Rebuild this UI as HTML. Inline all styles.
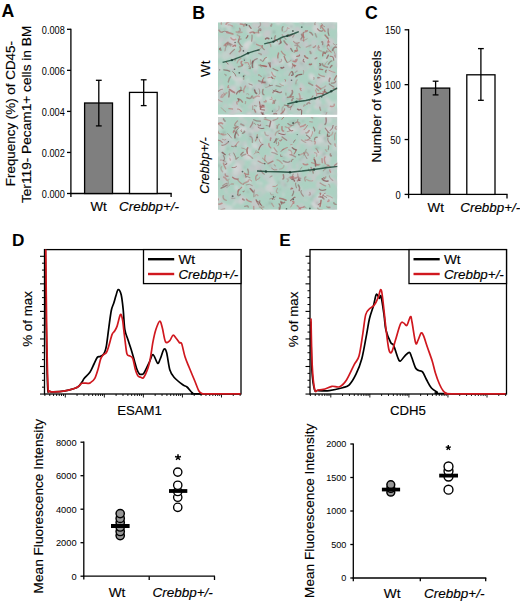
<!DOCTYPE html>
<html><head><meta charset="utf-8"><style>
html,body{margin:0;padding:0;background:#fff;}
body{width:520px;height:606px;overflow:hidden;}
svg{display:block;font-family:"Liberation Sans", sans-serif;}
text{stroke:#000;stroke-width:0.15px;paint-order:stroke;}
text[font-weight=bold]{stroke:none;}
</style></head><body>
<svg width="520" height="606" viewBox="0 0 520 606">
<rect width="520" height="606" fill="#fff"/>
<text x="1.5" y="17.3" font-size="17.7" text-anchor="start" font-weight="bold" font-style="normal" fill="#000" >A</text>
<line x1="70.9" y1="28.7" x2="70.9" y2="197.0" stroke="#000" stroke-width="1.3"/>
<line x1="67.0" y1="193.5" x2="70.9" y2="193.5" stroke="#000" stroke-width="1.3"/>
<text transform="translate(64.8,197.8) scale(0.92,1)" x="0" y="0" font-size="10.0" text-anchor="end" font-weight="normal" font-style="normal" fill="#000"  stroke="none" style="stroke:none">0.000</text>
<line x1="67.0" y1="152.45" x2="70.9" y2="152.45" stroke="#000" stroke-width="1.3"/>
<text transform="translate(64.8,156.75) scale(0.92,1)" x="0" y="0" font-size="10.0" text-anchor="end" font-weight="normal" font-style="normal" fill="#000"  stroke="none" style="stroke:none">0.002</text>
<line x1="67.0" y1="111.4" x2="70.9" y2="111.4" stroke="#000" stroke-width="1.3"/>
<text transform="translate(64.8,115.7) scale(0.92,1)" x="0" y="0" font-size="10.0" text-anchor="end" font-weight="normal" font-style="normal" fill="#000"  stroke="none" style="stroke:none">0.004</text>
<line x1="67.0" y1="70.35000000000001" x2="70.9" y2="70.35000000000001" stroke="#000" stroke-width="1.3"/>
<text transform="translate(64.8,74.65) scale(0.92,1)" x="0" y="0" font-size="10.0" text-anchor="end" font-weight="normal" font-style="normal" fill="#000"  stroke="none" style="stroke:none">0.006</text>
<line x1="67.0" y1="29.30000000000001" x2="70.9" y2="29.30000000000001" stroke="#000" stroke-width="1.3"/>
<text transform="translate(64.8,33.60000000000001) scale(0.92,1)" x="0" y="0" font-size="10.0" text-anchor="end" font-weight="normal" font-style="normal" fill="#000"  stroke="none" style="stroke:none">0.008</text>
<line x1="70.25" y1="193.5" x2="171.75" y2="193.5" stroke="#000" stroke-width="1.3"/>
<line x1="171.1" y1="193.5" x2="171.1" y2="197.0" stroke="#000" stroke-width="1.3"/>
<rect x="84.6" y="103.0" width="27.9" height="90.5" fill="#7f7f7f" stroke="#000" stroke-width="1.3"/>
<rect x="129.5" y="92.4" width="27.7" height="101.1" fill="#fff" stroke="#000" stroke-width="1.3"/>
<line x1="98.8" y1="80.3" x2="98.8" y2="125.9" stroke="#000" stroke-width="1.3"/>
<line x1="95.89999999999999" y1="80.3" x2="101.7" y2="80.3" stroke="#000" stroke-width="1.3"/>
<line x1="95.89999999999999" y1="125.9" x2="101.7" y2="125.9" stroke="#000" stroke-width="1.3"/>
<line x1="143.7" y1="79.8" x2="143.7" y2="105.6" stroke="#000" stroke-width="1.3"/>
<line x1="140.79999999999998" y1="79.8" x2="146.6" y2="79.8" stroke="#000" stroke-width="1.3"/>
<line x1="140.79999999999998" y1="105.6" x2="146.6" y2="105.6" stroke="#000" stroke-width="1.3"/>
<text x="90.4" y="210.5" font-size="13.4" text-anchor="start" font-weight="normal" font-style="normal" fill="#000" >Wt</text>
<text x="119.1" y="210.5" font-size="13.4" text-anchor="start" font-weight="normal" font-style="italic" fill="#000" >Crebbp+/-</text>
<text transform="translate(14.6,113.6) rotate(-90)" x="0" y="0" font-size="13.4" text-anchor="middle" font-style="normal">Frequency (%) of CD45-</text>
<text transform="translate(30.6,114.4) rotate(-90)" x="0" y="0" font-size="13.7" text-anchor="middle" font-style="normal">Ter119- Pecam1+ cells in BM</text>
<text x="192.3" y="18.5" font-size="17.7" text-anchor="start" font-weight="bold" font-style="normal" fill="#000" >B</text>
<text transform="translate(210.3,68.8) rotate(-90)" x="0" y="0" font-size="13.4" text-anchor="middle" font-style="normal">Wt</text>
<text transform="translate(209.2,165.5) rotate(-90)" x="0" y="0" font-size="12.6" text-anchor="middle" font-style="italic">Crebbp+/-</text>
<svg x="218" y="22.3" width="119.3" height="92.4" viewBox="0 0 119.3 92.4" overflow="hidden">
<defs><filter id="bl11" x="-5%" y="-5%" width="110%" height="110%"><feGaussianBlur stdDeviation="0.9"/></filter><filter id="bs11" x="-5%" y="-5%" width="110%" height="110%"><feGaussianBlur stdDeviation="0.45"/></filter></defs>
<rect width="119.3" height="92.4" fill="#acd1c2"/>
<g filter="url(#bl11)">
<ellipse cx="53.7" cy="52.1" rx="4.3" ry="2.9" transform="rotate(154 53.7 52.1)" fill="#d7d8d9" opacity="0.53"/>
<ellipse cx="97.7" cy="43.8" rx="3.3" ry="1.5" transform="rotate(55 97.7 43.8)" fill="#d0d1d2" opacity="0.49"/>
<ellipse cx="98.4" cy="65.2" rx="1.6" ry="1.6" transform="rotate(118 98.4 65.2)" fill="#d7d8d9" opacity="0.70"/>
<ellipse cx="16.7" cy="-1.5" rx="3.1" ry="1.3" transform="rotate(158 16.7 -1.5)" fill="#c8cbcb" opacity="0.69"/>
<ellipse cx="94.5" cy="29.1" rx="3.3" ry="2.3" transform="rotate(115 94.5 29.1)" fill="#d0d1d2" opacity="0.65"/>
<ellipse cx="80.0" cy="42.0" rx="2.3" ry="2.3" transform="rotate(151 80.0 42.0)" fill="#c5c9cb" opacity="0.73"/>
<ellipse cx="36.5" cy="19.6" rx="2.4" ry="1.7" transform="rotate(19 36.5 19.6)" fill="#c8cbcb" opacity="0.49"/>
<ellipse cx="33.5" cy="3.6" rx="1.6" ry="0.6" transform="rotate(38 33.5 3.6)" fill="#bacac6" opacity="0.81"/>
<ellipse cx="55.9" cy="93.5" rx="2.7" ry="2.0" transform="rotate(36 55.9 93.5)" fill="#c8cbcb" opacity="0.72"/>
<ellipse cx="39.2" cy="27.6" rx="1.5" ry="1.3" transform="rotate(21 39.2 27.6)" fill="#d7d8d9" opacity="0.55"/>
<ellipse cx="9.7" cy="2.9" rx="3.9" ry="3.1" transform="rotate(34 9.7 2.9)" fill="#d0d1d2" opacity="0.65"/>
<ellipse cx="120.5" cy="72.7" rx="2.8" ry="1.3" transform="rotate(76 120.5 72.7)" fill="#d7d8d9" opacity="0.54"/>
<ellipse cx="30.8" cy="92.5" rx="3.9" ry="3.9" transform="rotate(4 30.8 92.5)" fill="#bec4c5" opacity="0.52"/>
<ellipse cx="121.8" cy="56.2" rx="3.2" ry="3.2" transform="rotate(38 121.8 56.2)" fill="#c8cbcb" opacity="0.55"/>
<ellipse cx="93.8" cy="29.4" rx="2.4" ry="1.1" transform="rotate(38 93.8 29.4)" fill="#c8cbcb" opacity="0.70"/>
<ellipse cx="-1.1" cy="33.3" rx="3.4" ry="3.3" transform="rotate(87 -1.1 33.3)" fill="#d0d1d2" opacity="0.68"/>
<ellipse cx="105.6" cy="15.0" rx="2.0" ry="1.7" transform="rotate(45 105.6 15.0)" fill="#d0d1d2" opacity="0.53"/>
<ellipse cx="89.6" cy="89.5" rx="2.1" ry="1.9" transform="rotate(109 89.6 89.5)" fill="#d7d8d9" opacity="0.62"/>
<ellipse cx="10.0" cy="0.8" rx="4.4" ry="3.7" transform="rotate(70 10.0 0.8)" fill="#d0d1d2" opacity="0.62"/>
<ellipse cx="110.4" cy="45.3" rx="3.1" ry="3.0" transform="rotate(23 110.4 45.3)" fill="#bacac6" opacity="0.64"/>
<ellipse cx="78.9" cy="57.6" rx="1.7" ry="1.6" transform="rotate(37 78.9 57.6)" fill="#d0d1d2" opacity="0.46"/>
<ellipse cx="30.7" cy="40.9" rx="1.7" ry="1.0" transform="rotate(96 30.7 40.9)" fill="#d0d1d2" opacity="0.84"/>
<ellipse cx="8.6" cy="10.6" rx="2.9" ry="2.3" transform="rotate(124 8.6 10.6)" fill="#bec4c5" opacity="0.68"/>
<ellipse cx="14.6" cy="0.5" rx="1.6" ry="1.3" transform="rotate(173 14.6 0.5)" fill="#bec4c5" opacity="0.46"/>
<ellipse cx="76.7" cy="44.5" rx="3.7" ry="1.8" transform="rotate(13 76.7 44.5)" fill="#bec4c5" opacity="0.63"/>
<ellipse cx="43.1" cy="1.4" rx="4.3" ry="3.5" transform="rotate(143 43.1 1.4)" fill="#bacac6" opacity="0.82"/>
<ellipse cx="41.1" cy="64.4" rx="4.2" ry="3.8" transform="rotate(170 41.1 64.4)" fill="#cdc7cb" opacity="0.46"/>
<ellipse cx="59.6" cy="-1.6" rx="3.5" ry="2.6" transform="rotate(110 59.6 -1.6)" fill="#d7d8d9" opacity="0.48"/>
<ellipse cx="77.1" cy="94.7" rx="4.1" ry="2.5" transform="rotate(168 77.1 94.7)" fill="#bacac6" opacity="0.73"/>
<ellipse cx="54.4" cy="42.5" rx="3.1" ry="2.7" transform="rotate(5 54.4 42.5)" fill="#c5c9cb" opacity="0.69"/>
<ellipse cx="57.3" cy="19.7" rx="3.6" ry="3.1" transform="rotate(119 57.3 19.7)" fill="#d7d8d9" opacity="0.64"/>
<ellipse cx="109.3" cy="33.2" rx="1.9" ry="1.0" transform="rotate(31 109.3 33.2)" fill="#c5c9cb" opacity="0.81"/>
<ellipse cx="79.7" cy="40.5" rx="4.2" ry="2.7" transform="rotate(45 79.7 40.5)" fill="#bec4c5" opacity="0.70"/>
<ellipse cx="97.7" cy="71.3" rx="2.1" ry="1.3" transform="rotate(105 97.7 71.3)" fill="#d0d1d2" opacity="0.58"/>
<ellipse cx="14.1" cy="45.9" rx="4.0" ry="1.7" transform="rotate(12 14.1 45.9)" fill="#cdc7cb" opacity="0.84"/>
<ellipse cx="100.0" cy="8.1" rx="2.9" ry="2.6" transform="rotate(69 100.0 8.1)" fill="#d0d1d2" opacity="0.66"/>
<ellipse cx="81.2" cy="67.5" rx="4.0" ry="2.7" transform="rotate(13 81.2 67.5)" fill="#c5c9cb" opacity="0.46"/>
<ellipse cx="106.4" cy="1.1" rx="3.6" ry="2.2" transform="rotate(117 106.4 1.1)" fill="#c5c9cb" opacity="0.68"/>
<ellipse cx="77.3" cy="36.9" rx="2.1" ry="1.9" transform="rotate(43 77.3 36.9)" fill="#cdc7cb" opacity="0.51"/>
<ellipse cx="2.9" cy="58.9" rx="2.8" ry="2.0" transform="rotate(115 2.9 58.9)" fill="#bacac6" opacity="0.60"/>
<ellipse cx="6.8" cy="16.5" rx="4.0" ry="2.0" transform="rotate(2 6.8 16.5)" fill="#bec4c5" opacity="0.64"/>
<ellipse cx="86.5" cy="14.6" rx="2.3" ry="1.7" transform="rotate(170 86.5 14.6)" fill="#bec4c5" opacity="0.65"/>
<ellipse cx="121.9" cy="12.7" rx="4.0" ry="3.8" transform="rotate(16 121.9 12.7)" fill="#bacac6" opacity="0.82"/>
<ellipse cx="87.5" cy="9.8" rx="2.9" ry="2.7" transform="rotate(1 87.5 9.8)" fill="#bacac6" opacity="0.67"/>
<ellipse cx="78.8" cy="46.5" rx="4.0" ry="2.7" transform="rotate(117 78.8 46.5)" fill="#bec4c5" opacity="0.53"/>
<ellipse cx="87.5" cy="77.5" rx="3.4" ry="1.6" transform="rotate(44 87.5 77.5)" fill="#bacac6" opacity="0.61"/>
<ellipse cx="8.0" cy="27.5" rx="4.4" ry="2.5" transform="rotate(129 8.0 27.5)" fill="#bec4c5" opacity="0.46"/>
<ellipse cx="60.2" cy="0.7" rx="2.5" ry="2.2" transform="rotate(88 60.2 0.7)" fill="#d7d8d9" opacity="0.46"/>
<ellipse cx="98.4" cy="3.3" rx="3.9" ry="2.8" transform="rotate(124 98.4 3.3)" fill="#d0d1d2" opacity="0.82"/>
<ellipse cx="56.0" cy="95.4" rx="4.2" ry="3.8" transform="rotate(124 56.0 95.4)" fill="#c5c9cb" opacity="0.83"/>
<ellipse cx="58.7" cy="90.4" rx="1.8" ry="1.2" transform="rotate(101 58.7 90.4)" fill="#d0d1d2" opacity="0.78"/>
<ellipse cx="67.4" cy="13.2" rx="3.0" ry="1.7" transform="rotate(121 67.4 13.2)" fill="#c5c9cb" opacity="0.83"/>
<ellipse cx="106.0" cy="57.0" rx="2.4" ry="2.4" transform="rotate(94 106.0 57.0)" fill="#d0d1d2" opacity="0.68"/>
<ellipse cx="22.2" cy="49.7" rx="3.0" ry="1.9" transform="rotate(97 22.2 49.7)" fill="#c5c9cb" opacity="0.47"/>
<ellipse cx="111.9" cy="50.5" rx="4.5" ry="3.1" transform="rotate(124 111.9 50.5)" fill="#c8cbcb" opacity="0.48"/>
<ellipse cx="64.5" cy="37.7" rx="4.4" ry="2.5" transform="rotate(85 64.5 37.7)" fill="#d7d8d9" opacity="0.50"/>
<ellipse cx="51.3" cy="77.3" rx="4.2" ry="3.0" transform="rotate(20 51.3 77.3)" fill="#d7d8d9" opacity="0.62"/>
<ellipse cx="0.7" cy="22.6" rx="3.6" ry="1.5" transform="rotate(28 0.7 22.6)" fill="#c8cbcb" opacity="0.45"/>
<ellipse cx="32.6" cy="68.2" rx="2.2" ry="1.0" transform="rotate(132 32.6 68.2)" fill="#d7d8d9" opacity="0.50"/>
<ellipse cx="61.0" cy="21.7" rx="2.1" ry="1.9" transform="rotate(4 61.0 21.7)" fill="#c5c9cb" opacity="0.70"/>
<ellipse cx="100.4" cy="57.6" rx="3.1" ry="2.4" transform="rotate(115 100.4 57.6)" fill="#cdc7cb" opacity="0.66"/>
<ellipse cx="103.7" cy="57.2" rx="4.1" ry="3.9" transform="rotate(113 103.7 57.2)" fill="#d0d1d2" opacity="0.59"/>
<ellipse cx="19.7" cy="56.3" rx="4.2" ry="2.2" transform="rotate(180 19.7 56.3)" fill="#d0d1d2" opacity="0.81"/>
<ellipse cx="13.8" cy="20.6" rx="3.7" ry="2.3" transform="rotate(78 13.8 20.6)" fill="#bec4c5" opacity="0.83"/>
<ellipse cx="65.1" cy="66.4" rx="2.1" ry="1.7" transform="rotate(3 65.1 66.4)" fill="#bacac6" opacity="0.53"/>
<ellipse cx="82.5" cy="86.7" rx="4.4" ry="3.6" transform="rotate(114 82.5 86.7)" fill="#c8cbcb" opacity="0.59"/>
<ellipse cx="122.1" cy="79.0" rx="3.9" ry="1.8" transform="rotate(7 122.1 79.0)" fill="#d7d8d9" opacity="0.67"/>
<ellipse cx="61.5" cy="53.0" rx="1.9" ry="0.9" transform="rotate(31 61.5 53.0)" fill="#d0d1d2" opacity="0.51"/>
<ellipse cx="32.5" cy="63.2" rx="3.2" ry="3.1" transform="rotate(83 32.5 63.2)" fill="#d0d1d2" opacity="0.76"/>
<ellipse cx="38.0" cy="42.9" rx="3.0" ry="1.6" transform="rotate(67 38.0 42.9)" fill="#d7d8d9" opacity="0.70"/>
<ellipse cx="2.1" cy="16.7" rx="2.7" ry="2.3" transform="rotate(73 2.1 16.7)" fill="#bec4c5" opacity="0.53"/>
<ellipse cx="17.7" cy="47.4" rx="1.5" ry="1.4" transform="rotate(127 17.7 47.4)" fill="#c8cbcb" opacity="0.79"/>
<ellipse cx="75.9" cy="36.8" rx="3.3" ry="2.5" transform="rotate(61 75.9 36.8)" fill="#c5c9cb" opacity="0.75"/>
<ellipse cx="32.0" cy="8.4" rx="3.7" ry="3.3" transform="rotate(73 32.0 8.4)" fill="#d0d1d2" opacity="0.81"/>
<ellipse cx="107.2" cy="65.4" rx="3.8" ry="1.9" transform="rotate(37 107.2 65.4)" fill="#cdc7cb" opacity="0.52"/>
<ellipse cx="96.9" cy="26.7" rx="1.8" ry="1.8" transform="rotate(162 96.9 26.7)" fill="#bec4c5" opacity="0.47"/>
<ellipse cx="31.2" cy="91.6" rx="2.4" ry="1.9" transform="rotate(103 31.2 91.6)" fill="#d0d1d2" opacity="0.66"/>
<ellipse cx="45.8" cy="95.4" rx="3.4" ry="1.6" transform="rotate(71 45.8 95.4)" fill="#bacac6" opacity="0.68"/>
<ellipse cx="11.4" cy="7.6" rx="2.2" ry="1.4" transform="rotate(9 11.4 7.6)" fill="#d7d8d9" opacity="0.53"/>
<ellipse cx="44.1" cy="6.7" rx="2.3" ry="1.6" transform="rotate(91 44.1 6.7)" fill="#bec4c5" opacity="0.84"/>
<ellipse cx="68.2" cy="94.9" rx="3.4" ry="2.7" transform="rotate(99 68.2 94.9)" fill="#cdc7cb" opacity="0.72"/>
<ellipse cx="116.7" cy="35.0" rx="4.3" ry="2.9" transform="rotate(30 116.7 35.0)" fill="#d7d8d9" opacity="0.65"/>
<ellipse cx="73.6" cy="2.8" rx="4.3" ry="2.5" transform="rotate(72 73.6 2.8)" fill="#d7d8d9" opacity="0.57"/>
<ellipse cx="63.5" cy="44.6" rx="2.3" ry="1.8" transform="rotate(135 63.5 44.6)" fill="#bec4c5" opacity="0.46"/>
<ellipse cx="93.8" cy="54.6" rx="3.4" ry="2.9" transform="rotate(70 93.8 54.6)" fill="#d7d8d9" opacity="0.81"/>
<ellipse cx="90.8" cy="1.9" rx="4.5" ry="2.0" transform="rotate(163 90.8 1.9)" fill="#bec4c5" opacity="0.62"/>
<ellipse cx="56.8" cy="92.8" rx="2.2" ry="1.0" transform="rotate(146 56.8 92.8)" fill="#c5c9cb" opacity="0.81"/>
<ellipse cx="15.1" cy="91.5" rx="2.2" ry="1.0" transform="rotate(112 15.1 91.5)" fill="#bacac6" opacity="0.63"/>
<ellipse cx="22.5" cy="2.1" rx="3.1" ry="1.9" transform="rotate(25 22.5 2.1)" fill="#c8cbcb" opacity="0.62"/>
<ellipse cx="72.3" cy="59.9" rx="3.5" ry="3.1" transform="rotate(96 72.3 59.9)" fill="#bec4c5" opacity="0.85"/>
<ellipse cx="116.4" cy="69.3" rx="2.2" ry="1.6" transform="rotate(56 116.4 69.3)" fill="#c8cbcb" opacity="0.65"/>
<ellipse cx="103.1" cy="24.0" rx="3.3" ry="2.5" transform="rotate(107 103.1 24.0)" fill="#bacac6" opacity="0.70"/>
<ellipse cx="91.4" cy="15.7" rx="2.2" ry="2.1" transform="rotate(158 91.4 15.7)" fill="#bacac6" opacity="0.47"/>
<ellipse cx="4.6" cy="23.7" rx="2.8" ry="1.2" transform="rotate(40 4.6 23.7)" fill="#c5c9cb" opacity="0.56"/>
<ellipse cx="91.7" cy="86.8" rx="2.0" ry="1.5" transform="rotate(67 91.7 86.8)" fill="#d0d1d2" opacity="0.64"/>
<ellipse cx="23.4" cy="30.8" rx="3.7" ry="3.4" transform="rotate(144 23.4 30.8)" fill="#cdc7cb" opacity="0.63"/>
<ellipse cx="100.0" cy="79.5" rx="3.8" ry="2.5" transform="rotate(46 100.0 79.5)" fill="#d7d8d9" opacity="0.77"/>
<ellipse cx="43.2" cy="61.3" rx="4.5" ry="2.6" transform="rotate(137 43.2 61.3)" fill="#bec4c5" opacity="0.78"/>
<ellipse cx="20.0" cy="61.3" rx="3.2" ry="3.0" transform="rotate(14 20.0 61.3)" fill="#d7d8d9" opacity="0.48"/>
<ellipse cx="67.7" cy="44.7" rx="3.6" ry="3.2" transform="rotate(2 67.7 44.7)" fill="#bec4c5" opacity="0.57"/>
<ellipse cx="111.1" cy="56.4" rx="3.6" ry="3.0" transform="rotate(125 111.1 56.4)" fill="#d7d8d9" opacity="0.56"/>
<ellipse cx="14.9" cy="32.2" rx="3.7" ry="3.5" transform="rotate(58 14.9 32.2)" fill="#bec4c5" opacity="0.63"/>
<ellipse cx="71.5" cy="85.8" rx="3.6" ry="2.4" transform="rotate(145 71.5 85.8)" fill="#bec4c5" opacity="0.57"/>
<ellipse cx="36.8" cy="36.3" rx="4.3" ry="2.4" transform="rotate(65 36.8 36.3)" fill="#c5c9cb" opacity="0.60"/>
<ellipse cx="42.5" cy="35.9" rx="2.7" ry="2.2" transform="rotate(66 42.5 35.9)" fill="#d0d1d2" opacity="0.61"/>
<ellipse cx="16.4" cy="55.2" rx="2.0" ry="1.7" transform="rotate(159 16.4 55.2)" fill="#c8cbcb" opacity="0.56"/>
<ellipse cx="-0.2" cy="47.7" rx="3.1" ry="1.8" transform="rotate(4 -0.2 47.7)" fill="#c5c9cb" opacity="0.79"/>
<ellipse cx="50.0" cy="54.3" rx="2.4" ry="1.1" transform="rotate(15 50.0 54.3)" fill="#c5c9cb" opacity="0.74"/>
<ellipse cx="109.7" cy="5.3" rx="3.4" ry="1.6" transform="rotate(147 109.7 5.3)" fill="#d0d1d2" opacity="0.62"/>
<ellipse cx="86.2" cy="45.1" rx="4.2" ry="3.6" transform="rotate(71 86.2 45.1)" fill="#bec4c5" opacity="0.59"/>
<ellipse cx="118.3" cy="63.2" rx="3.0" ry="2.6" transform="rotate(13 118.3 63.2)" fill="#c5c9cb" opacity="0.70"/>
<ellipse cx="2.8" cy="71.5" rx="4.5" ry="4.1" transform="rotate(145 2.8 71.5)" fill="#bec4c5" opacity="0.78"/>
<ellipse cx="108.3" cy="91.2" rx="3.4" ry="2.1" transform="rotate(2 108.3 91.2)" fill="#c5c9cb" opacity="0.49"/>
<ellipse cx="112.7" cy="87.1" rx="2.2" ry="2.2" transform="rotate(68 112.7 87.1)" fill="#d0d1d2" opacity="0.52"/>
<ellipse cx="22.6" cy="38.8" rx="2.4" ry="1.6" transform="rotate(132 22.6 38.8)" fill="#c8cbcb" opacity="0.57"/>
<ellipse cx="16.5" cy="87.5" rx="4.2" ry="2.9" transform="rotate(105 16.5 87.5)" fill="#cdc7cb" opacity="0.81"/>
<ellipse cx="1.6" cy="7.7" rx="2.1" ry="1.5" transform="rotate(108 1.6 7.7)" fill="#d0d1d2" opacity="0.64"/>
<ellipse cx="60.7" cy="40.5" rx="4.2" ry="2.1" transform="rotate(136 60.7 40.5)" fill="#d7d8d9" opacity="0.57"/>
<ellipse cx="65.7" cy="77.4" rx="2.9" ry="2.0" transform="rotate(72 65.7 77.4)" fill="#bec4c5" opacity="0.83"/>
<ellipse cx="79.7" cy="72.9" rx="1.8" ry="0.9" transform="rotate(9 79.7 72.9)" fill="#cdc7cb" opacity="0.83"/>
<ellipse cx="97.4" cy="34.9" rx="3.1" ry="2.7" transform="rotate(142 97.4 34.9)" fill="#c5c9cb" opacity="0.47"/>
<ellipse cx="112.8" cy="84.8" rx="4.1" ry="2.8" transform="rotate(44 112.8 84.8)" fill="#bec4c5" opacity="0.62"/>
<ellipse cx="106.6" cy="37.9" rx="3.8" ry="2.1" transform="rotate(156 106.6 37.9)" fill="#d0d1d2" opacity="0.66"/>
<ellipse cx="76.8" cy="94.7" rx="2.3" ry="1.0" transform="rotate(103 76.8 94.7)" fill="#c5c9cb" opacity="0.52"/>
<ellipse cx="22.6" cy="87.2" rx="1.9" ry="0.9" transform="rotate(49 22.6 87.2)" fill="#d0d1d2" opacity="0.74"/>
<ellipse cx="9.2" cy="44.2" rx="2.9" ry="2.2" transform="rotate(154 9.2 44.2)" fill="#bacac6" opacity="0.57"/>
<ellipse cx="95.9" cy="38.0" rx="4.3" ry="3.7" transform="rotate(79 95.9 38.0)" fill="#c8cbcb" opacity="0.46"/>
<ellipse cx="48.8" cy="45.6" rx="4.3" ry="2.6" transform="rotate(73 48.8 45.6)" fill="#bec4c5" opacity="0.67"/>
<ellipse cx="122.0" cy="62.6" rx="1.7" ry="1.4" transform="rotate(19 122.0 62.6)" fill="#c8cbcb" opacity="0.61"/>
<ellipse cx="54.9" cy="92.1" rx="4.0" ry="2.7" transform="rotate(155 54.9 92.1)" fill="#bacac6" opacity="0.73"/>
<ellipse cx="56.5" cy="25.9" rx="1.8" ry="0.7" transform="rotate(178 56.5 25.9)" fill="#cdc7cb" opacity="0.77"/>
<ellipse cx="22.9" cy="57.6" rx="2.4" ry="2.3" transform="rotate(135 22.9 57.6)" fill="#d7d8d9" opacity="0.83"/>
<ellipse cx="91.6" cy="51.7" rx="1.8" ry="0.9" transform="rotate(132 91.6 51.7)" fill="#d0d1d2" opacity="0.58"/>
<ellipse cx="115.4" cy="52.4" rx="3.7" ry="2.5" transform="rotate(69 115.4 52.4)" fill="#bec4c5" opacity="0.49"/>
<ellipse cx="74.9" cy="9.9" rx="3.4" ry="1.7" transform="rotate(72 74.9 9.9)" fill="#d0d1d2" opacity="0.78"/>
<ellipse cx="71.3" cy="5.9" rx="2.2" ry="2.2" transform="rotate(78 71.3 5.9)" fill="#d0d1d2" opacity="0.76"/>
<ellipse cx="39.8" cy="78.0" rx="4.3" ry="3.4" transform="rotate(138 39.8 78.0)" fill="#d0d1d2" opacity="0.78"/>
<ellipse cx="45.4" cy="29.6" rx="2.7" ry="2.3" transform="rotate(110 45.4 29.6)" fill="#c8cbcb" opacity="0.58"/>
<ellipse cx="95.8" cy="21.1" rx="4.5" ry="1.8" transform="rotate(60 95.8 21.1)" fill="#c5c9cb" opacity="0.59"/>
<ellipse cx="78.5" cy="7.5" rx="2.6" ry="1.6" transform="rotate(53 78.5 7.5)" fill="#c5c9cb" opacity="0.49"/>
<ellipse cx="86.4" cy="22.0" rx="3.1" ry="2.3" transform="rotate(63 86.4 22.0)" fill="#bec4c5" opacity="0.65"/>
<ellipse cx="14.8" cy="67.2" rx="4.5" ry="4.5" transform="rotate(127 14.8 67.2)" fill="#c5c9cb" opacity="0.82"/>
<ellipse cx="68.1" cy="-0.4" rx="3.5" ry="1.6" transform="rotate(44 68.1 -0.4)" fill="#cdc7cb" opacity="0.68"/>
<ellipse cx="84.3" cy="29.4" rx="4.3" ry="2.4" transform="rotate(159 84.3 29.4)" fill="#bec4c5" opacity="0.63"/>
<ellipse cx="88.4" cy="20.5" rx="3.2" ry="2.4" transform="rotate(101 88.4 20.5)" fill="#c5c9cb" opacity="0.56"/>
<ellipse cx="110.9" cy="94.6" rx="4.0" ry="1.9" transform="rotate(168 110.9 94.6)" fill="#c5c9cb" opacity="0.45"/>
<ellipse cx="82.8" cy="32.8" rx="3.8" ry="3.4" transform="rotate(33 82.8 32.8)" fill="#bec4c5" opacity="0.67"/>
<ellipse cx="6.6" cy="0.2" rx="2.0" ry="1.0" transform="rotate(136 6.6 0.2)" fill="#bacac6" opacity="0.79"/>
<ellipse cx="110.6" cy="57.5" rx="3.4" ry="1.4" transform="rotate(36 110.6 57.5)" fill="#cdc7cb" opacity="0.64"/>
<ellipse cx="14.9" cy="35.0" rx="3.2" ry="1.9" transform="rotate(24 14.9 35.0)" fill="#d0d1d2" opacity="0.55"/>
<ellipse cx="113.7" cy="2.3" rx="3.9" ry="3.1" transform="rotate(26 113.7 2.3)" fill="#bacac6" opacity="0.83"/>
<ellipse cx="72.2" cy="43.2" rx="2.7" ry="2.6" transform="rotate(102 72.2 43.2)" fill="#c5c9cb" opacity="0.61"/>
<ellipse cx="32.3" cy="84.5" rx="2.9" ry="2.4" transform="rotate(149 32.3 84.5)" fill="#cdc7cb" opacity="0.50"/>
<ellipse cx="11.4" cy="89.4" rx="2.5" ry="1.6" transform="rotate(163 11.4 89.4)" fill="#c5c9cb" opacity="0.58"/>
<ellipse cx="3.9" cy="68.4" rx="4.2" ry="2.6" transform="rotate(58 3.9 68.4)" fill="#bacac6" opacity="0.77"/>
<ellipse cx="107.6" cy="83.3" rx="2.2" ry="1.5" transform="rotate(90 107.6 83.3)" fill="#cdc7cb" opacity="0.61"/>
<ellipse cx="3.5" cy="65.4" rx="3.1" ry="2.2" transform="rotate(118 3.5 65.4)" fill="#d0d1d2" opacity="0.83"/>
<ellipse cx="107.2" cy="95.3" rx="3.7" ry="3.0" transform="rotate(156 107.2 95.3)" fill="#cdc7cb" opacity="0.62"/>
<ellipse cx="97.9" cy="18.8" rx="3.7" ry="1.8" transform="rotate(13 97.9 18.8)" fill="#c5c9cb" opacity="0.66"/>
<ellipse cx="13.3" cy="83.8" rx="3.2" ry="1.3" transform="rotate(44 13.3 83.8)" fill="#d7d8d9" opacity="0.57"/>
<ellipse cx="37.7" cy="3.2" rx="4.2" ry="3.0" transform="rotate(25 37.7 3.2)" fill="#cdc7cb" opacity="0.73"/>
<ellipse cx="25.9" cy="27.1" rx="2.9" ry="1.7" transform="rotate(90 25.9 27.1)" fill="#bec4c5" opacity="0.82"/>
<ellipse cx="119.5" cy="43.5" rx="2.1" ry="1.9" transform="rotate(125 119.5 43.5)" fill="#bec4c5" opacity="0.47"/>
<ellipse cx="36.6" cy="81.5" rx="4.2" ry="2.1" transform="rotate(158 36.6 81.5)" fill="#c8cbcb" opacity="0.85"/>
<ellipse cx="22.3" cy="59.2" rx="2.1" ry="1.6" transform="rotate(55 22.3 59.2)" fill="#c8cbcb" opacity="0.78"/>
<ellipse cx="117.5" cy="24.0" rx="2.8" ry="1.7" transform="rotate(172 117.5 24.0)" fill="#d0d1d2" opacity="0.76"/>
<ellipse cx="49.0" cy="13.7" rx="4.1" ry="3.4" transform="rotate(35 49.0 13.7)" fill="#c8cbcb" opacity="0.52"/>
<ellipse cx="26.5" cy="62.4" rx="3.9" ry="3.4" transform="rotate(94 26.5 62.4)" fill="#bec4c5" opacity="0.50"/>
<ellipse cx="61.6" cy="93.2" rx="4.2" ry="3.4" transform="rotate(50 61.6 93.2)" fill="#d0d1d2" opacity="0.71"/>
<ellipse cx="8.3" cy="93.7" rx="2.8" ry="1.3" transform="rotate(163 8.3 93.7)" fill="#c5c9cb" opacity="0.45"/>
<ellipse cx="70.5" cy="49.9" rx="2.8" ry="1.3" transform="rotate(51 70.5 49.9)" fill="#c5c9cb" opacity="0.75"/>
<ellipse cx="27.8" cy="24.5" rx="3.1" ry="2.7" transform="rotate(27 27.8 24.5)" fill="#d0d1d2" opacity="0.81"/>
<ellipse cx="74.9" cy="87.2" rx="3.3" ry="3.1" transform="rotate(90 74.9 87.2)" fill="#c8cbcb" opacity="0.52"/>
<ellipse cx="66.7" cy="60.5" rx="2.6" ry="1.8" transform="rotate(6 66.7 60.5)" fill="#bacac6" opacity="0.57"/>
<ellipse cx="100.6" cy="59.5" rx="4.5" ry="4.3" transform="rotate(31 100.6 59.5)" fill="#bacac6" opacity="0.76"/>
<ellipse cx="17.7" cy="56.8" rx="2.2" ry="1.6" transform="rotate(46 17.7 56.8)" fill="#d7d8d9" opacity="0.74"/>
<ellipse cx="87.4" cy="22.6" rx="3.1" ry="2.3" transform="rotate(90 87.4 22.6)" fill="#cdc7cb" opacity="0.46"/>
<ellipse cx="71.8" cy="67.3" rx="3.2" ry="3.0" transform="rotate(59 71.8 67.3)" fill="#cdc7cb" opacity="0.69"/>
<ellipse cx="73.3" cy="76.3" rx="3.0" ry="1.7" transform="rotate(144 73.3 76.3)" fill="#bacac6" opacity="0.48"/>
<ellipse cx="110.7" cy="53.0" rx="3.1" ry="2.6" transform="rotate(112 110.7 53.0)" fill="#cdc7cb" opacity="0.47"/>
<ellipse cx="50.3" cy="65.5" rx="4.0" ry="2.8" transform="rotate(48 50.3 65.5)" fill="#bacac6" opacity="0.69"/>
<ellipse cx="8.1" cy="77.7" rx="2.0" ry="1.1" transform="rotate(89 8.1 77.7)" fill="#bec4c5" opacity="0.71"/>
<ellipse cx="71.7" cy="41.7" rx="2.4" ry="1.5" transform="rotate(39 71.7 41.7)" fill="#d7d8d9" opacity="0.84"/>
<ellipse cx="2.3" cy="45.2" rx="3.8" ry="1.8" transform="rotate(82 2.3 45.2)" fill="#d0d1d2" opacity="0.75"/>
<ellipse cx="1.9" cy="20.7" rx="4.2" ry="1.9" transform="rotate(100 1.9 20.7)" fill="#d0d1d2" opacity="0.64"/>
<ellipse cx="114.2" cy="92.6" rx="3.5" ry="3.0" transform="rotate(132 114.2 92.6)" fill="#bacac6" opacity="0.54"/>
<ellipse cx="28.7" cy="51.3" rx="2.2" ry="1.0" transform="rotate(41 28.7 51.3)" fill="#d7d8d9" opacity="0.57"/>
<ellipse cx="115.6" cy="87.8" rx="2.2" ry="1.4" transform="rotate(117 115.6 87.8)" fill="#d0d1d2" opacity="0.47"/>
<ellipse cx="40.0" cy="65.4" rx="4.1" ry="3.9" transform="rotate(32 40.0 65.4)" fill="#c5c9cb" opacity="0.79"/>
<ellipse cx="114.2" cy="18.0" rx="2.6" ry="1.4" transform="rotate(63 114.2 18.0)" fill="#c8cbcb" opacity="0.52"/>
<ellipse cx="65.9" cy="13.1" rx="2.1" ry="1.6" transform="rotate(137 65.9 13.1)" fill="#d0d1d2" opacity="0.64"/>
<ellipse cx="58.4" cy="58.7" rx="2.0" ry="1.1" transform="rotate(69 58.4 58.7)" fill="#d7d8d9" opacity="0.48"/>
<ellipse cx="83.6" cy="32.7" rx="2.3" ry="1.7" transform="rotate(133 83.6 32.7)" fill="#c8cbcb" opacity="0.65"/>
<ellipse cx="68.1" cy="60.9" rx="2.2" ry="1.3" transform="rotate(28 68.1 60.9)" fill="#c8cbcb" opacity="0.82"/>
<ellipse cx="42.1" cy="72.3" rx="3.7" ry="1.5" transform="rotate(58 42.1 72.3)" fill="#c8cbcb" opacity="0.60"/>
<ellipse cx="7.4" cy="83.8" rx="2.5" ry="2.3" transform="rotate(120 7.4 83.8)" fill="#cdc7cb" opacity="0.57"/>
<ellipse cx="73.2" cy="45.1" rx="2.1" ry="1.6" transform="rotate(6 73.2 45.1)" fill="#c5c9cb" opacity="0.57"/>
<ellipse cx="50.1" cy="50.5" rx="1.9" ry="1.4" transform="rotate(56 50.1 50.5)" fill="#bacac6" opacity="0.63"/>
<ellipse cx="44.2" cy="83.6" rx="4.0" ry="3.3" transform="rotate(73 44.2 83.6)" fill="#c5c9cb" opacity="0.60"/>
<ellipse cx="105.5" cy="19.2" rx="2.4" ry="1.8" transform="rotate(25 105.5 19.2)" fill="#bec4c5" opacity="0.79"/>
<ellipse cx="90.6" cy="44.5" rx="1.5" ry="1.5" transform="rotate(54 90.6 44.5)" fill="#cdc7cb" opacity="0.72"/>
<ellipse cx="112.2" cy="18.3" rx="3.6" ry="1.7" transform="rotate(139 112.2 18.3)" fill="#bacac6" opacity="0.60"/>
<ellipse cx="95.1" cy="22.5" rx="3.9" ry="2.5" transform="rotate(11 95.1 22.5)" fill="#c8cbcb" opacity="0.60"/>
<ellipse cx="38.1" cy="45.9" rx="2.3" ry="2.2" transform="rotate(36 38.1 45.9)" fill="#d0d1d2" opacity="0.76"/>
<ellipse cx="40.9" cy="67.1" rx="3.1" ry="1.9" transform="rotate(76 40.9 67.1)" fill="#bacac6" opacity="0.51"/>
<ellipse cx="70.0" cy="66.0" rx="3.2" ry="3.0" transform="rotate(162 70.0 66.0)" fill="#bacac6" opacity="0.50"/>
<ellipse cx="111.0" cy="86.8" rx="2.3" ry="1.6" transform="rotate(105 111.0 86.8)" fill="#d7d8d9" opacity="0.64"/>
<ellipse cx="37.8" cy="21.9" rx="1.6" ry="0.9" transform="rotate(67 37.8 21.9)" fill="#bec4c5" opacity="0.57"/>
<ellipse cx="99.1" cy="84.3" rx="3.4" ry="2.6" transform="rotate(172 99.1 84.3)" fill="#d7d8d9" opacity="0.60"/>
<ellipse cx="69.2" cy="89.7" rx="3.8" ry="1.6" transform="rotate(98 69.2 89.7)" fill="#bacac6" opacity="0.70"/>
<ellipse cx="5.0" cy="3.7" rx="2.9" ry="1.8" transform="rotate(164 5.0 3.7)" fill="#d7d8d9" opacity="0.47"/>
<ellipse cx="14.0" cy="46.9" rx="2.4" ry="1.7" transform="rotate(4 14.0 46.9)" fill="#bec4c5" opacity="0.69"/>
<ellipse cx="30.8" cy="22.4" rx="2.2" ry="0.9" transform="rotate(98 30.8 22.4)" fill="#c5c9cb" opacity="0.61"/>
<ellipse cx="27.0" cy="45.6" rx="3.5" ry="1.5" transform="rotate(148 27.0 45.6)" fill="#c5c9cb" opacity="0.80"/>
<ellipse cx="83.6" cy="75.4" rx="2.3" ry="2.1" transform="rotate(56 83.6 75.4)" fill="#c8cbcb" opacity="0.74"/>
<ellipse cx="84.1" cy="64.6" rx="4.4" ry="2.2" transform="rotate(60 84.1 64.6)" fill="#cdc7cb" opacity="0.73"/>
<ellipse cx="97.9" cy="25.9" rx="2.7" ry="2.3" transform="rotate(96 97.9 25.9)" fill="#bec4c5" opacity="0.54"/>
<ellipse cx="28.2" cy="29.0" rx="2.0" ry="1.7" transform="rotate(158 28.2 29.0)" fill="#c5c9cb" opacity="0.85"/>
<ellipse cx="99.5" cy="84.1" rx="2.4" ry="1.6" transform="rotate(139 99.5 84.1)" fill="#cdc7cb" opacity="0.64"/>
<ellipse cx="17.4" cy="82.2" rx="4.1" ry="2.5" transform="rotate(72 17.4 82.2)" fill="#c8cbcb" opacity="0.75"/>
<ellipse cx="83.9" cy="21.9" rx="3.4" ry="2.8" transform="rotate(59 83.9 21.9)" fill="#bec4c5" opacity="0.58"/>
<ellipse cx="92.1" cy="79.9" rx="4.0" ry="3.9" transform="rotate(115 92.1 79.9)" fill="#c5c9cb" opacity="0.50"/>
<ellipse cx="89.8" cy="23.5" rx="2.0" ry="1.2" transform="rotate(120 89.8 23.5)" fill="#d0d1d2" opacity="0.54"/>
<ellipse cx="20.1" cy="-1.7" rx="3.3" ry="3.2" transform="rotate(24 20.1 -1.7)" fill="#cdc7cb" opacity="0.73"/>
<ellipse cx="49.5" cy="59.1" rx="2.7" ry="2.7" transform="rotate(9 49.5 59.1)" fill="#bacac6" opacity="0.74"/>
<ellipse cx="11.8" cy="1.2" rx="2.4" ry="1.7" transform="rotate(144 11.8 1.2)" fill="#bacac6" opacity="0.61"/>
<ellipse cx="110.4" cy="78.9" rx="4.1" ry="2.5" transform="rotate(56 110.4 78.9)" fill="#d0d1d2" opacity="0.77"/>
<ellipse cx="102.1" cy="24.9" rx="2.7" ry="1.7" transform="rotate(26 102.1 24.9)" fill="#c5c9cb" opacity="0.68"/>
<ellipse cx="81.6" cy="18.3" rx="2.3" ry="1.1" transform="rotate(32 81.6 18.3)" fill="#cdc7cb" opacity="0.49"/>
<ellipse cx="114.0" cy="21.7" rx="3.0" ry="1.5" transform="rotate(159 114.0 21.7)" fill="#c8cbcb" opacity="0.56"/>
<ellipse cx="68.3" cy="23.9" rx="2.7" ry="1.4" transform="rotate(87 68.3 23.9)" fill="#bec4c5" opacity="0.60"/>
<ellipse cx="29.5" cy="2.0" rx="1.7" ry="1.0" transform="rotate(14 29.5 2.0)" fill="#cdc7cb" opacity="0.52"/>
<ellipse cx="57.6" cy="95.1" rx="2.1" ry="1.4" transform="rotate(6 57.6 95.1)" fill="#cdc7cb" opacity="0.59"/>
<ellipse cx="67.1" cy="51.8" rx="2.1" ry="1.7" transform="rotate(112 67.1 51.8)" fill="#c5c9cb" opacity="0.56"/>
<ellipse cx="114.6" cy="82.1" rx="4.5" ry="3.3" transform="rotate(169 114.6 82.1)" fill="#d7d8d9" opacity="0.47"/>
<ellipse cx="104.4" cy="90.0" rx="3.1" ry="1.4" transform="rotate(65 104.4 90.0)" fill="#bacac6" opacity="0.75"/>
<ellipse cx="35.8" cy="47.6" rx="1.5" ry="0.7" transform="rotate(66 35.8 47.6)" fill="#d0d1d2" opacity="0.76"/>
<ellipse cx="30.2" cy="21.1" rx="4.3" ry="2.7" transform="rotate(145 30.2 21.1)" fill="#d7d8d9" opacity="0.78"/>
<ellipse cx="93.2" cy="94.0" rx="1.8" ry="1.2" transform="rotate(127 93.2 94.0)" fill="#d7d8d9" opacity="0.55"/>
<ellipse cx="111.0" cy="-0.7" rx="3.2" ry="1.9" transform="rotate(130 111.0 -0.7)" fill="#d0d1d2" opacity="0.65"/>
<ellipse cx="31.7" cy="94.6" rx="3.4" ry="2.1" transform="rotate(50 31.7 94.6)" fill="#d7d8d9" opacity="0.81"/>
<ellipse cx="37.3" cy="6.3" rx="2.5" ry="1.3" transform="rotate(8 37.3 6.3)" fill="#bacac6" opacity="0.50"/>
<ellipse cx="35.2" cy="17.3" rx="2.5" ry="1.2" transform="rotate(63 35.2 17.3)" fill="#d0d1d2" opacity="0.62"/>
<ellipse cx="-1.8" cy="46.5" rx="2.7" ry="2.6" transform="rotate(151 -1.8 46.5)" fill="#bec4c5" opacity="0.75"/>
<ellipse cx="-0.4" cy="14.2" rx="1.7" ry="0.8" transform="rotate(178 -0.4 14.2)" fill="#c5c9cb" opacity="0.62"/>
<ellipse cx="117.6" cy="18.6" rx="2.7" ry="2.5" transform="rotate(146 117.6 18.6)" fill="#bacac6" opacity="0.48"/>
<ellipse cx="45.9" cy="87.6" rx="4.1" ry="2.5" transform="rotate(178 45.9 87.6)" fill="#cdc7cb" opacity="0.51"/>
<ellipse cx="76.5" cy="34.2" rx="3.4" ry="2.6" transform="rotate(62 76.5 34.2)" fill="#d0d1d2" opacity="0.63"/>
<ellipse cx="86.5" cy="38.7" rx="4.4" ry="2.1" transform="rotate(133 86.5 38.7)" fill="#c8cbcb" opacity="0.75"/>
<ellipse cx="51.7" cy="43.0" rx="4.0" ry="2.2" transform="rotate(108 51.7 43.0)" fill="#c5c9cb" opacity="0.68"/>
<ellipse cx="61.6" cy="0.2" rx="3.4" ry="1.9" transform="rotate(8 61.6 0.2)" fill="#d7d8d9" opacity="0.47"/>
<ellipse cx="37.7" cy="49.8" rx="2.5" ry="2.1" transform="rotate(56 37.7 49.8)" fill="#bec4c5" opacity="0.74"/>
<ellipse cx="121.0" cy="36.6" rx="4.1" ry="3.5" transform="rotate(162 121.0 36.6)" fill="#d0d1d2" opacity="0.49"/>
<ellipse cx="20.4" cy="87.9" rx="3.9" ry="3.5" transform="rotate(144 20.4 87.9)" fill="#d0d1d2" opacity="0.65"/>
<ellipse cx="121.5" cy="3.4" rx="4.1" ry="2.5" transform="rotate(93 121.5 3.4)" fill="#bacac6" opacity="0.59"/>
<ellipse cx="23.0" cy="-1.6" rx="2.8" ry="1.6" transform="rotate(116 23.0 -1.6)" fill="#d7d8d9" opacity="0.48"/>
<ellipse cx="66.5" cy="74.5" rx="3.0" ry="1.3" transform="rotate(89 66.5 74.5)" fill="#d0d1d2" opacity="0.47"/>
<ellipse cx="106.0" cy="92.7" rx="1.7" ry="1.5" transform="rotate(32 106.0 92.7)" fill="#d0d1d2" opacity="0.58"/>
<ellipse cx="113.4" cy="91.0" rx="2.2" ry="1.0" transform="rotate(33 113.4 91.0)" fill="#bec4c5" opacity="0.61"/>
<ellipse cx="103.4" cy="57.7" rx="4.2" ry="1.9" transform="rotate(117 103.4 57.7)" fill="#c8cbcb" opacity="0.66"/>
<ellipse cx="36.6" cy="91.2" rx="4.4" ry="3.5" transform="rotate(78 36.6 91.2)" fill="#c5c9cb" opacity="0.46"/>
<ellipse cx="39.5" cy="28.0" rx="3.4" ry="2.7" transform="rotate(38 39.5 28.0)" fill="#bec4c5" opacity="0.53"/>
<ellipse cx="93.0" cy="13.9" rx="3.2" ry="1.5" transform="rotate(21 93.0 13.9)" fill="#c8cbcb" opacity="0.83"/>
<ellipse cx="73.4" cy="32.2" rx="2.1" ry="1.7" transform="rotate(133 73.4 32.2)" fill="#c8cbcb" opacity="0.59"/>
<ellipse cx="35.9" cy="37.2" rx="1.9" ry="1.1" transform="rotate(67 35.9 37.2)" fill="#bacac6" opacity="0.70"/>
<ellipse cx="32.0" cy="10.2" rx="1.9" ry="1.1" transform="rotate(127 32.0 10.2)" fill="#c8cbcb" opacity="0.54"/>
<ellipse cx="69.6" cy="25.0" rx="4.1" ry="4.0" transform="rotate(14 69.6 25.0)" fill="#bec4c5" opacity="0.71"/>
<ellipse cx="25.3" cy="44.0" rx="2.1" ry="1.6" transform="rotate(81 25.3 44.0)" fill="#d7d8d9" opacity="0.48"/>
<ellipse cx="49.5" cy="24.7" rx="2.8" ry="1.6" transform="rotate(125 49.5 24.7)" fill="#bec4c5" opacity="0.72"/>
<ellipse cx="27.7" cy="37.5" rx="1.9" ry="1.0" transform="rotate(76 27.7 37.5)" fill="#cdc7cb" opacity="0.59"/>
<ellipse cx="99.8" cy="80.7" rx="3.3" ry="2.6" transform="rotate(82 99.8 80.7)" fill="#c5c9cb" opacity="0.53"/>
<ellipse cx="96.0" cy="-1.4" rx="1.6" ry="1.3" transform="rotate(62 96.0 -1.4)" fill="#c5c9cb" opacity="0.81"/>
<ellipse cx="116.0" cy="-0.7" rx="3.4" ry="1.5" transform="rotate(31 116.0 -0.7)" fill="#d7d8d9" opacity="0.65"/>
<ellipse cx="57.1" cy="61.1" rx="1.7" ry="1.7" transform="rotate(179 57.1 61.1)" fill="#d0d1d2" opacity="0.61"/>
<ellipse cx="100.8" cy="61.0" rx="3.6" ry="1.6" transform="rotate(83 100.8 61.0)" fill="#c8cbcb" opacity="0.61"/>
<ellipse cx="79.2" cy="18.5" rx="4.5" ry="3.1" transform="rotate(149 79.2 18.5)" fill="#d0d1d2" opacity="0.66"/>
<ellipse cx="9.0" cy="75.2" rx="1.5" ry="1.2" transform="rotate(142 9.0 75.2)" fill="#bacac6" opacity="0.81"/>
<ellipse cx="80.1" cy="92.4" rx="2.9" ry="1.9" transform="rotate(28 80.1 92.4)" fill="#c8cbcb" opacity="0.60"/>
<ellipse cx="42.9" cy="78.9" rx="4.1" ry="2.5" transform="rotate(96 42.9 78.9)" fill="#c8cbcb" opacity="0.66"/>
<ellipse cx="10.9" cy="74.7" rx="2.4" ry="1.8" transform="rotate(12 10.9 74.7)" fill="#c5c9cb" opacity="0.55"/>
<ellipse cx="80.0" cy="47.2" rx="2.4" ry="2.1" transform="rotate(44 80.0 47.2)" fill="#bec4c5" opacity="0.62"/>
<ellipse cx="3.8" cy="18.4" rx="2.9" ry="1.3" transform="rotate(25 3.8 18.4)" fill="#c5c9cb" opacity="0.81"/>
<ellipse cx="98.5" cy="46.6" rx="1.9" ry="1.4" transform="rotate(73 98.5 46.6)" fill="#c5c9cb" opacity="0.69"/>
<ellipse cx="105.2" cy="91.8" rx="2.7" ry="1.5" transform="rotate(143 105.2 91.8)" fill="#c8cbcb" opacity="0.49"/>
<ellipse cx="89.4" cy="34.1" rx="2.4" ry="1.0" transform="rotate(20 89.4 34.1)" fill="#c5c9cb" opacity="0.57"/>
<ellipse cx="118.1" cy="60.3" rx="4.0" ry="2.6" transform="rotate(54 118.1 60.3)" fill="#c8cbcb" opacity="0.54"/>
<ellipse cx="64.3" cy="61.7" rx="2.8" ry="1.4" transform="rotate(179 64.3 61.7)" fill="#d7d8d9" opacity="0.67"/>
<ellipse cx="14.3" cy="93.6" rx="4.3" ry="2.7" transform="rotate(54 14.3 93.6)" fill="#c8cbcb" opacity="0.75"/>
<ellipse cx="29.4" cy="33.2" rx="2.8" ry="1.8" transform="rotate(117 29.4 33.2)" fill="#d7d8d9" opacity="0.58"/>
<ellipse cx="11.6" cy="27.6" rx="3.1" ry="2.2" transform="rotate(99 11.6 27.6)" fill="#d0d1d2" opacity="0.61"/>
<ellipse cx="24.9" cy="6.8" rx="2.6" ry="1.6" transform="rotate(171 24.9 6.8)" fill="#bec4c5" opacity="0.66"/>
<ellipse cx="63.0" cy="69.1" rx="2.6" ry="2.6" transform="rotate(1 63.0 69.1)" fill="#c5c9cb" opacity="0.69"/>
<ellipse cx="117.4" cy="33.0" rx="3.3" ry="3.0" transform="rotate(38 117.4 33.0)" fill="#bec4c5" opacity="0.76"/>
<ellipse cx="4.0" cy="15.1" rx="1.9" ry="1.6" transform="rotate(10 4.0 15.1)" fill="#cdc7cb" opacity="0.49"/>
<ellipse cx="28.6" cy="23.6" rx="3.9" ry="3.1" transform="rotate(67 28.6 23.6)" fill="#d7d8d9" opacity="0.49"/>
<ellipse cx="68.7" cy="6.6" rx="2.7" ry="2.4" transform="rotate(59 68.7 6.6)" fill="#d0d1d2" opacity="0.58"/>
<ellipse cx="99.7" cy="74.6" rx="3.4" ry="3.4" transform="rotate(88 99.7 74.6)" fill="#c8cbcb" opacity="0.61"/>
<ellipse cx="7.5" cy="10.6" rx="2.5" ry="1.0" transform="rotate(168 7.5 10.6)" fill="#bacac6" opacity="0.75"/>
<ellipse cx="69.7" cy="-2.5" rx="3.7" ry="2.2" transform="rotate(113 69.7 -2.5)" fill="#d7d8d9" opacity="0.82"/>
<ellipse cx="99.9" cy="14.0" rx="1.8" ry="1.5" transform="rotate(68 99.9 14.0)" fill="#bacac6" opacity="0.63"/>
<ellipse cx="51.7" cy="8.6" rx="2.5" ry="2.1" transform="rotate(150 51.7 8.6)" fill="#bacac6" opacity="0.83"/>
<ellipse cx="41.6" cy="78.8" rx="3.6" ry="1.7" transform="rotate(56 41.6 78.8)" fill="#bacac6" opacity="0.83"/>
<ellipse cx="67.2" cy="87.8" rx="2.1" ry="1.3" transform="rotate(25 67.2 87.8)" fill="#d7d8d9" opacity="0.83"/>
<ellipse cx="16.4" cy="24.0" rx="2.7" ry="2.6" transform="rotate(36 16.4 24.0)" fill="#d7d8d9" opacity="0.73"/>
<ellipse cx="59.0" cy="40.0" rx="3.9" ry="3.4" transform="rotate(19 59.0 40.0)" fill="#c5c9cb" opacity="0.75"/>
<ellipse cx="17.9" cy="54.6" rx="2.1" ry="1.9" transform="rotate(117 17.9 54.6)" fill="#bec4c5" opacity="0.60"/>
<ellipse cx="97.6" cy="64.3" rx="2.9" ry="2.6" transform="rotate(64 97.6 64.3)" fill="#c5c9cb" opacity="0.68"/>
<ellipse cx="57.2" cy="93.5" rx="2.5" ry="1.7" transform="rotate(114 57.2 93.5)" fill="#bacac6" opacity="0.59"/>
<ellipse cx="48.5" cy="1.4" rx="4.3" ry="3.8" transform="rotate(68 48.5 1.4)" fill="#cdc7cb" opacity="0.74"/>
<ellipse cx="51.2" cy="57.8" rx="3.2" ry="3.0" transform="rotate(82 51.2 57.8)" fill="#d7d8d9" opacity="0.64"/>
<ellipse cx="26.0" cy="71.1" rx="1.8" ry="1.3" transform="rotate(27 26.0 71.1)" fill="#bec4c5" opacity="0.85"/>
<ellipse cx="41.1" cy="12.7" rx="3.0" ry="1.5" transform="rotate(171 41.1 12.7)" fill="#d7d8d9" opacity="0.76"/>
<ellipse cx="98.0" cy="6.6" rx="3.9" ry="3.8" transform="rotate(155 98.0 6.6)" fill="#d0d1d2" opacity="0.75"/>
<ellipse cx="40.1" cy="13.0" rx="2.1" ry="1.9" transform="rotate(166 40.1 13.0)" fill="#d0d1d2" opacity="0.73"/>
<ellipse cx="42.6" cy="90.6" rx="3.7" ry="2.8" transform="rotate(150 42.6 90.6)" fill="#bec4c5" opacity="0.84"/>
<ellipse cx="10.8" cy="32.2" rx="2.0" ry="1.6" transform="rotate(52 10.8 32.2)" fill="#bec4c5" opacity="0.67"/>
<ellipse cx="29.9" cy="4.5" rx="1.6" ry="0.9" transform="rotate(92 29.9 4.5)" fill="#cdc7cb" opacity="0.80"/>
<ellipse cx="17.1" cy="81.6" rx="4.1" ry="1.8" transform="rotate(144 17.1 81.6)" fill="#c5c9cb" opacity="0.52"/>
<ellipse cx="91.0" cy="66.1" rx="3.3" ry="1.8" transform="rotate(10 91.0 66.1)" fill="#bacac6" opacity="0.82"/>
<ellipse cx="42.4" cy="74.5" rx="2.2" ry="1.8" transform="rotate(62 42.4 74.5)" fill="#d7d8d9" opacity="0.54"/>
<ellipse cx="77.2" cy="23.6" rx="3.7" ry="1.6" transform="rotate(99 77.2 23.6)" fill="#d0d1d2" opacity="0.68"/>
<ellipse cx="113.1" cy="70.1" rx="2.4" ry="1.1" transform="rotate(102 113.1 70.1)" fill="#c8cbcb" opacity="0.50"/>
<ellipse cx="120.9" cy="27.4" rx="4.1" ry="4.0" transform="rotate(120 120.9 27.4)" fill="#c8cbcb" opacity="0.51"/>
<ellipse cx="48.8" cy="11.1" rx="4.2" ry="4.1" transform="rotate(166 48.8 11.1)" fill="#cdc7cb" opacity="0.67"/>
<ellipse cx="51.7" cy="63.9" rx="1.8" ry="1.1" transform="rotate(90 51.7 63.9)" fill="#bacac6" opacity="0.53"/>
<ellipse cx="85.3" cy="38.1" rx="3.0" ry="2.4" transform="rotate(5 85.3 38.1)" fill="#c8cbcb" opacity="0.83"/>
<ellipse cx="109.6" cy="5.8" rx="4.2" ry="2.5" transform="rotate(126 109.6 5.8)" fill="#bec4c5" opacity="0.83"/>
<ellipse cx="119.3" cy="90.5" rx="4.3" ry="2.8" transform="rotate(143 119.3 90.5)" fill="#cdc7cb" opacity="0.69"/>
<ellipse cx="96.7" cy="95.1" rx="3.2" ry="1.9" transform="rotate(31 96.7 95.1)" fill="#c5c9cb" opacity="0.76"/>
<ellipse cx="16.7" cy="86.8" rx="1.8" ry="1.7" transform="rotate(172 16.7 86.8)" fill="#bec4c5" opacity="0.46"/>
<ellipse cx="1.0" cy="78.6" rx="3.6" ry="3.2" transform="rotate(138 1.0 78.6)" fill="#c5c9cb" opacity="0.72"/>
<ellipse cx="7.4" cy="33.5" rx="4.4" ry="4.3" transform="rotate(150 7.4 33.5)" fill="#d0d1d2" opacity="0.61"/>
<ellipse cx="39.0" cy="31.1" rx="1.5" ry="0.8" transform="rotate(9 39.0 31.1)" fill="#cdc7cb" opacity="0.60"/>
<ellipse cx="87.6" cy="48.3" rx="2.6" ry="1.4" transform="rotate(159 87.6 48.3)" fill="#bacac6" opacity="0.52"/>
<ellipse cx="15.8" cy="21.9" rx="2.9" ry="2.8" transform="rotate(33 15.8 21.9)" fill="#cdc7cb" opacity="0.72"/>
<ellipse cx="73.5" cy="55.6" rx="3.2" ry="3.0" transform="rotate(33 73.5 55.6)" fill="#c5c9cb" opacity="0.54"/>
<ellipse cx="34.8" cy="29.4" rx="3.7" ry="1.5" transform="rotate(45 34.8 29.4)" fill="#bacac6" opacity="0.49"/>
<ellipse cx="82.8" cy="46.6" rx="2.8" ry="1.8" transform="rotate(178 82.8 46.6)" fill="#c8cbcb" opacity="0.60"/>
<ellipse cx="41.7" cy="86.6" rx="4.5" ry="4.5" transform="rotate(75 41.7 86.6)" fill="#d7d8d9" opacity="0.72"/>
<ellipse cx="26.1" cy="94.7" rx="2.1" ry="1.6" transform="rotate(170 26.1 94.7)" fill="#bec4c5" opacity="0.48"/>
<ellipse cx="119.1" cy="86.7" rx="1.7" ry="1.0" transform="rotate(12 119.1 86.7)" fill="#c8cbcb" opacity="0.82"/>
<ellipse cx="15.0" cy="17.2" rx="4.1" ry="4.0" transform="rotate(62 15.0 17.2)" fill="#d0d1d2" opacity="0.82"/>
<ellipse cx="14.8" cy="67.3" rx="4.3" ry="2.4" transform="rotate(126 14.8 67.3)" fill="#d0d1d2" opacity="0.54"/>
<ellipse cx="103.4" cy="84.1" rx="3.5" ry="2.2" transform="rotate(22 103.4 84.1)" fill="#bec4c5" opacity="0.56"/>
<ellipse cx="114.6" cy="4.1" rx="2.1" ry="1.7" transform="rotate(22 114.6 4.1)" fill="#bec4c5" opacity="0.58"/>
<ellipse cx="70.0" cy="24.0" rx="3.1" ry="2.3" transform="rotate(137 70.0 24.0)" fill="#cdc7cb" opacity="0.66"/>
<ellipse cx="115.7" cy="5.0" rx="2.2" ry="2.1" transform="rotate(176 115.7 5.0)" fill="#c8cbcb" opacity="0.82"/>
<ellipse cx="81.8" cy="15.3" rx="4.4" ry="3.3" transform="rotate(53 81.8 15.3)" fill="#bacac6" opacity="0.77"/>
<ellipse cx="118.9" cy="42.2" rx="3.3" ry="2.3" transform="rotate(7 118.9 42.2)" fill="#cdc7cb" opacity="0.51"/>
<ellipse cx="55.8" cy="63.8" rx="2.8" ry="1.8" transform="rotate(9 55.8 63.8)" fill="#c5c9cb" opacity="0.52"/>
<ellipse cx="18.7" cy="69.5" rx="2.1" ry="0.9" transform="rotate(76 18.7 69.5)" fill="#c8cbcb" opacity="0.83"/>
<ellipse cx="73.7" cy="3.2" rx="1.6" ry="0.6" transform="rotate(55 73.7 3.2)" fill="#bec4c5" opacity="0.47"/>
<ellipse cx="29.7" cy="57.9" rx="2.6" ry="1.4" transform="rotate(134 29.7 57.9)" fill="#d7d8d9" opacity="0.52"/>
<ellipse cx="15.0" cy="54.0" rx="3.3" ry="2.4" transform="rotate(83 15.0 54.0)" fill="#d7d8d9" opacity="0.58"/>
<ellipse cx="111.5" cy="20.0" rx="4.3" ry="4.0" transform="rotate(118 111.5 20.0)" fill="#cdc7cb" opacity="0.64"/>
<ellipse cx="67.3" cy="87.5" rx="3.8" ry="2.2" transform="rotate(100 67.3 87.5)" fill="#bacac6" opacity="0.61"/>
<ellipse cx="85.0" cy="30.4" rx="3.4" ry="2.8" transform="rotate(62 85.0 30.4)" fill="#bacac6" opacity="0.67"/>
<ellipse cx="59.3" cy="87.8" rx="3.0" ry="2.5" transform="rotate(119 59.3 87.8)" fill="#d7d8d9" opacity="0.61"/>
<ellipse cx="59.4" cy="80.3" rx="3.2" ry="1.5" transform="rotate(90 59.4 80.3)" fill="#c8cbcb" opacity="0.64"/>
<ellipse cx="77.4" cy="92.5" rx="2.3" ry="1.0" transform="rotate(50 77.4 92.5)" fill="#d7d8d9" opacity="0.47"/>
<ellipse cx="70.1" cy="36.2" rx="1.6" ry="1.5" transform="rotate(91 70.1 36.2)" fill="#d0d1d2" opacity="0.62"/>
<ellipse cx="66.6" cy="90.1" rx="3.0" ry="1.5" transform="rotate(57 66.6 90.1)" fill="#d7d8d9" opacity="0.72"/>
<ellipse cx="60.0" cy="88.1" rx="3.4" ry="3.1" transform="rotate(145 60.0 88.1)" fill="#bacac6" opacity="0.84"/>
<ellipse cx="111.9" cy="64.4" rx="3.9" ry="2.2" transform="rotate(54 111.9 64.4)" fill="#bacac6" opacity="0.80"/>
<ellipse cx="11.7" cy="43.8" rx="3.6" ry="3.5" transform="rotate(4 11.7 43.8)" fill="#c8cbcb" opacity="0.65"/>
<ellipse cx="40.0" cy="74.9" rx="3.3" ry="3.2" transform="rotate(116 40.0 74.9)" fill="#d7d8d9" opacity="0.48"/>
<ellipse cx="80.6" cy="7.8" rx="4.4" ry="2.8" transform="rotate(46 80.6 7.8)" fill="#cdc7cb" opacity="0.69"/>
<ellipse cx="94.1" cy="22.7" rx="3.6" ry="1.7" transform="rotate(131 94.1 22.7)" fill="#bacac6" opacity="0.47"/>
<ellipse cx="105.7" cy="72.6" rx="3.9" ry="1.5" transform="rotate(48 105.7 72.6)" fill="#cdc7cb" opacity="0.65"/>
<ellipse cx="112.8" cy="19.1" rx="3.6" ry="1.5" transform="rotate(29 112.8 19.1)" fill="#c8cbcb" opacity="0.77"/>
<ellipse cx="25.7" cy="61.3" rx="3.8" ry="1.9" transform="rotate(78 25.7 61.3)" fill="#bacac6" opacity="0.64"/>
<ellipse cx="83.6" cy="-0.4" rx="2.3" ry="2.2" transform="rotate(60 83.6 -0.4)" fill="#cdc7cb" opacity="0.82"/>
<ellipse cx="111.2" cy="25.6" rx="4.4" ry="2.5" transform="rotate(84 111.2 25.6)" fill="#c5c9cb" opacity="0.47"/>
<ellipse cx="10.7" cy="18.4" rx="4.5" ry="1.9" transform="rotate(155 10.7 18.4)" fill="#c8cbcb" opacity="0.66"/>
<ellipse cx="56.3" cy="70.3" rx="2.2" ry="2.2" transform="rotate(66 56.3 70.3)" fill="#d0d1d2" opacity="0.62"/>
<ellipse cx="46.9" cy="30.4" rx="4.4" ry="3.1" transform="rotate(171 46.9 30.4)" fill="#bec4c5" opacity="0.71"/>
<ellipse cx="48.9" cy="37.0" rx="2.2" ry="2.1" transform="rotate(14 48.9 37.0)" fill="#d7d8d9" opacity="0.62"/>
<ellipse cx="56.6" cy="37.9" rx="3.4" ry="2.7" transform="rotate(169 56.6 37.9)" fill="#cdc7cb" opacity="0.81"/>
<ellipse cx="28.5" cy="50.3" rx="4.5" ry="2.0" transform="rotate(33 28.5 50.3)" fill="#c5c9cb" opacity="0.84"/>
<ellipse cx="74.1" cy="15.1" rx="4.4" ry="3.7" transform="rotate(131 74.1 15.1)" fill="#cdc7cb" opacity="0.58"/>
<circle cx="91.5" cy="59.8" r="1.2" fill="#7a8480" opacity="0.45"/>
<circle cx="54.5" cy="40.0" r="0.9" fill="#7a8480" opacity="0.45"/>
<circle cx="56.6" cy="88.2" r="1.3" fill="#7a8480" opacity="0.45"/>
<circle cx="6.7" cy="6.6" r="1.0" fill="#7a8480" opacity="0.45"/>
<circle cx="82.9" cy="40.4" r="0.9" fill="#7a8480" opacity="0.45"/>
<circle cx="50.8" cy="53.0" r="1.2" fill="#7a8480" opacity="0.45"/>
<circle cx="48.1" cy="60.0" r="1.2" fill="#7a8480" opacity="0.45"/>
<circle cx="73.4" cy="4.3" r="1.2" fill="#7a8480" opacity="0.45"/>
<circle cx="15.3" cy="5.1" r="1.1" fill="#7a8480" opacity="0.45"/>
<circle cx="2.0" cy="6.7" r="1.0" fill="#7a8480" opacity="0.45"/>
<circle cx="55.9" cy="9.8" r="1.4" fill="#7a8480" opacity="0.45"/>
<circle cx="101.7" cy="45.0" r="1.2" fill="#7a8480" opacity="0.45"/>
<circle cx="37.7" cy="90.9" r="0.9" fill="#7a8480" opacity="0.45"/>
<circle cx="36.3" cy="20.4" r="1.3" fill="#7a8480" opacity="0.45"/>
<circle cx="60.7" cy="37.9" r="1.0" fill="#7a8480" opacity="0.45"/>
<circle cx="105.8" cy="23.8" r="1.3" fill="#7a8480" opacity="0.45"/>
<circle cx="84.5" cy="41.4" r="1.0" fill="#7a8480" opacity="0.45"/>
<circle cx="52.1" cy="41.9" r="1.0" fill="#7a8480" opacity="0.45"/>
<circle cx="74.4" cy="38.0" r="1.0" fill="#7a8480" opacity="0.45"/>
<circle cx="92.2" cy="42.1" r="1.1" fill="#7a8480" opacity="0.45"/>
<circle cx="104.9" cy="42.0" r="1.0" fill="#7a8480" opacity="0.45"/>
<circle cx="107.1" cy="90.2" r="1.3" fill="#7a8480" opacity="0.45"/>
<circle cx="47.9" cy="62.0" r="1.2" fill="#7a8480" opacity="0.45"/>
<circle cx="35.3" cy="66.9" r="1.4" fill="#7a8480" opacity="0.45"/>
<circle cx="78.2" cy="61.8" r="1.1" fill="#7a8480" opacity="0.45"/>
<circle cx="78.0" cy="20.9" r="1.3" fill="#7a8480" opacity="0.45"/>
<circle cx="64.3" cy="90.5" r="1.0" fill="#7a8480" opacity="0.45"/>
<circle cx="84.9" cy="1.5" r="1.0" fill="#7a8480" opacity="0.45"/>
<circle cx="91.4" cy="24.0" r="1.2" fill="#7a8480" opacity="0.45"/>
<circle cx="26.4" cy="36.8" r="1.4" fill="#7a8480" opacity="0.45"/>
<circle cx="23.5" cy="84.3" r="0.8" fill="#7a8480" opacity="0.45"/>
<circle cx="69.5" cy="75.9" r="1.3" fill="#7a8480" opacity="0.45"/>
<circle cx="46.7" cy="54.5" r="1.2" fill="#7a8480" opacity="0.45"/>
<circle cx="90.9" cy="69.0" r="1.1" fill="#7a8480" opacity="0.45"/>
<circle cx="30.0" cy="65.2" r="1.1" fill="#7a8480" opacity="0.45"/>
<circle cx="64.9" cy="91.2" r="0.9" fill="#7a8480" opacity="0.45"/>
<circle cx="93.1" cy="30.0" r="1.2" fill="#7a8480" opacity="0.45"/>
<circle cx="113.4" cy="25.4" r="1.1" fill="#7a8480" opacity="0.45"/>
<circle cx="63.0" cy="45.8" r="0.9" fill="#7a8480" opacity="0.45"/>
<circle cx="74.6" cy="82.6" r="1.2" fill="#7a8480" opacity="0.45"/>
</g>
<g filter="url(#bs11)">
<path d="M34.2,73.4 Q35.0,74.3 34.8,75.6" stroke="#a87c7a" stroke-width="1.3" fill="none" stroke-linecap="round" opacity="0.55"/>
<path d="M2.5,25.9 Q0.2,27.0 2.9,27.7" stroke="#8c5050" stroke-width="1.4" fill="none" stroke-linecap="round" opacity="0.69"/>
<path d="M44.4,23.3 Q43.0,24.7 46.3,27.3" stroke="#946a68" stroke-width="1.2" fill="none" stroke-linecap="round" opacity="0.68"/>
<path d="M75.2,75.9 Q72.4,79.2 74.3,78.3" stroke="#946a68" stroke-width="1.5" fill="none" stroke-linecap="round" opacity="0.66"/>
<path d="M32.0,44.5 Q33.1,47.0 31.1,45.9" stroke="#8c5050" stroke-width="1.3" fill="none" stroke-linecap="round" opacity="0.53"/>
<path d="M41.3,74.1 Q39.4,72.6 35.4,75.9" stroke="#b87070" stroke-width="1.5" fill="none" stroke-linecap="round" opacity="0.50"/>
<path d="M60.6,30.8 Q59.4,33.9 59.9,35.6" stroke="#b06a68" stroke-width="1.5" fill="none" stroke-linecap="round" opacity="0.71"/>
<path d="M21.8,14.1 Q20.8,17.4 20.1,19.6" stroke="#b06a68" stroke-width="1.1" fill="none" stroke-linecap="round" opacity="0.71"/>
<path d="M103.5,19.7 Q105.2,18.7 104.6,22.2" stroke="#946a68" stroke-width="1.4" fill="none" stroke-linecap="round" opacity="0.67"/>
<path d="M79.5,86.8 Q81.6,88.3 82.8,87.1" stroke="#7c4446" stroke-width="1.3" fill="none" stroke-linecap="round" opacity="0.70"/>
<path d="M4.8,9.2 Q5.9,8.3 10.1,9.6" stroke="#946a68" stroke-width="1.0" fill="none" stroke-linecap="round" opacity="0.64"/>
<path d="M5.8,71.5 Q5.2,69.5 7.0,72.5" stroke="#b06a68" stroke-width="1.1" fill="none" stroke-linecap="round" opacity="0.41"/>
<path d="M42.4,37.9 Q41.8,36.5 44.5,39.1" stroke="#946a68" stroke-width="1.3" fill="none" stroke-linecap="round" opacity="0.51"/>
<path d="M106.8,67.3 Q106.8,69.7 104.9,72.0" stroke="#7c4446" stroke-width="1.5" fill="none" stroke-linecap="round" opacity="0.53"/>
<path d="M32.5,37.6 Q33.2,42.8 30.9,44.4" stroke="#b06a68" stroke-width="0.9" fill="none" stroke-linecap="round" opacity="0.51"/>
<path d="M4.4,72.2 Q2.3,75.4 3.2,75.0" stroke="#b87070" stroke-width="1.3" fill="none" stroke-linecap="round" opacity="0.56"/>
<path d="M42.3,86.6 Q42.9,87.6 46.3,87.8" stroke="#946a68" stroke-width="1.5" fill="none" stroke-linecap="round" opacity="0.69"/>
<path d="M11.1,22.6 Q8.9,21.9 6.6,23.0" stroke="#b87070" stroke-width="1.1" fill="none" stroke-linecap="round" opacity="0.52"/>
<path d="M111.0,48.1 Q115.4,50.2 116.9,50.2" stroke="#b87070" stroke-width="1.0" fill="none" stroke-linecap="round" opacity="0.60"/>
<path d="M113.8,38.6 Q112.5,38.6 110.3,41.9" stroke="#7c4446" stroke-width="1.4" fill="none" stroke-linecap="round" opacity="0.48"/>
<path d="M61.0,83.8 Q62.0,88.6 58.2,89.1" stroke="#a87c7a" stroke-width="0.9" fill="none" stroke-linecap="round" opacity="0.48"/>
<path d="M75.6,19.2 Q77.5,22.1 81.1,20.4" stroke="#a87c7a" stroke-width="1.3" fill="none" stroke-linecap="round" opacity="0.74"/>
<path d="M23.0,16.6 Q20.3,16.6 20.9,18.2" stroke="#946a68" stroke-width="1.5" fill="none" stroke-linecap="round" opacity="0.45"/>
<path d="M22.3,1.8 Q26.4,1.9 25.9,3.8" stroke="#b06a68" stroke-width="1.5" fill="none" stroke-linecap="round" opacity="0.66"/>
<path d="M35.5,10.6 Q40.0,9.7 40.8,10.7" stroke="#b87070" stroke-width="1.4" fill="none" stroke-linecap="round" opacity="0.54"/>
<path d="M77.7,37.6 Q77.7,37.2 76.9,39.1" stroke="#8c5050" stroke-width="1.4" fill="none" stroke-linecap="round" opacity="0.42"/>
<path d="M20.4,19.5 Q23.2,24.3 24.1,24.3" stroke="#946a68" stroke-width="1.4" fill="none" stroke-linecap="round" opacity="0.64"/>
<path d="M109.7,29.5 Q112.0,27.7 113.4,29.6" stroke="#b06a68" stroke-width="0.9" fill="none" stroke-linecap="round" opacity="0.41"/>
<path d="M116.7,33.3 Q117.7,36.4 117.8,35.3" stroke="#8c5050" stroke-width="1.0" fill="none" stroke-linecap="round" opacity="0.40"/>
<path d="M79.3,57.7 Q78.4,57.2 77.8,61.4" stroke="#a87c7a" stroke-width="1.5" fill="none" stroke-linecap="round" opacity="0.41"/>
<path d="M24.8,42.1 Q23.8,44.5 20.4,44.4" stroke="#946a68" stroke-width="1.5" fill="none" stroke-linecap="round" opacity="0.52"/>
<path d="M9.1,22.6 Q6.7,26.3 6.9,28.6" stroke="#8c5050" stroke-width="1.0" fill="none" stroke-linecap="round" opacity="0.42"/>
<path d="M101.8,55.4 Q99.0,54.5 100.1,55.8" stroke="#8c5050" stroke-width="1.2" fill="none" stroke-linecap="round" opacity="0.55"/>
<path d="M5.8,47.6 Q10.2,47.8 11.7,48.9" stroke="#7c4446" stroke-width="1.3" fill="none" stroke-linecap="round" opacity="0.58"/>
<path d="M43.9,43.5 Q44.8,43.0 48.7,44.1" stroke="#a05a58" stroke-width="1.2" fill="none" stroke-linecap="round" opacity="0.68"/>
<path d="M100.0,24.8 Q99.9,28.3 103.2,28.8" stroke="#b06a68" stroke-width="1.5" fill="none" stroke-linecap="round" opacity="0.44"/>
<path d="M77.1,23.2 Q80.4,22.4 78.8,25.5" stroke="#946a68" stroke-width="1.5" fill="none" stroke-linecap="round" opacity="0.46"/>
<path d="M47.7,78.1 Q49.3,80.0 46.1,79.5" stroke="#b87070" stroke-width="1.4" fill="none" stroke-linecap="round" opacity="0.61"/>
<path d="M83.7,52.1 Q79.6,52.0 77.8,54.5" stroke="#7c4446" stroke-width="1.4" fill="none" stroke-linecap="round" opacity="0.74"/>
<path d="M17.4,36.2 Q18.6,35.1 16.9,38.4" stroke="#946a68" stroke-width="1.3" fill="none" stroke-linecap="round" opacity="0.47"/>
<path d="M112.2,34.0 Q115.8,33.6 115.7,37.9" stroke="#8c5050" stroke-width="1.2" fill="none" stroke-linecap="round" opacity="0.64"/>
<path d="M20.8,77.1 Q21.8,76.0 24.5,79.8" stroke="#a05a58" stroke-width="1.4" fill="none" stroke-linecap="round" opacity="0.62"/>
<path d="M76.5,42.5 Q76.2,45.4 76.5,44.2" stroke="#b87070" stroke-width="1.2" fill="none" stroke-linecap="round" opacity="0.65"/>
<path d="M101.8,84.8 Q101.7,85.5 102.6,88.0" stroke="#946a68" stroke-width="1.4" fill="none" stroke-linecap="round" opacity="0.59"/>
<path d="M75.4,81.5 Q71.9,85.0 72.2,87.5" stroke="#946a68" stroke-width="0.9" fill="none" stroke-linecap="round" opacity="0.54"/>
<path d="M22.4,65.0 Q24.2,65.3 21.3,70.1" stroke="#a05a58" stroke-width="1.6" fill="none" stroke-linecap="round" opacity="0.45"/>
<path d="M79.3,22.2 Q82.4,25.9 82.1,25.1" stroke="#a05a58" stroke-width="1.3" fill="none" stroke-linecap="round" opacity="0.41"/>
<path d="M26.6,2.3 Q27.5,0.9 28.2,3.2" stroke="#a87c7a" stroke-width="1.4" fill="none" stroke-linecap="round" opacity="0.70"/>
<path d="M110.4,32.9 Q109.2,35.1 108.8,36.0" stroke="#8c5050" stroke-width="1.5" fill="none" stroke-linecap="round" opacity="0.64"/>
<path d="M118.2,24.9 Q116.1,24.1 114.4,28.1" stroke="#7c4446" stroke-width="1.5" fill="none" stroke-linecap="round" opacity="0.57"/>
<path d="M107.1,12.8 Q107.8,13.8 110.0,16.1" stroke="#a05a58" stroke-width="1.6" fill="none" stroke-linecap="round" opacity="0.68"/>
<path d="M34.7,39.1 Q34.1,44.2 34.6,45.1" stroke="#7c4446" stroke-width="1.6" fill="none" stroke-linecap="round" opacity="0.64"/>
<path d="M99.5,6.5 Q102.1,9.8 104.5,8.4" stroke="#8c5050" stroke-width="1.2" fill="none" stroke-linecap="round" opacity="0.60"/>
<path d="M9.4,20.1 Q10.8,20.7 14.0,22.4" stroke="#8c5050" stroke-width="1.4" fill="none" stroke-linecap="round" opacity="0.40"/>
<path d="M19.2,12.6 Q22.0,14.3 21.1,13.7" stroke="#a87c7a" stroke-width="1.4" fill="none" stroke-linecap="round" opacity="0.47"/>
<path d="M49.9,55.4 Q52.4,54.1 56.5,56.4" stroke="#b87070" stroke-width="1.0" fill="none" stroke-linecap="round" opacity="0.59"/>
<path d="M115.4,27.6 Q117.7,32.3 117.4,33.8" stroke="#a87c7a" stroke-width="1.0" fill="none" stroke-linecap="round" opacity="0.57"/>
<path d="M39.2,36.4 Q36.2,36.9 34.0,40.8" stroke="#7c4446" stroke-width="1.3" fill="none" stroke-linecap="round" opacity="0.51"/>
<path d="M87.1,83.0 Q86.4,81.7 85.7,84.0" stroke="#a87c7a" stroke-width="1.3" fill="none" stroke-linecap="round" opacity="0.59"/>
<path d="M34.0,12.7 Q34.3,14.6 33.7,19.0" stroke="#8c5050" stroke-width="1.1" fill="none" stroke-linecap="round" opacity="0.55"/>
<path d="M83.0,66.2 Q81.1,65.6 83.2,68.3" stroke="#b87070" stroke-width="1.2" fill="none" stroke-linecap="round" opacity="0.70"/>
<path d="M56.6,18.0 Q58.5,17.1 59.3,18.7" stroke="#a05a58" stroke-width="1.4" fill="none" stroke-linecap="round" opacity="0.61"/>
<path d="M74.2,68.2 Q75.5,70.7 72.1,74.1" stroke="#946a68" stroke-width="1.6" fill="none" stroke-linecap="round" opacity="0.72"/>
<path d="M91.8,10.0 Q93.6,10.2 94.7,12.8" stroke="#946a68" stroke-width="1.4" fill="none" stroke-linecap="round" opacity="0.70"/>
<path d="M44.9,58.2 Q44.1,60.9 47.2,60.5" stroke="#b06a68" stroke-width="1.3" fill="none" stroke-linecap="round" opacity="0.62"/>
<path d="M83.7,88.1 Q83.7,92.0 83.2,93.1" stroke="#7c4446" stroke-width="1.1" fill="none" stroke-linecap="round" opacity="0.71"/>
<path d="M40.8,42.8 Q41.7,42.6 43.3,44.7" stroke="#946a68" stroke-width="1.2" fill="none" stroke-linecap="round" opacity="0.47"/>
<path d="M68.0,71.2 Q67.6,69.9 68.0,72.7" stroke="#946a68" stroke-width="1.3" fill="none" stroke-linecap="round" opacity="0.41"/>
<path d="M53.6,54.6 Q53.7,54.6 54.5,56.0" stroke="#8c5050" stroke-width="1.2" fill="none" stroke-linecap="round" opacity="0.72"/>
<path d="M100.8,51.9 Q101.5,53.4 106.3,54.2" stroke="#a05a58" stroke-width="1.3" fill="none" stroke-linecap="round" opacity="0.46"/>
<path d="M72.7,26.3 Q72.6,25.5 74.4,29.0" stroke="#7c4446" stroke-width="1.4" fill="none" stroke-linecap="round" opacity="0.57"/>
<path d="M90.8,60.8 Q92.4,61.9 94.7,62.9" stroke="#946a68" stroke-width="1.5" fill="none" stroke-linecap="round" opacity="0.61"/>
<path d="M97.5,67.7 Q99.2,72.5 98.5,73.6" stroke="#b87070" stroke-width="1.1" fill="none" stroke-linecap="round" opacity="0.55"/>
<path d="M53.7,49.9 Q54.7,53.9 57.4,54.4" stroke="#b87070" stroke-width="1.2" fill="none" stroke-linecap="round" opacity="0.57"/>
<path d="M43.8,82.6 Q45.9,84.4 46.5,84.7" stroke="#b87070" stroke-width="1.4" fill="none" stroke-linecap="round" opacity="0.54"/>
<path d="M61.9,17.3 Q63.0,16.8 62.3,20.2" stroke="#8c5050" stroke-width="1.3" fill="none" stroke-linecap="round" opacity="0.60"/>
<path d="M65.7,45.1 Q65.1,45.9 63.0,45.4" stroke="#7c4446" stroke-width="1.5" fill="none" stroke-linecap="round" opacity="0.74"/>
<path d="M24.0,68.1 Q19.8,68.0 18.5,71.7" stroke="#8c5050" stroke-width="1.2" fill="none" stroke-linecap="round" opacity="0.72"/>
<path d="M13.7,-1.1 Q8.8,-0.6 8.0,2.0" stroke="#b87070" stroke-width="1.4" fill="none" stroke-linecap="round" opacity="0.67"/>
<path d="M52.0,40.5 Q51.9,43.1 52.3,44.0" stroke="#946a68" stroke-width="1.5" fill="none" stroke-linecap="round" opacity="0.74"/>
<path d="M83.4,11.9 Q85.4,14.5 83.1,16.5" stroke="#7c4446" stroke-width="1.4" fill="none" stroke-linecap="round" opacity="0.48"/>
<path d="M41.0,6.9 Q43.3,5.4 42.7,8.2" stroke="#946a68" stroke-width="1.5" fill="none" stroke-linecap="round" opacity="0.53"/>
<path d="M18.2,9.6 Q19.7,10.8 23.9,9.9" stroke="#b87070" stroke-width="1.6" fill="none" stroke-linecap="round" opacity="0.47"/>
<path d="M42.2,42.6 Q42.9,43.4 48.1,44.3" stroke="#a05a58" stroke-width="1.2" fill="none" stroke-linecap="round" opacity="0.68"/>
<path d="M33.6,74.3 Q33.5,77.1 28.9,75.5" stroke="#8c5050" stroke-width="1.5" fill="none" stroke-linecap="round" opacity="0.52"/>
<path d="M110.5,17.4 Q108.8,21.1 111.3,23.9" stroke="#b06a68" stroke-width="1.0" fill="none" stroke-linecap="round" opacity="0.71"/>
<path d="M101.7,46.9 Q102.2,46.7 104.8,47.4" stroke="#a05a58" stroke-width="1.3" fill="none" stroke-linecap="round" opacity="0.69"/>
<path d="M9.6,21.4 Q7.1,20.5 7.4,23.9" stroke="#a05a58" stroke-width="1.1" fill="none" stroke-linecap="round" opacity="0.49"/>
<path d="M35.0,83.7 Q34.6,83.2 34.6,87.2" stroke="#a87c7a" stroke-width="1.2" fill="none" stroke-linecap="round" opacity="0.53"/>
<path d="M31.3,3.5 Q30.3,2.4 33.1,6.0" stroke="#7c4446" stroke-width="1.3" fill="none" stroke-linecap="round" opacity="0.66"/>
<path d="M3.5,-0.5 Q3.0,0.2 3.3,1.9" stroke="#b87070" stroke-width="1.3" fill="none" stroke-linecap="round" opacity="0.57"/>
<path d="M41.0,66.5 Q42.7,71.4 41.0,72.3" stroke="#946a68" stroke-width="1.0" fill="none" stroke-linecap="round" opacity="0.51"/>
<path d="M116.2,81.8 Q116.8,85.0 112.4,84.0" stroke="#b87070" stroke-width="1.4" fill="none" stroke-linecap="round" opacity="0.62"/>
<path d="M69.4,83.6 Q70.8,86.2 73.4,84.2" stroke="#8c5050" stroke-width="1.5" fill="none" stroke-linecap="round" opacity="0.49"/>
<path d="M104.6,69.4 Q108.6,69.9 109.3,71.1" stroke="#b06a68" stroke-width="1.1" fill="none" stroke-linecap="round" opacity="0.66"/>
<path d="M104.2,71.1 Q105.9,73.0 105.5,72.6" stroke="#a05a58" stroke-width="1.3" fill="none" stroke-linecap="round" opacity="0.65"/>
<path d="M8.3,40.0 Q9.6,40.3 10.1,41.7" stroke="#7c4446" stroke-width="1.0" fill="none" stroke-linecap="round" opacity="0.56"/>
<path d="M31.0,61.6 Q32.2,62.0 34.2,62.7" stroke="#7c4446" stroke-width="1.0" fill="none" stroke-linecap="round" opacity="0.51"/>
<path d="M4.3,67.0 Q3.3,66.5 0.3,68.9" stroke="#946a68" stroke-width="1.2" fill="none" stroke-linecap="round" opacity="0.65"/>
<path d="M78.8,26.2 Q80.5,29.7 77.8,28.2" stroke="#b87070" stroke-width="1.6" fill="none" stroke-linecap="round" opacity="0.63"/>
<path d="M8.8,10.1 Q12.1,10.7 14.9,11.7" stroke="#b06a68" stroke-width="1.6" fill="none" stroke-linecap="round" opacity="0.65"/>
<path d="M58.0,67.6 Q55.2,69.1 54.8,70.4" stroke="#946a68" stroke-width="1.4" fill="none" stroke-linecap="round" opacity="0.66"/>
<path d="M17.5,23.6 Q17.5,21.9 15.0,24.0" stroke="#a05a58" stroke-width="1.5" fill="none" stroke-linecap="round" opacity="0.69"/>
<path d="M101.4,74.9 Q102.4,77.6 101.0,76.8" stroke="#b87070" stroke-width="0.9" fill="none" stroke-linecap="round" opacity="0.54"/>
<path d="M58.7,69.1 Q62.0,71.2 63.4,69.8" stroke="#8c5050" stroke-width="1.4" fill="none" stroke-linecap="round" opacity="0.64"/>
<path d="M40.7,58.4 Q45.0,60.6 47.0,59.8" stroke="#7c4446" stroke-width="1.6" fill="none" stroke-linecap="round" opacity="0.45"/>
<path d="M53.5,75.0 Q55.2,78.1 52.0,76.9" stroke="#b87070" stroke-width="1.1" fill="none" stroke-linecap="round" opacity="0.48"/>
<path d="M52.1,63.5 Q47.2,66.1 47.1,64.9" stroke="#a87c7a" stroke-width="1.0" fill="none" stroke-linecap="round" opacity="0.51"/>
<path d="M21.6,6.1 Q23.3,9.4 20.2,9.2" stroke="#a87c7a" stroke-width="1.5" fill="none" stroke-linecap="round" opacity="0.63"/>
<path d="M75.3,74.3 Q74.8,74.5 69.4,75.0" stroke="#a05a58" stroke-width="1.3" fill="none" stroke-linecap="round" opacity="0.61"/>
<path d="M19.9,76.5 Q21.0,76.5 20.7,78.2" stroke="#7c4446" stroke-width="1.6" fill="none" stroke-linecap="round" opacity="0.61"/>
<path d="M103.8,71.3 Q103.7,70.8 99.7,71.4" stroke="#a05a58" stroke-width="1.3" fill="none" stroke-linecap="round" opacity="0.72"/>
<path d="M6.7,51.9 Q9.1,53.0 7.7,53.4" stroke="#946a68" stroke-width="1.2" fill="none" stroke-linecap="round" opacity="0.44"/>
<path d="M72.7,38.1 Q73.7,37.6 70.0,40.1" stroke="#a87c7a" stroke-width="1.1" fill="none" stroke-linecap="round" opacity="0.51"/>
<path d="M63.4,37.1 Q64.2,39.0 61.5,39.9" stroke="#946a68" stroke-width="1.3" fill="none" stroke-linecap="round" opacity="0.42"/>
<path d="M44.1,24.7 Q42.7,26.8 39.3,27.9" stroke="#b87070" stroke-width="1.1" fill="none" stroke-linecap="round" opacity="0.53"/>
<path d="M38.5,22.0 Q41.5,23.5 44.3,23.8" stroke="#b87070" stroke-width="1.3" fill="none" stroke-linecap="round" opacity="0.62"/>
<path d="M74.3,12.2 Q71.0,14.8 70.0,12.6" stroke="#7c4446" stroke-width="1.5" fill="none" stroke-linecap="round" opacity="0.66"/>
<path d="M1.0,7.8 Q2.4,10.5 4.4,9.8" stroke="#a87c7a" stroke-width="1.6" fill="none" stroke-linecap="round" opacity="0.71"/>
<path d="M110.8,22.9 Q110.3,21.3 109.1,23.9" stroke="#a05a58" stroke-width="1.3" fill="none" stroke-linecap="round" opacity="0.64"/>
<path d="M27.5,63.8 Q24.8,68.4 25.9,69.6" stroke="#b87070" stroke-width="1.5" fill="none" stroke-linecap="round" opacity="0.57"/>
<path d="M53.7,1.9 Q53.4,4.7 52.7,3.3" stroke="#946a68" stroke-width="1.6" fill="none" stroke-linecap="round" opacity="0.51"/>
<path d="M23.0,35.9 Q19.2,38.4 19.1,40.7" stroke="#b87070" stroke-width="1.1" fill="none" stroke-linecap="round" opacity="0.50"/>
<path d="M107.4,31.1 Q104.5,29.8 104.7,33.5" stroke="#a05a58" stroke-width="1.4" fill="none" stroke-linecap="round" opacity="0.74"/>
<path d="M69.5,5.3 Q70.8,6.4 71.0,6.2" stroke="#b06a68" stroke-width="1.1" fill="none" stroke-linecap="round" opacity="0.43"/>
<path d="M0.1,77.2 Q1.7,78.6 4.2,79.5" stroke="#b06a68" stroke-width="1.1" fill="none" stroke-linecap="round" opacity="0.47"/>
<path d="M50.3,40.6 Q51.4,41.5 52.4,45.0" stroke="#8c5050" stroke-width="1.1" fill="none" stroke-linecap="round" opacity="0.64"/>
<path d="M98.5,66.4 Q101.7,69.3 100.2,68.0" stroke="#8c5050" stroke-width="1.3" fill="none" stroke-linecap="round" opacity="0.42"/>
<path d="M42.5,83.8 Q41.7,86.0 45.5,84.4" stroke="#b06a68" stroke-width="1.5" fill="none" stroke-linecap="round" opacity="0.70"/>
<path d="M3.3,85.5 Q4.2,86.9 7.8,89.7" stroke="#b06a68" stroke-width="0.9" fill="none" stroke-linecap="round" opacity="0.55"/>
<path d="M97.6,23.5 Q95.9,25.7 95.2,25.0" stroke="#a05a58" stroke-width="1.3" fill="none" stroke-linecap="round" opacity="0.53"/>
<path d="M26.9,40.6 Q31.2,39.6 30.6,42.4" stroke="#b87070" stroke-width="1.1" fill="none" stroke-linecap="round" opacity="0.59"/>
<path d="M10.5,63.3 Q8.8,66.3 10.9,65.0" stroke="#b87070" stroke-width="1.2" fill="none" stroke-linecap="round" opacity="0.65"/>
<path d="M115.2,21.4 Q117.4,24.3 119.1,22.2" stroke="#8c5050" stroke-width="1.0" fill="none" stroke-linecap="round" opacity="0.43"/>
<path d="M95.8,54.9 Q96.6,54.2 95.9,57.1" stroke="#8c5050" stroke-width="0.9" fill="none" stroke-linecap="round" opacity="0.49"/>
<path d="M108.8,90.1 Q107.8,91.9 107.4,94.6" stroke="#a87c7a" stroke-width="0.9" fill="none" stroke-linecap="round" opacity="0.70"/>
<path d="M81.2,71.4 Q83.0,76.3 81.4,78.0" stroke="#b87070" stroke-width="1.5" fill="none" stroke-linecap="round" opacity="0.51"/>
<path d="M23.8,39.2 Q22.2,40.0 24.3,43.1" stroke="#b87070" stroke-width="1.5" fill="none" stroke-linecap="round" opacity="0.74"/>
<path d="M91.8,81.2 Q90.9,79.4 88.8,81.9" stroke="#946a68" stroke-width="1.5" fill="none" stroke-linecap="round" opacity="0.60"/>
<path d="M74.1,49.5 Q76.4,52.6 73.7,53.0" stroke="#7c4446" stroke-width="1.5" fill="none" stroke-linecap="round" opacity="0.66"/>
<path d="M101.7,41.4 Q103.3,42.6 102.0,43.1" stroke="#7c4446" stroke-width="1.5" fill="none" stroke-linecap="round" opacity="0.64"/>
<path d="M86.0,10.1 Q84.0,10.7 85.9,15.2" stroke="#a05a58" stroke-width="1.3" fill="none" stroke-linecap="round" opacity="0.70"/>
<path d="M64.1,12.4 Q66.5,15.5 68.0,17.1" stroke="#946a68" stroke-width="1.3" fill="none" stroke-linecap="round" opacity="0.41"/>
<path d="M42.2,8.1 Q39.3,7.2 40.6,9.7" stroke="#8c5050" stroke-width="1.3" fill="none" stroke-linecap="round" opacity="0.54"/>
<path d="M110.4,18.6 Q108.7,20.6 111.7,19.6" stroke="#b87070" stroke-width="1.2" fill="none" stroke-linecap="round" opacity="0.63"/>
<path d="M40.8,31.0 Q44.3,31.9 43.0,32.5" stroke="#946a68" stroke-width="1.3" fill="none" stroke-linecap="round" opacity="0.50"/>
<path d="M93.0,22.8 Q92.6,23.1 88.2,24.9" stroke="#a87c7a" stroke-width="1.3" fill="none" stroke-linecap="round" opacity="0.49"/>
<path d="M76.4,28.4 Q77.7,27.4 78.0,29.0" stroke="#a05a58" stroke-width="1.0" fill="none" stroke-linecap="round" opacity="0.64"/>
<path d="M104.2,41.4 Q104.4,43.8 109.5,45.0" stroke="#946a68" stroke-width="1.6" fill="none" stroke-linecap="round" opacity="0.61"/>
<path d="M112.0,55.9 Q111.0,57.9 111.2,59.1" stroke="#8c5050" stroke-width="1.6" fill="none" stroke-linecap="round" opacity="0.54"/>
<path d="M20.5,79.4 Q17.9,78.8 19.1,81.8" stroke="#b87070" stroke-width="1.3" fill="none" stroke-linecap="round" opacity="0.58"/>
<path d="M73.5,49.2 Q72.5,49.8 71.1,53.0" stroke="#a05a58" stroke-width="1.3" fill="none" stroke-linecap="round" opacity="0.51"/>
<path d="M10.9,86.4 Q14.8,86.4 14.5,86.7" stroke="#b87070" stroke-width="1.3" fill="none" stroke-linecap="round" opacity="0.64"/>
<path d="M78.8,76.3 Q79.8,77.4 84.0,76.4" stroke="#a87c7a" stroke-width="1.3" fill="none" stroke-linecap="round" opacity="0.61"/>
<path d="M75.1,42.9 Q74.3,45.3 74.0,45.9" stroke="#8c5050" stroke-width="1.1" fill="none" stroke-linecap="round" opacity="0.44"/>
<path d="M109.3,25.6 Q109.7,26.7 113.1,29.8" stroke="#b87070" stroke-width="1.2" fill="none" stroke-linecap="round" opacity="0.66"/>
<path d="M89.2,16.6 Q85.8,19.6 82.4,17.6" stroke="#a87c7a" stroke-width="1.0" fill="none" stroke-linecap="round" opacity="0.55"/>
<path d="M16.5,27.1 Q12.9,30.6 12.0,31.5" stroke="#946a68" stroke-width="1.2" fill="none" stroke-linecap="round" opacity="0.69"/>
<path d="M81.5,32.7 Q82.0,33.7 78.8,34.1" stroke="#a05a58" stroke-width="1.2" fill="none" stroke-linecap="round" opacity="0.74"/>
<path d="M57.4,13.6 Q55.7,17.3 57.3,17.1" stroke="#8c5050" stroke-width="1.5" fill="none" stroke-linecap="round" opacity="0.46"/>
<path d="M66.0,18.5 Q67.3,20.8 69.1,22.5" stroke="#8c5050" stroke-width="1.5" fill="none" stroke-linecap="round" opacity="0.56"/>
<path d="M74.6,41.6 Q75.8,44.3 77.6,43.3" stroke="#a05a58" stroke-width="1.3" fill="none" stroke-linecap="round" opacity="0.74"/>
<path d="M97.9,-1.6 Q96.0,2.8 97.2,2.2" stroke="#946a68" stroke-width="1.1" fill="none" stroke-linecap="round" opacity="0.59"/>
<path d="M104.4,2.4 Q102.4,2.6 102.5,6.2" stroke="#8c5050" stroke-width="1.0" fill="none" stroke-linecap="round" opacity="0.48"/>
<path d="M41.5,79.6 Q42.4,84.2 42.0,84.6" stroke="#8c5050" stroke-width="1.1" fill="none" stroke-linecap="round" opacity="0.74"/>
<path d="M63.3,29.0 Q64.9,31.9 67.1,32.9" stroke="#b06a68" stroke-width="1.3" fill="none" stroke-linecap="round" opacity="0.62"/>
<path d="M45.0,90.5 Q43.9,94.3 46.3,94.1" stroke="#7c4446" stroke-width="1.3" fill="none" stroke-linecap="round" opacity="0.73"/>
<path d="M89.4,8.5 Q86.4,10.1 87.8,8.6" stroke="#b06a68" stroke-width="1.6" fill="none" stroke-linecap="round" opacity="0.68"/>
<path d="M110.1,6.4 Q109.7,10.7 111.0,13.1" stroke="#7c4446" stroke-width="1.1" fill="none" stroke-linecap="round" opacity="0.57"/>
<path d="M117.7,58.8 Q117.6,60.8 113.4,60.9" stroke="#8c5050" stroke-width="1.2" fill="none" stroke-linecap="round" opacity="0.53"/>
<path d="M85.7,37.0 Q84.3,39.6 86.3,39.6" stroke="#7c4446" stroke-width="1.1" fill="none" stroke-linecap="round" opacity="0.61"/>
<path d="M9.1,21.1 Q11.9,20.9 12.7,23.5" stroke="#946a68" stroke-width="1.6" fill="none" stroke-linecap="round" opacity="0.49"/>
<path d="M103.6,1.5 Q103.6,3.6 106.6,4.4" stroke="#b06a68" stroke-width="1.0" fill="none" stroke-linecap="round" opacity="0.63"/>
<path d="M10.1,2.6 Q10.8,2.0 14.5,3.8" stroke="#b87070" stroke-width="1.3" fill="none" stroke-linecap="round" opacity="0.51"/>
<path d="M55.4,78.4 Q56.2,78.2 54.9,81.1" stroke="#b87070" stroke-width="1.5" fill="none" stroke-linecap="round" opacity="0.67"/>
<path d="M28.6,71.7 Q29.7,70.5 30.7,72.4" stroke="#a87c7a" stroke-width="1.1" fill="none" stroke-linecap="round" opacity="0.40"/>
<path d="M46.0,83.1 Q43.0,82.6 42.5,87.0" stroke="#7c4446" stroke-width="1.1" fill="none" stroke-linecap="round" opacity="0.54"/>
<path d="M91.9,29.2 Q93.8,31.9 92.4,31.0" stroke="#8c5050" stroke-width="1.4" fill="none" stroke-linecap="round" opacity="0.40"/>
<path d="M55.0,46.1 Q56.2,46.8 59.9,48.5" stroke="#8c5050" stroke-width="1.1" fill="none" stroke-linecap="round" opacity="0.58"/>
<path d="M85.4,48.3 Q86.3,50.0 85.1,51.8" stroke="#a87c7a" stroke-width="1.1" fill="none" stroke-linecap="round" opacity="0.50"/>
<path d="M113.9,43.5 Q113.8,42.4 112.3,45.2" stroke="#8c5050" stroke-width="1.5" fill="none" stroke-linecap="round" opacity="0.66"/>
<path d="M14.7,49.3 Q17.6,51.5 17.9,53.7" stroke="#8c5050" stroke-width="0.9" fill="none" stroke-linecap="round" opacity="0.67"/>
<path d="M10.2,19.7 Q6.7,21.6 5.9,23.4" stroke="#b87070" stroke-width="1.3" fill="none" stroke-linecap="round" opacity="0.46"/>
<path d="M63.4,19.6 Q63.7,20.6 61.1,21.7" stroke="#7c4446" stroke-width="1.3" fill="none" stroke-linecap="round" opacity="0.60"/>
<path d="M79.0,36.9 Q78.9,40.4 75.1,39.0" stroke="#b87070" stroke-width="1.5" fill="none" stroke-linecap="round" opacity="0.71"/>
<path d="M108.3,47.9 Q106.9,49.5 107.8,49.7" stroke="#8c5050" stroke-width="1.3" fill="none" stroke-linecap="round" opacity="0.61"/>
<path d="M49.7,19.9 Q53.1,21.2 52.8,24.3" stroke="#b06a68" stroke-width="1.3" fill="none" stroke-linecap="round" opacity="0.42"/>
<path d="M66.3,82.9 Q70.5,83.5 70.8,83.3" stroke="#7c4446" stroke-width="1.2" fill="none" stroke-linecap="round" opacity="0.56"/>
<path d="M79.3,28.0 Q78.0,29.1 76.1,30.0" stroke="#b06a68" stroke-width="1.1" fill="none" stroke-linecap="round" opacity="0.68"/>
<path d="M78.6,49.2 Q80.3,47.7 77.1,50.4" stroke="#946a68" stroke-width="1.1" fill="none" stroke-linecap="round" opacity="0.41"/>
<path d="M103.1,3.6 Q105.9,7.9 107.0,9.0" stroke="#b87070" stroke-width="1.6" fill="none" stroke-linecap="round" opacity="0.72"/>
<path d="M106.5,68.7 Q109.0,70.6 109.1,70.9" stroke="#8c5050" stroke-width="1.2" fill="none" stroke-linecap="round" opacity="0.67"/>
<path d="M118.5,53.5 Q117.3,55.0 116.3,57.7" stroke="#a05a58" stroke-width="1.3" fill="none" stroke-linecap="round" opacity="0.71"/>
<path d="M21.8,24.6 Q23.7,27.9 21.1,29.4" stroke="#a05a58" stroke-width="1.6" fill="none" stroke-linecap="round" opacity="0.52"/>
<path d="M27.4,79.2 Q27.9,79.1 27.3,81.4" stroke="#a87c7a" stroke-width="1.2" fill="none" stroke-linecap="round" opacity="0.56"/>
<path d="M40.7,53.0 Q40.1,51.3 43.3,54.3" stroke="#a87c7a" stroke-width="1.2" fill="none" stroke-linecap="round" opacity="0.65"/>
<path d="M97.3,11.4 Q98.8,15.4 98.6,14.5" stroke="#946a68" stroke-width="1.5" fill="none" stroke-linecap="round" opacity="0.49"/>
<path d="M111.2,61.6 Q111.8,62.5 115.9,64.6" stroke="#7c4446" stroke-width="1.1" fill="none" stroke-linecap="round" opacity="0.51"/>
<path d="M29.7,13.2 Q30.4,13.4 28.2,15.9" stroke="#8c5050" stroke-width="1.2" fill="none" stroke-linecap="round" opacity="0.74"/>
<path d="M107.8,63.6 Q107.1,64.8 102.1,66.8" stroke="#a87c7a" stroke-width="1.2" fill="none" stroke-linecap="round" opacity="0.41"/>
<path d="M66.1,33.9 Q67.5,38.4 69.1,40.0" stroke="#a05a58" stroke-width="1.2" fill="none" stroke-linecap="round" opacity="0.69"/>
<path d="M76.1,12.4 Q76.0,13.2 74.7,14.9" stroke="#946a68" stroke-width="1.2" fill="none" stroke-linecap="round" opacity="0.50"/>
<path d="M36.3,87.2 Q37.2,89.3 37.6,89.7" stroke="#a05a58" stroke-width="1.5" fill="none" stroke-linecap="round" opacity="0.62"/>
<path d="M95.0,73.6 Q93.7,76.6 91.2,78.4" stroke="#7c4446" stroke-width="1.1" fill="none" stroke-linecap="round" opacity="0.46"/>
<path d="M32.0,10.4 Q35.5,8.9 36.4,10.7" stroke="#a05a58" stroke-width="1.5" fill="none" stroke-linecap="round" opacity="0.57"/>
<path d="M61.9,61.5 Q63.7,63.4 65.3,63.4" stroke="#b06a68" stroke-width="1.2" fill="none" stroke-linecap="round" opacity="0.41"/>
<path d="M98.8,35.5 Q97.6,36.2 97.0,36.5" stroke="#8c5050" stroke-width="1.4" fill="none" stroke-linecap="round" opacity="0.56"/>
<path d="M100.8,23.2 Q99.9,22.5 101.2,25.4" stroke="#a05a58" stroke-width="1.0" fill="none" stroke-linecap="round" opacity="0.62"/>
<path d="M51.3,62.5 Q50.9,64.0 54.4,62.9" stroke="#7c4446" stroke-width="1.1" fill="none" stroke-linecap="round" opacity="0.48"/>
<path d="M36.6,67.7 Q37.0,70.5 38.6,71.2" stroke="#7c4446" stroke-width="1.6" fill="none" stroke-linecap="round" opacity="0.71"/>
<path d="M65.3,84.3 Q63.0,86.6 64.6,89.6" stroke="#a87c7a" stroke-width="1.3" fill="none" stroke-linecap="round" opacity="0.43"/>
<path d="M109.3,39.0 Q107.7,40.2 106.1,44.1" stroke="#b87070" stroke-width="0.9" fill="none" stroke-linecap="round" opacity="0.48"/>
<path d="M85.1,11.9 Q85.9,16.5 85.6,18.8" stroke="#b87070" stroke-width="1.3" fill="none" stroke-linecap="round" opacity="0.66"/>
<path d="M45.0,67.1 Q43.8,71.8 45.8,72.4" stroke="#946a68" stroke-width="1.4" fill="none" stroke-linecap="round" opacity="0.70"/>
<path d="M58.0,63.3 Q62.6,64.5 63.0,64.5" stroke="#7c4446" stroke-width="1.1" fill="none" stroke-linecap="round" opacity="0.42"/>
<path d="M108.9,28.6 Q109.2,30.9 104.9,29.8" stroke="#946a68" stroke-width="1.5" fill="none" stroke-linecap="round" opacity="0.63"/>
<path d="M19.7,86.8 Q21.3,86.3 23.3,89.1" stroke="#b06a68" stroke-width="1.2" fill="none" stroke-linecap="round" opacity="0.70"/>
<path d="M36.5,83.3 Q39.0,84.3 39.1,83.8" stroke="#7c4446" stroke-width="1.0" fill="none" stroke-linecap="round" opacity="0.44"/>
<path d="M66.5,86.6 Q67.0,88.0 63.0,91.5" stroke="#a05a58" stroke-width="1.4" fill="none" stroke-linecap="round" opacity="0.61"/>
<path d="M11.5,67.2 Q14.6,69.5 16.5,70.3" stroke="#a05a58" stroke-width="1.6" fill="none" stroke-linecap="round" opacity="0.66"/>
<path d="M67.0,57.1 Q68.3,59.2 67.8,59.2" stroke="#b06a68" stroke-width="1.0" fill="none" stroke-linecap="round" opacity="0.69"/>
<path d="M98.3,63.1 Q98.1,63.2 102.8,66.5" stroke="#b06a68" stroke-width="1.6" fill="none" stroke-linecap="round" opacity="0.69"/>
<path d="M86.7,33.4 Q86.5,34.5 89.7,35.9" stroke="#a05a58" stroke-width="1.6" fill="none" stroke-linecap="round" opacity="0.72"/>
<path d="M69.3,6.0 Q69.2,9.2 65.8,9.7" stroke="#a87c7a" stroke-width="1.2" fill="none" stroke-linecap="round" opacity="0.40"/>
<path d="M50.8,16.4 Q48.8,14.8 47.5,16.7" stroke="#7c4446" stroke-width="1.5" fill="none" stroke-linecap="round" opacity="0.71"/>
<path d="M42.1,0.3 Q43.6,2.9 40.5,5.0" stroke="#946a68" stroke-width="1.3" fill="none" stroke-linecap="round" opacity="0.48"/>
<path d="M121.3,65.2 Q120.6,67.7 115.1,66.0" stroke="#b06a68" stroke-width="1.3" fill="none" stroke-linecap="round" opacity="0.51"/>
<path d="M8.8,70.6 Q8.0,70.6 4.4,74.9" stroke="#b06a68" stroke-width="1.6" fill="none" stroke-linecap="round" opacity="0.41"/>
<path d="M57.6,77.9 Q56.6,78.1 56.3,81.1" stroke="#946a68" stroke-width="1.3" fill="none" stroke-linecap="round" opacity="0.61"/>
<path d="M65.1,4.4 Q63.7,5.1 64.3,8.6" stroke="#8c5050" stroke-width="1.3" fill="none" stroke-linecap="round" opacity="0.49"/>
<path d="M58.5,91.5 Q56.9,90.9 55.9,91.6" stroke="#8c5050" stroke-width="1.6" fill="none" stroke-linecap="round" opacity="0.58"/>
<path d="M45.9,55.5 Q43.9,57.3 43.9,60.9" stroke="#a05a58" stroke-width="1.1" fill="none" stroke-linecap="round" opacity="0.62"/>
<path d="M12.9,15.6 Q14.8,18.5 17.7,17.1" stroke="#b87070" stroke-width="1.5" fill="none" stroke-linecap="round" opacity="0.57"/>
<path d="M43.4,90.3 Q43.8,91.9 46.0,92.8" stroke="#7c4446" stroke-width="1.6" fill="none" stroke-linecap="round" opacity="0.53"/>
<path d="M93.4,41.8 Q92.3,42.6 91.5,42.0" stroke="#a05a58" stroke-width="1.6" fill="none" stroke-linecap="round" opacity="0.75"/>
<path d="M12.5,54.5 Q11.2,55.4 10.3,59.6" stroke="#946a68" stroke-width="1.5" fill="none" stroke-linecap="round" opacity="0.59"/>
<path d="M11.0,68.9 Q11.6,72.1 10.8,74.7" stroke="#8c5050" stroke-width="1.3" fill="none" stroke-linecap="round" opacity="0.61"/>
<path d="M48.4,35.0 Q46.3,35.0 45.3,38.8" stroke="#a05a58" stroke-width="1.0" fill="none" stroke-linecap="round" opacity="0.72"/>
<path d="M26.7,53.2 Q25.5,53.2 25.7,56.8" stroke="#946a68" stroke-width="1.6" fill="none" stroke-linecap="round" opacity="0.40"/>
<path d="M54.8,68.1 Q55.0,69.2 59.6,69.4" stroke="#7c4446" stroke-width="1.0" fill="none" stroke-linecap="round" opacity="0.56"/>
<circle cx="1.7" cy="47.5" r="0.6" fill="#3c4a44" opacity="0.75"/>
<circle cx="16.5" cy="47.0" r="0.8" fill="#3c4a44" opacity="0.75"/>
<circle cx="25.4" cy="53.9" r="0.7" fill="#3c4a44" opacity="0.75"/>
<circle cx="83.8" cy="4.8" r="0.9" fill="#3c4a44" opacity="0.75"/>
<circle cx="53.6" cy="16.0" r="0.7" fill="#3c4a44" opacity="0.75"/>
<circle cx="74.9" cy="8.8" r="1.0" fill="#3c4a44" opacity="0.75"/>
<circle cx="26.4" cy="37.9" r="0.6" fill="#3c4a44" opacity="0.75"/>
<circle cx="54.4" cy="88.8" r="0.7" fill="#3c4a44" opacity="0.75"/>
<circle cx="21.3" cy="50.5" r="0.9" fill="#3c4a44" opacity="0.75"/>
<circle cx="17.1" cy="20.2" r="0.8" fill="#3c4a44" opacity="0.75"/>
<circle cx="28.6" cy="2.6" r="0.9" fill="#3c4a44" opacity="0.75"/>
<circle cx="103.6" cy="74.5" r="0.9" fill="#3c4a44" opacity="0.75"/>
<circle cx="25.4" cy="28.6" r="0.8" fill="#3c4a44" opacity="0.75"/>
<circle cx="73.5" cy="57.9" r="0.8" fill="#3c4a44" opacity="0.75"/>
<path d="M4.6,40.1 L13.9,37.8 L23.1,34.3 L30.0,30.9 L37.0,28.6 L41.6,27.4" stroke="#1d4a3b" stroke-width="1.4" fill="none" stroke-linejoin="round" opacity="0.85"/>
<circle cx="13.9" cy="37.8" r="1.2" fill="#1c3a30" opacity="0.8"/>
<circle cx="30.0" cy="30.9" r="1.2" fill="#1c3a30" opacity="0.8"/>
<path d="M46.2,21.6 L55.4,19.3 L64.7,14.7 L69.3,13.6 L76.2,11.2 L80.8,9.4" stroke="#1d4a3b" stroke-width="1.4" fill="none" stroke-linejoin="round" opacity="0.85"/>
<circle cx="55.4" cy="19.3" r="1.2" fill="#1c3a30" opacity="0.8"/>
<circle cx="69.3" cy="13.6" r="1.2" fill="#1c3a30" opacity="0.8"/>
<path d="M69.3,81.7 L78.5,79.4 L87.8,78.2 L97.0,75.9 L103.9,73.6 L113.2,69.0 L119.5,65.5" stroke="#1d4a3b" stroke-width="1.4" fill="none" stroke-linejoin="round" opacity="0.85"/>
<circle cx="78.5" cy="79.4" r="1.2" fill="#1c3a30" opacity="0.8"/>
<circle cx="97.0" cy="75.9" r="1.2" fill="#1c3a30" opacity="0.8"/>
<circle cx="113.2" cy="69.0" r="1.2" fill="#1c3a30" opacity="0.8"/>
</g>
</svg>
<svg x="218" y="116.9" width="119.3" height="92.9" viewBox="0 0 119.3 92.9" overflow="hidden">
<defs><filter id="bl23" x="-5%" y="-5%" width="110%" height="110%"><feGaussianBlur stdDeviation="0.9"/></filter><filter id="bs23" x="-5%" y="-5%" width="110%" height="110%"><feGaussianBlur stdDeviation="0.45"/></filter></defs>
<rect width="119.3" height="92.9" fill="#acd1c2"/>
<g filter="url(#bl23)">
<ellipse cx="112.9" cy="90.8" rx="4.2" ry="1.7" transform="rotate(55 112.9 90.8)" fill="#c8cbcb" opacity="0.60"/>
<ellipse cx="41.9" cy="68.8" rx="2.3" ry="1.2" transform="rotate(82 41.9 68.8)" fill="#c8cbcb" opacity="0.46"/>
<ellipse cx="7.7" cy="67.2" rx="2.8" ry="2.1" transform="rotate(78 7.7 67.2)" fill="#c5c9cb" opacity="0.76"/>
<ellipse cx="22.8" cy="0.5" rx="2.6" ry="2.0" transform="rotate(175 22.8 0.5)" fill="#d0d1d2" opacity="0.60"/>
<ellipse cx="92.2" cy="33.5" rx="3.2" ry="3.2" transform="rotate(103 92.2 33.5)" fill="#bacac6" opacity="0.78"/>
<ellipse cx="19.3" cy="44.8" rx="3.9" ry="3.0" transform="rotate(33 19.3 44.8)" fill="#bacac6" opacity="0.52"/>
<ellipse cx="37.5" cy="77.7" rx="2.1" ry="0.9" transform="rotate(77 37.5 77.7)" fill="#c8cbcb" opacity="0.68"/>
<ellipse cx="114.8" cy="24.7" rx="3.3" ry="2.0" transform="rotate(52 114.8 24.7)" fill="#c8cbcb" opacity="0.57"/>
<ellipse cx="94.4" cy="51.3" rx="2.3" ry="1.8" transform="rotate(21 94.4 51.3)" fill="#c8cbcb" opacity="0.77"/>
<ellipse cx="58.8" cy="29.5" rx="1.9" ry="1.5" transform="rotate(170 58.8 29.5)" fill="#bacac6" opacity="0.52"/>
<ellipse cx="119.2" cy="2.5" rx="2.7" ry="1.4" transform="rotate(41 119.2 2.5)" fill="#c8cbcb" opacity="0.46"/>
<ellipse cx="24.8" cy="70.2" rx="1.7" ry="1.4" transform="rotate(62 24.8 70.2)" fill="#d7d8d9" opacity="0.84"/>
<ellipse cx="44.2" cy="16.1" rx="1.7" ry="1.3" transform="rotate(136 44.2 16.1)" fill="#d7d8d9" opacity="0.63"/>
<ellipse cx="34.0" cy="6.1" rx="3.2" ry="1.6" transform="rotate(98 34.0 6.1)" fill="#bacac6" opacity="0.78"/>
<ellipse cx="28.7" cy="38.7" rx="4.2" ry="3.6" transform="rotate(118 28.7 38.7)" fill="#d7d8d9" opacity="0.62"/>
<ellipse cx="17.7" cy="58.0" rx="3.9" ry="3.2" transform="rotate(149 17.7 58.0)" fill="#c8cbcb" opacity="0.71"/>
<ellipse cx="26.9" cy="26.2" rx="2.7" ry="2.5" transform="rotate(110 26.9 26.2)" fill="#cdc7cb" opacity="0.47"/>
<ellipse cx="32.7" cy="-0.5" rx="1.9" ry="1.6" transform="rotate(77 32.7 -0.5)" fill="#c5c9cb" opacity="0.52"/>
<ellipse cx="79.8" cy="30.4" rx="3.6" ry="1.9" transform="rotate(101 79.8 30.4)" fill="#c8cbcb" opacity="0.64"/>
<ellipse cx="53.3" cy="68.0" rx="1.5" ry="0.6" transform="rotate(172 53.3 68.0)" fill="#d7d8d9" opacity="0.75"/>
<ellipse cx="47.3" cy="75.5" rx="1.6" ry="1.1" transform="rotate(76 47.3 75.5)" fill="#bacac6" opacity="0.48"/>
<ellipse cx="84.7" cy="44.5" rx="3.6" ry="3.0" transform="rotate(32 84.7 44.5)" fill="#c5c9cb" opacity="0.66"/>
<ellipse cx="30.3" cy="95.3" rx="2.2" ry="2.0" transform="rotate(90 30.3 95.3)" fill="#c8cbcb" opacity="0.76"/>
<ellipse cx="81.4" cy="56.8" rx="2.4" ry="1.5" transform="rotate(145 81.4 56.8)" fill="#bec4c5" opacity="0.56"/>
<ellipse cx="113.6" cy="12.9" rx="1.6" ry="1.3" transform="rotate(136 113.6 12.9)" fill="#cdc7cb" opacity="0.80"/>
<ellipse cx="64.5" cy="65.3" rx="2.7" ry="2.6" transform="rotate(26 64.5 65.3)" fill="#bec4c5" opacity="0.60"/>
<ellipse cx="74.7" cy="94.9" rx="2.3" ry="1.6" transform="rotate(154 74.7 94.9)" fill="#cdc7cb" opacity="0.55"/>
<ellipse cx="103.6" cy="21.5" rx="4.4" ry="3.0" transform="rotate(73 103.6 21.5)" fill="#bacac6" opacity="0.48"/>
<ellipse cx="22.1" cy="52.9" rx="3.4" ry="1.5" transform="rotate(133 22.1 52.9)" fill="#cdc7cb" opacity="0.61"/>
<ellipse cx="82.1" cy="26.0" rx="1.7" ry="1.4" transform="rotate(31 82.1 26.0)" fill="#bacac6" opacity="0.84"/>
<ellipse cx="111.3" cy="15.1" rx="1.6" ry="1.3" transform="rotate(168 111.3 15.1)" fill="#c5c9cb" opacity="0.57"/>
<ellipse cx="109.4" cy="26.2" rx="3.9" ry="3.5" transform="rotate(109 109.4 26.2)" fill="#c8cbcb" opacity="0.69"/>
<ellipse cx="38.0" cy="10.3" rx="1.8" ry="0.9" transform="rotate(174 38.0 10.3)" fill="#cdc7cb" opacity="0.85"/>
<ellipse cx="91.9" cy="19.0" rx="3.3" ry="2.6" transform="rotate(96 91.9 19.0)" fill="#d7d8d9" opacity="0.54"/>
<ellipse cx="67.3" cy="70.3" rx="2.9" ry="2.8" transform="rotate(177 67.3 70.3)" fill="#bacac6" opacity="0.50"/>
<ellipse cx="44.6" cy="73.5" rx="4.0" ry="2.8" transform="rotate(63 44.6 73.5)" fill="#c8cbcb" opacity="0.53"/>
<ellipse cx="78.5" cy="13.0" rx="2.4" ry="1.1" transform="rotate(57 78.5 13.0)" fill="#d7d8d9" opacity="0.62"/>
<ellipse cx="100.1" cy="55.3" rx="2.7" ry="2.7" transform="rotate(6 100.1 55.3)" fill="#d0d1d2" opacity="0.57"/>
<ellipse cx="99.6" cy="36.4" rx="2.6" ry="2.6" transform="rotate(97 99.6 36.4)" fill="#d7d8d9" opacity="0.70"/>
<ellipse cx="50.6" cy="57.2" rx="4.3" ry="3.4" transform="rotate(77 50.6 57.2)" fill="#d0d1d2" opacity="0.48"/>
<ellipse cx="102.3" cy="35.7" rx="2.6" ry="2.2" transform="rotate(76 102.3 35.7)" fill="#c8cbcb" opacity="0.59"/>
<ellipse cx="115.2" cy="63.4" rx="4.4" ry="2.5" transform="rotate(30 115.2 63.4)" fill="#cdc7cb" opacity="0.69"/>
<ellipse cx="5.0" cy="55.2" rx="3.0" ry="2.6" transform="rotate(167 5.0 55.2)" fill="#c5c9cb" opacity="0.62"/>
<ellipse cx="83.0" cy="93.8" rx="3.9" ry="3.0" transform="rotate(135 83.0 93.8)" fill="#c8cbcb" opacity="0.69"/>
<ellipse cx="63.6" cy="16.5" rx="2.5" ry="1.4" transform="rotate(51 63.6 16.5)" fill="#bec4c5" opacity="0.65"/>
<ellipse cx="65.4" cy="75.2" rx="2.4" ry="1.0" transform="rotate(142 65.4 75.2)" fill="#bacac6" opacity="0.68"/>
<ellipse cx="109.9" cy="12.1" rx="3.6" ry="2.9" transform="rotate(20 109.9 12.1)" fill="#d0d1d2" opacity="0.82"/>
<ellipse cx="118.5" cy="8.0" rx="4.0" ry="3.6" transform="rotate(173 118.5 8.0)" fill="#c8cbcb" opacity="0.46"/>
<ellipse cx="56.8" cy="89.6" rx="1.6" ry="0.9" transform="rotate(103 56.8 89.6)" fill="#bec4c5" opacity="0.85"/>
<ellipse cx="78.0" cy="83.6" rx="2.1" ry="1.7" transform="rotate(122 78.0 83.6)" fill="#bacac6" opacity="0.71"/>
<ellipse cx="13.5" cy="79.6" rx="3.0" ry="2.4" transform="rotate(26 13.5 79.6)" fill="#bacac6" opacity="0.84"/>
<ellipse cx="-3.0" cy="77.1" rx="3.8" ry="3.2" transform="rotate(76 -3.0 77.1)" fill="#c5c9cb" opacity="0.47"/>
<ellipse cx="-0.8" cy="11.4" rx="1.5" ry="1.2" transform="rotate(92 -0.8 11.4)" fill="#bacac6" opacity="0.81"/>
<ellipse cx="48.9" cy="81.4" rx="1.7" ry="1.0" transform="rotate(129 48.9 81.4)" fill="#bec4c5" opacity="0.46"/>
<ellipse cx="17.9" cy="27.4" rx="4.0" ry="2.0" transform="rotate(25 17.9 27.4)" fill="#c8cbcb" opacity="0.68"/>
<ellipse cx="119.2" cy="57.7" rx="2.8" ry="1.4" transform="rotate(31 119.2 57.7)" fill="#c5c9cb" opacity="0.72"/>
<ellipse cx="78.1" cy="56.4" rx="4.2" ry="3.8" transform="rotate(48 78.1 56.4)" fill="#d0d1d2" opacity="0.69"/>
<ellipse cx="100.1" cy="68.0" rx="4.4" ry="2.1" transform="rotate(91 100.1 68.0)" fill="#cdc7cb" opacity="0.59"/>
<ellipse cx="22.7" cy="46.5" rx="4.5" ry="3.9" transform="rotate(128 22.7 46.5)" fill="#cdc7cb" opacity="0.51"/>
<ellipse cx="76.1" cy="39.0" rx="2.2" ry="1.6" transform="rotate(45 76.1 39.0)" fill="#c5c9cb" opacity="0.47"/>
<ellipse cx="71.3" cy="95.0" rx="3.8" ry="3.5" transform="rotate(13 71.3 95.0)" fill="#bacac6" opacity="0.60"/>
<ellipse cx="0.9" cy="0.5" rx="4.0" ry="3.8" transform="rotate(48 0.9 0.5)" fill="#d0d1d2" opacity="0.75"/>
<ellipse cx="55.2" cy="74.1" rx="2.5" ry="2.2" transform="rotate(164 55.2 74.1)" fill="#c8cbcb" opacity="0.77"/>
<ellipse cx="10.1" cy="49.6" rx="2.6" ry="2.2" transform="rotate(31 10.1 49.6)" fill="#bacac6" opacity="0.80"/>
<ellipse cx="115.3" cy="-0.7" rx="4.1" ry="2.4" transform="rotate(26 115.3 -0.7)" fill="#cdc7cb" opacity="0.79"/>
<ellipse cx="80.7" cy="61.7" rx="4.0" ry="3.9" transform="rotate(114 80.7 61.7)" fill="#bec4c5" opacity="0.82"/>
<ellipse cx="15.0" cy="26.5" rx="3.1" ry="2.2" transform="rotate(108 15.0 26.5)" fill="#c5c9cb" opacity="0.77"/>
<ellipse cx="68.4" cy="59.5" rx="3.0" ry="2.6" transform="rotate(108 68.4 59.5)" fill="#bacac6" opacity="0.61"/>
<ellipse cx="39.5" cy="12.2" rx="1.5" ry="1.3" transform="rotate(99 39.5 12.2)" fill="#bec4c5" opacity="0.80"/>
<ellipse cx="57.1" cy="67.8" rx="1.7" ry="1.3" transform="rotate(152 57.1 67.8)" fill="#d7d8d9" opacity="0.56"/>
<ellipse cx="11.6" cy="57.3" rx="2.2" ry="1.4" transform="rotate(160 11.6 57.3)" fill="#bec4c5" opacity="0.55"/>
<ellipse cx="8.7" cy="59.0" rx="3.6" ry="3.5" transform="rotate(36 8.7 59.0)" fill="#bec4c5" opacity="0.54"/>
<ellipse cx="18.6" cy="50.2" rx="4.4" ry="3.7" transform="rotate(134 18.6 50.2)" fill="#d7d8d9" opacity="0.74"/>
<ellipse cx="39.5" cy="50.7" rx="3.3" ry="2.8" transform="rotate(134 39.5 50.7)" fill="#cdc7cb" opacity="0.81"/>
<ellipse cx="71.1" cy="69.7" rx="1.7" ry="0.8" transform="rotate(21 71.1 69.7)" fill="#d0d1d2" opacity="0.62"/>
<ellipse cx="105.5" cy="32.1" rx="1.8" ry="1.1" transform="rotate(53 105.5 32.1)" fill="#bacac6" opacity="0.80"/>
<ellipse cx="98.6" cy="87.7" rx="4.5" ry="4.1" transform="rotate(137 98.6 87.7)" fill="#d0d1d2" opacity="0.81"/>
<ellipse cx="90.5" cy="24.9" rx="3.0" ry="2.4" transform="rotate(29 90.5 24.9)" fill="#cdc7cb" opacity="0.71"/>
<ellipse cx="1.8" cy="42.2" rx="2.7" ry="1.1" transform="rotate(86 1.8 42.2)" fill="#bacac6" opacity="0.74"/>
<ellipse cx="111.5" cy="80.9" rx="2.8" ry="2.0" transform="rotate(25 111.5 80.9)" fill="#d0d1d2" opacity="0.74"/>
<ellipse cx="85.2" cy="24.7" rx="3.9" ry="1.8" transform="rotate(178 85.2 24.7)" fill="#d0d1d2" opacity="0.68"/>
<ellipse cx="92.1" cy="76.8" rx="2.3" ry="1.6" transform="rotate(153 92.1 76.8)" fill="#c5c9cb" opacity="0.85"/>
<ellipse cx="49.8" cy="16.8" rx="3.6" ry="3.6" transform="rotate(156 49.8 16.8)" fill="#d7d8d9" opacity="0.50"/>
<ellipse cx="89.2" cy="23.8" rx="2.3" ry="1.2" transform="rotate(43 89.2 23.8)" fill="#cdc7cb" opacity="0.71"/>
<ellipse cx="33.8" cy="16.9" rx="1.8" ry="1.1" transform="rotate(36 33.8 16.9)" fill="#d0d1d2" opacity="0.84"/>
<ellipse cx="97.8" cy="86.0" rx="1.7" ry="0.7" transform="rotate(67 97.8 86.0)" fill="#c8cbcb" opacity="0.75"/>
<ellipse cx="0.2" cy="37.7" rx="2.5" ry="2.3" transform="rotate(138 0.2 37.7)" fill="#d7d8d9" opacity="0.80"/>
<ellipse cx="25.1" cy="3.0" rx="4.2" ry="1.9" transform="rotate(35 25.1 3.0)" fill="#c8cbcb" opacity="0.48"/>
<ellipse cx="28.1" cy="10.8" rx="1.8" ry="1.2" transform="rotate(48 28.1 10.8)" fill="#cdc7cb" opacity="0.65"/>
<ellipse cx="86.9" cy="76.1" rx="4.1" ry="3.3" transform="rotate(1 86.9 76.1)" fill="#c5c9cb" opacity="0.65"/>
<ellipse cx="75.3" cy="81.0" rx="1.5" ry="0.8" transform="rotate(109 75.3 81.0)" fill="#d7d8d9" opacity="0.72"/>
<ellipse cx="38.6" cy="88.9" rx="3.1" ry="2.4" transform="rotate(150 38.6 88.9)" fill="#cdc7cb" opacity="0.79"/>
<ellipse cx="99.7" cy="45.2" rx="1.8" ry="1.0" transform="rotate(166 99.7 45.2)" fill="#cdc7cb" opacity="0.78"/>
<ellipse cx="76.8" cy="62.6" rx="3.7" ry="3.3" transform="rotate(40 76.8 62.6)" fill="#bec4c5" opacity="0.55"/>
<ellipse cx="110.4" cy="2.5" rx="4.1" ry="3.2" transform="rotate(68 110.4 2.5)" fill="#d7d8d9" opacity="0.61"/>
<ellipse cx="113.9" cy="54.4" rx="4.2" ry="2.2" transform="rotate(76 113.9 54.4)" fill="#d0d1d2" opacity="0.49"/>
<ellipse cx="8.3" cy="53.1" rx="1.7" ry="0.7" transform="rotate(148 8.3 53.1)" fill="#bec4c5" opacity="0.66"/>
<ellipse cx="105.6" cy="19.4" rx="2.5" ry="1.8" transform="rotate(69 105.6 19.4)" fill="#d0d1d2" opacity="0.73"/>
<ellipse cx="119.7" cy="48.3" rx="4.3" ry="2.6" transform="rotate(155 119.7 48.3)" fill="#d0d1d2" opacity="0.76"/>
<ellipse cx="16.6" cy="86.2" rx="3.7" ry="1.8" transform="rotate(131 16.6 86.2)" fill="#d7d8d9" opacity="0.46"/>
<ellipse cx="21.0" cy="50.1" rx="2.2" ry="2.1" transform="rotate(26 21.0 50.1)" fill="#d0d1d2" opacity="0.82"/>
<ellipse cx="0.7" cy="82.8" rx="3.3" ry="1.7" transform="rotate(145 0.7 82.8)" fill="#d7d8d9" opacity="0.76"/>
<ellipse cx="99.0" cy="41.5" rx="3.1" ry="1.4" transform="rotate(63 99.0 41.5)" fill="#c8cbcb" opacity="0.77"/>
<ellipse cx="66.9" cy="38.4" rx="1.8" ry="1.6" transform="rotate(173 66.9 38.4)" fill="#d0d1d2" opacity="0.72"/>
<ellipse cx="38.3" cy="83.4" rx="1.5" ry="1.2" transform="rotate(53 38.3 83.4)" fill="#c5c9cb" opacity="0.80"/>
<ellipse cx="27.4" cy="6.0" rx="3.3" ry="1.4" transform="rotate(173 27.4 6.0)" fill="#cdc7cb" opacity="0.48"/>
<ellipse cx="6.0" cy="6.2" rx="2.6" ry="1.6" transform="rotate(57 6.0 6.2)" fill="#c8cbcb" opacity="0.73"/>
<ellipse cx="28.2" cy="29.8" rx="3.2" ry="1.6" transform="rotate(55 28.2 29.8)" fill="#d7d8d9" opacity="0.56"/>
<ellipse cx="36.5" cy="45.2" rx="4.0" ry="3.0" transform="rotate(130 36.5 45.2)" fill="#d0d1d2" opacity="0.66"/>
<ellipse cx="30.5" cy="16.2" rx="4.1" ry="3.2" transform="rotate(72 30.5 16.2)" fill="#bacac6" opacity="0.76"/>
<ellipse cx="71.6" cy="37.3" rx="4.5" ry="2.8" transform="rotate(85 71.6 37.3)" fill="#d0d1d2" opacity="0.69"/>
<ellipse cx="97.6" cy="56.2" rx="3.9" ry="2.3" transform="rotate(112 97.6 56.2)" fill="#c8cbcb" opacity="0.46"/>
<ellipse cx="51.2" cy="95.8" rx="3.7" ry="2.2" transform="rotate(120 51.2 95.8)" fill="#d7d8d9" opacity="0.75"/>
<ellipse cx="77.0" cy="73.2" rx="2.3" ry="1.9" transform="rotate(125 77.0 73.2)" fill="#bec4c5" opacity="0.51"/>
<ellipse cx="49.8" cy="28.5" rx="2.2" ry="1.8" transform="rotate(74 49.8 28.5)" fill="#c8cbcb" opacity="0.73"/>
<ellipse cx="112.0" cy="35.0" rx="2.7" ry="1.2" transform="rotate(171 112.0 35.0)" fill="#c5c9cb" opacity="0.85"/>
<ellipse cx="91.0" cy="76.7" rx="3.6" ry="2.4" transform="rotate(15 91.0 76.7)" fill="#c8cbcb" opacity="0.68"/>
<ellipse cx="15.6" cy="55.6" rx="2.4" ry="2.0" transform="rotate(42 15.6 55.6)" fill="#c8cbcb" opacity="0.56"/>
<ellipse cx="11.4" cy="20.3" rx="4.1" ry="2.8" transform="rotate(1 11.4 20.3)" fill="#d7d8d9" opacity="0.53"/>
<ellipse cx="55.1" cy="46.4" rx="1.7" ry="1.1" transform="rotate(159 55.1 46.4)" fill="#d0d1d2" opacity="0.72"/>
<ellipse cx="41.3" cy="78.8" rx="3.8" ry="1.8" transform="rotate(171 41.3 78.8)" fill="#bacac6" opacity="0.73"/>
<ellipse cx="-0.9" cy="73.7" rx="1.9" ry="1.5" transform="rotate(38 -0.9 73.7)" fill="#c5c9cb" opacity="0.68"/>
<ellipse cx="21.6" cy="58.1" rx="2.5" ry="1.2" transform="rotate(40 21.6 58.1)" fill="#bec4c5" opacity="0.73"/>
<ellipse cx="101.8" cy="-1.8" rx="2.4" ry="1.6" transform="rotate(128 101.8 -1.8)" fill="#c8cbcb" opacity="0.65"/>
<ellipse cx="17.2" cy="61.2" rx="3.0" ry="2.7" transform="rotate(122 17.2 61.2)" fill="#c5c9cb" opacity="0.66"/>
<ellipse cx="102.4" cy="9.8" rx="4.0" ry="2.6" transform="rotate(122 102.4 9.8)" fill="#cdc7cb" opacity="0.63"/>
<ellipse cx="5.7" cy="18.8" rx="1.7" ry="1.2" transform="rotate(22 5.7 18.8)" fill="#c8cbcb" opacity="0.65"/>
<ellipse cx="23.0" cy="11.0" rx="2.0" ry="1.2" transform="rotate(47 23.0 11.0)" fill="#c8cbcb" opacity="0.65"/>
<ellipse cx="92.7" cy="3.0" rx="1.5" ry="0.9" transform="rotate(88 92.7 3.0)" fill="#d7d8d9" opacity="0.68"/>
<ellipse cx="43.8" cy="57.1" rx="2.2" ry="2.0" transform="rotate(7 43.8 57.1)" fill="#bec4c5" opacity="0.53"/>
<ellipse cx="96.1" cy="35.7" rx="4.2" ry="1.7" transform="rotate(180 96.1 35.7)" fill="#c8cbcb" opacity="0.62"/>
<ellipse cx="2.7" cy="5.1" rx="3.0" ry="1.5" transform="rotate(141 2.7 5.1)" fill="#bec4c5" opacity="0.51"/>
<ellipse cx="34.6" cy="5.7" rx="1.5" ry="1.4" transform="rotate(89 34.6 5.7)" fill="#bec4c5" opacity="0.59"/>
<ellipse cx="120.2" cy="69.7" rx="1.5" ry="0.8" transform="rotate(97 120.2 69.7)" fill="#c5c9cb" opacity="0.58"/>
<ellipse cx="3.8" cy="89.1" rx="4.4" ry="3.6" transform="rotate(179 3.8 89.1)" fill="#d0d1d2" opacity="0.84"/>
<ellipse cx="81.0" cy="81.4" rx="2.7" ry="1.8" transform="rotate(8 81.0 81.4)" fill="#bacac6" opacity="0.54"/>
<ellipse cx="120.3" cy="73.2" rx="2.5" ry="1.5" transform="rotate(153 120.3 73.2)" fill="#bec4c5" opacity="0.58"/>
<ellipse cx="109.0" cy="41.7" rx="4.1" ry="3.8" transform="rotate(108 109.0 41.7)" fill="#d0d1d2" opacity="0.74"/>
<ellipse cx="68.9" cy="21.5" rx="3.8" ry="1.9" transform="rotate(12 68.9 21.5)" fill="#bec4c5" opacity="0.50"/>
<ellipse cx="6.2" cy="26.8" rx="2.8" ry="2.2" transform="rotate(137 6.2 26.8)" fill="#bec4c5" opacity="0.58"/>
<ellipse cx="37.3" cy="37.7" rx="2.2" ry="1.2" transform="rotate(148 37.3 37.7)" fill="#c8cbcb" opacity="0.78"/>
<ellipse cx="107.8" cy="83.0" rx="3.0" ry="1.3" transform="rotate(92 107.8 83.0)" fill="#d0d1d2" opacity="0.74"/>
<ellipse cx="54.9" cy="11.2" rx="4.2" ry="2.1" transform="rotate(52 54.9 11.2)" fill="#c8cbcb" opacity="0.73"/>
<ellipse cx="48.7" cy="40.7" rx="3.0" ry="2.1" transform="rotate(105 48.7 40.7)" fill="#c5c9cb" opacity="0.60"/>
<ellipse cx="104.1" cy="27.4" rx="3.2" ry="3.1" transform="rotate(47 104.1 27.4)" fill="#c8cbcb" opacity="0.49"/>
<ellipse cx="32.2" cy="60.0" rx="1.5" ry="0.8" transform="rotate(98 32.2 60.0)" fill="#bec4c5" opacity="0.64"/>
<ellipse cx="72.7" cy="24.0" rx="2.3" ry="1.8" transform="rotate(99 72.7 24.0)" fill="#bec4c5" opacity="0.73"/>
<ellipse cx="91.2" cy="14.7" rx="3.8" ry="3.6" transform="rotate(30 91.2 14.7)" fill="#d7d8d9" opacity="0.69"/>
<ellipse cx="40.6" cy="56.6" rx="3.0" ry="2.0" transform="rotate(130 40.6 56.6)" fill="#bacac6" opacity="0.54"/>
<ellipse cx="99.7" cy="81.9" rx="3.1" ry="1.3" transform="rotate(147 99.7 81.9)" fill="#d0d1d2" opacity="0.49"/>
<ellipse cx="32.1" cy="41.8" rx="2.1" ry="1.4" transform="rotate(0 32.1 41.8)" fill="#d7d8d9" opacity="0.61"/>
<ellipse cx="19.4" cy="50.5" rx="2.0" ry="0.9" transform="rotate(60 19.4 50.5)" fill="#cdc7cb" opacity="0.63"/>
<ellipse cx="103.7" cy="-1.6" rx="3.9" ry="3.0" transform="rotate(140 103.7 -1.6)" fill="#d0d1d2" opacity="0.56"/>
<ellipse cx="100.6" cy="23.4" rx="4.3" ry="2.9" transform="rotate(121 100.6 23.4)" fill="#d7d8d9" opacity="0.84"/>
<ellipse cx="106.8" cy="3.2" rx="1.9" ry="1.1" transform="rotate(138 106.8 3.2)" fill="#bacac6" opacity="0.52"/>
<ellipse cx="36.9" cy="88.8" rx="3.3" ry="1.9" transform="rotate(65 36.9 88.8)" fill="#bacac6" opacity="0.51"/>
<ellipse cx="33.3" cy="10.1" rx="3.4" ry="2.3" transform="rotate(20 33.3 10.1)" fill="#c8cbcb" opacity="0.59"/>
<ellipse cx="11.5" cy="43.5" rx="4.2" ry="3.3" transform="rotate(112 11.5 43.5)" fill="#d7d8d9" opacity="0.75"/>
<ellipse cx="37.0" cy="29.7" rx="2.3" ry="1.1" transform="rotate(38 37.0 29.7)" fill="#d0d1d2" opacity="0.76"/>
<ellipse cx="40.1" cy="40.1" rx="2.1" ry="1.0" transform="rotate(112 40.1 40.1)" fill="#c8cbcb" opacity="0.77"/>
<ellipse cx="64.0" cy="60.7" rx="2.8" ry="1.3" transform="rotate(132 64.0 60.7)" fill="#c8cbcb" opacity="0.73"/>
<ellipse cx="36.3" cy="82.1" rx="1.8" ry="0.9" transform="rotate(70 36.3 82.1)" fill="#bec4c5" opacity="0.60"/>
<ellipse cx="65.4" cy="78.1" rx="1.9" ry="0.8" transform="rotate(98 65.4 78.1)" fill="#d7d8d9" opacity="0.71"/>
<ellipse cx="50.7" cy="64.2" rx="2.0" ry="1.4" transform="rotate(11 50.7 64.2)" fill="#d0d1d2" opacity="0.71"/>
<ellipse cx="30.1" cy="40.7" rx="4.3" ry="2.3" transform="rotate(163 30.1 40.7)" fill="#d7d8d9" opacity="0.57"/>
<ellipse cx="8.0" cy="74.3" rx="3.9" ry="1.6" transform="rotate(71 8.0 74.3)" fill="#c8cbcb" opacity="0.52"/>
<ellipse cx="72.0" cy="12.9" rx="3.0" ry="2.4" transform="rotate(168 72.0 12.9)" fill="#d7d8d9" opacity="0.80"/>
<ellipse cx="98.8" cy="57.7" rx="2.5" ry="1.3" transform="rotate(128 98.8 57.7)" fill="#c8cbcb" opacity="0.66"/>
<ellipse cx="5.9" cy="80.7" rx="1.9" ry="1.5" transform="rotate(108 5.9 80.7)" fill="#bec4c5" opacity="0.69"/>
<ellipse cx="117.9" cy="12.0" rx="3.8" ry="1.8" transform="rotate(126 117.9 12.0)" fill="#d0d1d2" opacity="0.76"/>
<ellipse cx="10.5" cy="0.3" rx="2.1" ry="1.5" transform="rotate(8 10.5 0.3)" fill="#c5c9cb" opacity="0.51"/>
<ellipse cx="38.6" cy="11.9" rx="3.6" ry="3.4" transform="rotate(143 38.6 11.9)" fill="#cdc7cb" opacity="0.78"/>
<ellipse cx="77.9" cy="60.8" rx="3.7" ry="3.4" transform="rotate(46 77.9 60.8)" fill="#cdc7cb" opacity="0.46"/>
<ellipse cx="18.5" cy="70.9" rx="3.1" ry="2.2" transform="rotate(77 18.5 70.9)" fill="#d7d8d9" opacity="0.59"/>
<ellipse cx="23.8" cy="81.7" rx="3.7" ry="2.5" transform="rotate(97 23.8 81.7)" fill="#cdc7cb" opacity="0.77"/>
<ellipse cx="15.6" cy="78.7" rx="3.4" ry="2.4" transform="rotate(59 15.6 78.7)" fill="#bec4c5" opacity="0.68"/>
<ellipse cx="104.6" cy="78.5" rx="3.6" ry="3.4" transform="rotate(137 104.6 78.5)" fill="#d7d8d9" opacity="0.61"/>
<ellipse cx="111.5" cy="20.8" rx="2.3" ry="0.9" transform="rotate(151 111.5 20.8)" fill="#d7d8d9" opacity="0.79"/>
<ellipse cx="84.5" cy="-0.4" rx="3.3" ry="2.3" transform="rotate(173 84.5 -0.4)" fill="#c8cbcb" opacity="0.79"/>
<ellipse cx="55.2" cy="51.1" rx="3.6" ry="2.5" transform="rotate(1 55.2 51.1)" fill="#bec4c5" opacity="0.66"/>
<ellipse cx="107.4" cy="95.2" rx="2.1" ry="1.0" transform="rotate(42 107.4 95.2)" fill="#d0d1d2" opacity="0.84"/>
<ellipse cx="99.2" cy="25.9" rx="2.8" ry="2.0" transform="rotate(57 99.2 25.9)" fill="#c5c9cb" opacity="0.66"/>
<ellipse cx="18.1" cy="53.3" rx="1.7" ry="0.8" transform="rotate(139 18.1 53.3)" fill="#c5c9cb" opacity="0.49"/>
<ellipse cx="71.0" cy="46.7" rx="4.1" ry="2.5" transform="rotate(49 71.0 46.7)" fill="#c5c9cb" opacity="0.64"/>
<ellipse cx="109.2" cy="57.9" rx="2.9" ry="2.6" transform="rotate(156 109.2 57.9)" fill="#bacac6" opacity="0.49"/>
<ellipse cx="18.0" cy="54.4" rx="3.7" ry="3.2" transform="rotate(119 18.0 54.4)" fill="#d7d8d9" opacity="0.45"/>
<ellipse cx="97.2" cy="87.2" rx="1.9" ry="0.8" transform="rotate(123 97.2 87.2)" fill="#d0d1d2" opacity="0.61"/>
<ellipse cx="37.4" cy="45.5" rx="2.4" ry="1.7" transform="rotate(124 37.4 45.5)" fill="#bacac6" opacity="0.78"/>
<ellipse cx="118.9" cy="66.8" rx="3.0" ry="1.8" transform="rotate(69 118.9 66.8)" fill="#c8cbcb" opacity="0.83"/>
<ellipse cx="105.8" cy="21.6" rx="2.5" ry="1.0" transform="rotate(83 105.8 21.6)" fill="#d7d8d9" opacity="0.63"/>
<ellipse cx="49.0" cy="60.2" rx="4.3" ry="3.0" transform="rotate(1 49.0 60.2)" fill="#c5c9cb" opacity="0.65"/>
<ellipse cx="40.8" cy="54.4" rx="2.8" ry="2.1" transform="rotate(129 40.8 54.4)" fill="#c5c9cb" opacity="0.69"/>
<ellipse cx="42.0" cy="45.3" rx="3.0" ry="2.0" transform="rotate(52 42.0 45.3)" fill="#d7d8d9" opacity="0.64"/>
<ellipse cx="52.1" cy="59.8" rx="1.9" ry="1.9" transform="rotate(72 52.1 59.8)" fill="#bacac6" opacity="0.81"/>
<ellipse cx="83.3" cy="89.0" rx="3.5" ry="3.1" transform="rotate(14 83.3 89.0)" fill="#cdc7cb" opacity="0.45"/>
<ellipse cx="117.4" cy="30.7" rx="3.5" ry="3.4" transform="rotate(94 117.4 30.7)" fill="#d0d1d2" opacity="0.58"/>
<ellipse cx="71.0" cy="65.9" rx="1.8" ry="0.8" transform="rotate(3 71.0 65.9)" fill="#cdc7cb" opacity="0.54"/>
<ellipse cx="34.3" cy="50.3" rx="3.6" ry="2.4" transform="rotate(76 34.3 50.3)" fill="#bec4c5" opacity="0.64"/>
<ellipse cx="61.8" cy="18.5" rx="2.6" ry="1.9" transform="rotate(28 61.8 18.5)" fill="#d7d8d9" opacity="0.49"/>
<ellipse cx="4.3" cy="23.5" rx="2.5" ry="1.7" transform="rotate(137 4.3 23.5)" fill="#bec4c5" opacity="0.85"/>
<ellipse cx="93.0" cy="77.9" rx="2.8" ry="2.4" transform="rotate(133 93.0 77.9)" fill="#c5c9cb" opacity="0.57"/>
<ellipse cx="95.7" cy="74.1" rx="2.9" ry="2.7" transform="rotate(167 95.7 74.1)" fill="#cdc7cb" opacity="0.61"/>
<ellipse cx="49.0" cy="20.3" rx="2.1" ry="1.8" transform="rotate(149 49.0 20.3)" fill="#cdc7cb" opacity="0.58"/>
<ellipse cx="92.7" cy="-1.4" rx="3.0" ry="1.6" transform="rotate(172 92.7 -1.4)" fill="#bec4c5" opacity="0.45"/>
<ellipse cx="112.3" cy="55.3" rx="2.0" ry="1.3" transform="rotate(162 112.3 55.3)" fill="#c5c9cb" opacity="0.67"/>
<ellipse cx="69.2" cy="59.1" rx="2.3" ry="1.8" transform="rotate(101 69.2 59.1)" fill="#c5c9cb" opacity="0.75"/>
<ellipse cx="113.8" cy="52.7" rx="2.4" ry="2.3" transform="rotate(55 113.8 52.7)" fill="#bec4c5" opacity="0.74"/>
<ellipse cx="39.4" cy="65.7" rx="2.0" ry="1.4" transform="rotate(72 39.4 65.7)" fill="#d0d1d2" opacity="0.58"/>
<ellipse cx="37.3" cy="47.3" rx="1.5" ry="0.7" transform="rotate(111 37.3 47.3)" fill="#d7d8d9" opacity="0.53"/>
<ellipse cx="40.2" cy="27.1" rx="2.2" ry="1.8" transform="rotate(92 40.2 27.1)" fill="#c5c9cb" opacity="0.49"/>
<ellipse cx="52.0" cy="42.2" rx="3.5" ry="2.8" transform="rotate(93 52.0 42.2)" fill="#c8cbcb" opacity="0.65"/>
<ellipse cx="108.0" cy="42.5" rx="4.4" ry="3.5" transform="rotate(43 108.0 42.5)" fill="#c8cbcb" opacity="0.80"/>
<ellipse cx="42.2" cy="53.5" rx="2.6" ry="2.5" transform="rotate(128 42.2 53.5)" fill="#cdc7cb" opacity="0.62"/>
<ellipse cx="108.4" cy="2.6" rx="1.9" ry="1.2" transform="rotate(13 108.4 2.6)" fill="#c8cbcb" opacity="0.53"/>
<ellipse cx="114.2" cy="9.7" rx="2.7" ry="1.3" transform="rotate(174 114.2 9.7)" fill="#c8cbcb" opacity="0.81"/>
<ellipse cx="81.5" cy="20.7" rx="3.6" ry="1.7" transform="rotate(75 81.5 20.7)" fill="#bacac6" opacity="0.71"/>
<ellipse cx="23.1" cy="54.6" rx="2.8" ry="2.3" transform="rotate(109 23.1 54.6)" fill="#cdc7cb" opacity="0.79"/>
<ellipse cx="28.5" cy="14.5" rx="2.4" ry="1.5" transform="rotate(68 28.5 14.5)" fill="#cdc7cb" opacity="0.58"/>
<ellipse cx="74.1" cy="54.4" rx="2.5" ry="1.8" transform="rotate(95 74.1 54.4)" fill="#d7d8d9" opacity="0.64"/>
<ellipse cx="54.0" cy="17.8" rx="3.2" ry="2.8" transform="rotate(165 54.0 17.8)" fill="#cdc7cb" opacity="0.52"/>
<ellipse cx="6.8" cy="62.1" rx="3.5" ry="1.6" transform="rotate(93 6.8 62.1)" fill="#cdc7cb" opacity="0.59"/>
<ellipse cx="42.8" cy="7.9" rx="3.3" ry="2.7" transform="rotate(70 42.8 7.9)" fill="#bec4c5" opacity="0.72"/>
<ellipse cx="54.7" cy="10.0" rx="3.7" ry="3.2" transform="rotate(95 54.7 10.0)" fill="#d0d1d2" opacity="0.55"/>
<ellipse cx="17.9" cy="77.5" rx="1.5" ry="1.0" transform="rotate(47 17.9 77.5)" fill="#c5c9cb" opacity="0.66"/>
<ellipse cx="3.5" cy="4.7" rx="3.4" ry="2.1" transform="rotate(14 3.5 4.7)" fill="#d7d8d9" opacity="0.47"/>
<ellipse cx="82.6" cy="90.4" rx="2.0" ry="1.4" transform="rotate(3 82.6 90.4)" fill="#c5c9cb" opacity="0.53"/>
<ellipse cx="111.9" cy="50.9" rx="3.1" ry="2.8" transform="rotate(158 111.9 50.9)" fill="#bec4c5" opacity="0.50"/>
<ellipse cx="66.7" cy="46.8" rx="2.9" ry="1.4" transform="rotate(25 66.7 46.8)" fill="#d0d1d2" opacity="0.75"/>
<ellipse cx="35.0" cy="19.6" rx="2.9" ry="1.8" transform="rotate(74 35.0 19.6)" fill="#cdc7cb" opacity="0.66"/>
<ellipse cx="57.0" cy="-1.3" rx="4.0" ry="2.3" transform="rotate(52 57.0 -1.3)" fill="#d0d1d2" opacity="0.56"/>
<ellipse cx="79.7" cy="49.1" rx="3.2" ry="1.3" transform="rotate(79 79.7 49.1)" fill="#c5c9cb" opacity="0.80"/>
<ellipse cx="107.8" cy="-2.0" rx="2.2" ry="1.0" transform="rotate(92 107.8 -2.0)" fill="#d7d8d9" opacity="0.69"/>
<ellipse cx="17.2" cy="33.6" rx="2.2" ry="1.8" transform="rotate(80 17.2 33.6)" fill="#c5c9cb" opacity="0.71"/>
<ellipse cx="4.3" cy="61.4" rx="3.2" ry="3.0" transform="rotate(65 4.3 61.4)" fill="#bec4c5" opacity="0.59"/>
<ellipse cx="19.8" cy="84.3" rx="4.3" ry="2.1" transform="rotate(28 19.8 84.3)" fill="#c8cbcb" opacity="0.56"/>
<ellipse cx="71.8" cy="37.6" rx="2.8" ry="2.8" transform="rotate(110 71.8 37.6)" fill="#c8cbcb" opacity="0.55"/>
<ellipse cx="82.7" cy="10.2" rx="2.7" ry="1.3" transform="rotate(79 82.7 10.2)" fill="#c5c9cb" opacity="0.50"/>
<ellipse cx="73.2" cy="86.0" rx="2.8" ry="2.1" transform="rotate(33 73.2 86.0)" fill="#cdc7cb" opacity="0.60"/>
<ellipse cx="105.6" cy="75.2" rx="3.2" ry="1.6" transform="rotate(15 105.6 75.2)" fill="#bacac6" opacity="0.84"/>
<ellipse cx="108.4" cy="4.2" rx="3.2" ry="2.5" transform="rotate(110 108.4 4.2)" fill="#c5c9cb" opacity="0.65"/>
<ellipse cx="102.0" cy="20.9" rx="2.4" ry="1.0" transform="rotate(76 102.0 20.9)" fill="#d0d1d2" opacity="0.72"/>
<ellipse cx="10.6" cy="91.1" rx="4.0" ry="3.1" transform="rotate(6 10.6 91.1)" fill="#d7d8d9" opacity="0.64"/>
<ellipse cx="41.1" cy="44.8" rx="2.7" ry="1.1" transform="rotate(167 41.1 44.8)" fill="#bacac6" opacity="0.65"/>
<ellipse cx="41.1" cy="40.6" rx="2.5" ry="2.2" transform="rotate(32 41.1 40.6)" fill="#cdc7cb" opacity="0.55"/>
<ellipse cx="38.0" cy="87.3" rx="2.9" ry="1.3" transform="rotate(141 38.0 87.3)" fill="#d0d1d2" opacity="0.54"/>
<ellipse cx="54.0" cy="-0.1" rx="3.6" ry="1.6" transform="rotate(105 54.0 -0.1)" fill="#bacac6" opacity="0.79"/>
<ellipse cx="54.6" cy="65.8" rx="3.2" ry="3.1" transform="rotate(107 54.6 65.8)" fill="#d0d1d2" opacity="0.74"/>
<ellipse cx="85.3" cy="78.9" rx="2.7" ry="2.1" transform="rotate(167 85.3 78.9)" fill="#bacac6" opacity="0.45"/>
<ellipse cx="55.4" cy="36.1" rx="2.0" ry="1.7" transform="rotate(40 55.4 36.1)" fill="#bacac6" opacity="0.64"/>
<ellipse cx="7.0" cy="23.6" rx="3.9" ry="3.6" transform="rotate(62 7.0 23.6)" fill="#d0d1d2" opacity="0.48"/>
<ellipse cx="74.3" cy="13.7" rx="3.2" ry="2.5" transform="rotate(137 74.3 13.7)" fill="#d7d8d9" opacity="0.79"/>
<ellipse cx="5.2" cy="39.9" rx="3.7" ry="2.8" transform="rotate(101 5.2 39.9)" fill="#bec4c5" opacity="0.48"/>
<ellipse cx="12.8" cy="93.6" rx="2.0" ry="1.7" transform="rotate(59 12.8 93.6)" fill="#d7d8d9" opacity="0.82"/>
<ellipse cx="-2.6" cy="52.7" rx="1.7" ry="1.2" transform="rotate(58 -2.6 52.7)" fill="#d7d8d9" opacity="0.65"/>
<ellipse cx="37.2" cy="28.7" rx="4.2" ry="3.0" transform="rotate(41 37.2 28.7)" fill="#d7d8d9" opacity="0.67"/>
<ellipse cx="81.3" cy="90.4" rx="2.2" ry="1.8" transform="rotate(63 81.3 90.4)" fill="#bec4c5" opacity="0.79"/>
<ellipse cx="118.7" cy="49.5" rx="3.3" ry="2.5" transform="rotate(106 118.7 49.5)" fill="#cdc7cb" opacity="0.61"/>
<ellipse cx="71.3" cy="-2.9" rx="2.0" ry="1.1" transform="rotate(152 71.3 -2.9)" fill="#cdc7cb" opacity="0.74"/>
<ellipse cx="38.1" cy="22.4" rx="2.5" ry="2.1" transform="rotate(163 38.1 22.4)" fill="#bec4c5" opacity="0.55"/>
<ellipse cx="54.0" cy="40.6" rx="3.7" ry="2.0" transform="rotate(128 54.0 40.6)" fill="#cdc7cb" opacity="0.71"/>
<ellipse cx="13.7" cy="37.7" rx="3.7" ry="2.9" transform="rotate(104 13.7 37.7)" fill="#c5c9cb" opacity="0.47"/>
<ellipse cx="107.7" cy="65.3" rx="3.6" ry="2.9" transform="rotate(57 107.7 65.3)" fill="#d0d1d2" opacity="0.59"/>
<ellipse cx="90.1" cy="28.4" rx="4.4" ry="2.6" transform="rotate(179 90.1 28.4)" fill="#c5c9cb" opacity="0.55"/>
<ellipse cx="67.0" cy="34.8" rx="1.6" ry="0.8" transform="rotate(60 67.0 34.8)" fill="#bec4c5" opacity="0.79"/>
<ellipse cx="74.4" cy="15.2" rx="1.7" ry="1.2" transform="rotate(21 74.4 15.2)" fill="#bec4c5" opacity="0.73"/>
<ellipse cx="92.2" cy="73.9" rx="2.5" ry="2.3" transform="rotate(4 92.2 73.9)" fill="#cdc7cb" opacity="0.50"/>
<ellipse cx="41.3" cy="11.2" rx="2.3" ry="0.9" transform="rotate(124 41.3 11.2)" fill="#d7d8d9" opacity="0.63"/>
<ellipse cx="3.5" cy="43.8" rx="3.3" ry="2.0" transform="rotate(89 3.5 43.8)" fill="#c8cbcb" opacity="0.78"/>
<ellipse cx="0.1" cy="10.9" rx="1.8" ry="1.1" transform="rotate(3 0.1 10.9)" fill="#bec4c5" opacity="0.72"/>
<ellipse cx="33.4" cy="52.2" rx="3.6" ry="2.8" transform="rotate(28 33.4 52.2)" fill="#c5c9cb" opacity="0.67"/>
<ellipse cx="21.8" cy="25.3" rx="1.7" ry="1.6" transform="rotate(27 21.8 25.3)" fill="#c8cbcb" opacity="0.65"/>
<ellipse cx="95.5" cy="61.6" rx="3.2" ry="2.3" transform="rotate(90 95.5 61.6)" fill="#cdc7cb" opacity="0.73"/>
<ellipse cx="91.2" cy="58.3" rx="2.5" ry="2.3" transform="rotate(116 91.2 58.3)" fill="#cdc7cb" opacity="0.73"/>
<ellipse cx="79.5" cy="73.1" rx="2.8" ry="1.8" transform="rotate(138 79.5 73.1)" fill="#bec4c5" opacity="0.70"/>
<ellipse cx="101.5" cy="66.7" rx="4.3" ry="2.8" transform="rotate(94 101.5 66.7)" fill="#c8cbcb" opacity="0.47"/>
<ellipse cx="83.2" cy="39.3" rx="1.8" ry="1.2" transform="rotate(3 83.2 39.3)" fill="#c5c9cb" opacity="0.55"/>
<ellipse cx="37.2" cy="46.1" rx="1.5" ry="1.1" transform="rotate(179 37.2 46.1)" fill="#d7d8d9" opacity="0.66"/>
<ellipse cx="33.2" cy="13.7" rx="2.7" ry="1.1" transform="rotate(31 33.2 13.7)" fill="#d7d8d9" opacity="0.78"/>
<ellipse cx="36.5" cy="86.7" rx="3.7" ry="3.5" transform="rotate(61 36.5 86.7)" fill="#cdc7cb" opacity="0.73"/>
<ellipse cx="108.3" cy="83.8" rx="1.9" ry="1.6" transform="rotate(15 108.3 83.8)" fill="#bacac6" opacity="0.76"/>
<ellipse cx="4.9" cy="90.5" rx="3.5" ry="2.8" transform="rotate(72 4.9 90.5)" fill="#c8cbcb" opacity="0.65"/>
<ellipse cx="53.4" cy="6.3" rx="4.0" ry="3.1" transform="rotate(141 53.4 6.3)" fill="#d0d1d2" opacity="0.85"/>
<ellipse cx="96.0" cy="87.7" rx="3.2" ry="1.9" transform="rotate(33 96.0 87.7)" fill="#d7d8d9" opacity="0.77"/>
<ellipse cx="53.8" cy="65.2" rx="1.6" ry="0.8" transform="rotate(99 53.8 65.2)" fill="#c8cbcb" opacity="0.52"/>
<ellipse cx="37.8" cy="74.1" rx="3.1" ry="1.4" transform="rotate(157 37.8 74.1)" fill="#cdc7cb" opacity="0.81"/>
<ellipse cx="37.6" cy="87.8" rx="2.3" ry="1.7" transform="rotate(89 37.6 87.8)" fill="#bacac6" opacity="0.66"/>
<ellipse cx="55.7" cy="33.8" rx="4.0" ry="2.3" transform="rotate(133 55.7 33.8)" fill="#d7d8d9" opacity="0.59"/>
<ellipse cx="54.0" cy="61.7" rx="2.7" ry="1.8" transform="rotate(87 54.0 61.7)" fill="#d0d1d2" opacity="0.80"/>
<ellipse cx="3.8" cy="35.0" rx="3.5" ry="2.0" transform="rotate(84 3.8 35.0)" fill="#bacac6" opacity="0.52"/>
<ellipse cx="116.0" cy="17.5" rx="3.3" ry="1.3" transform="rotate(19 116.0 17.5)" fill="#bacac6" opacity="0.59"/>
<ellipse cx="43.1" cy="66.4" rx="1.9" ry="1.0" transform="rotate(37 43.1 66.4)" fill="#d7d8d9" opacity="0.68"/>
<ellipse cx="57.1" cy="19.2" rx="2.4" ry="1.3" transform="rotate(82 57.1 19.2)" fill="#c8cbcb" opacity="0.69"/>
<ellipse cx="100.0" cy="87.9" rx="4.2" ry="1.7" transform="rotate(166 100.0 87.9)" fill="#d0d1d2" opacity="0.63"/>
<ellipse cx="9.3" cy="24.9" rx="3.3" ry="3.2" transform="rotate(21 9.3 24.9)" fill="#bec4c5" opacity="0.84"/>
<ellipse cx="85.7" cy="10.3" rx="3.6" ry="3.0" transform="rotate(89 85.7 10.3)" fill="#c8cbcb" opacity="0.49"/>
<ellipse cx="95.5" cy="58.0" rx="1.9" ry="1.1" transform="rotate(110 95.5 58.0)" fill="#cdc7cb" opacity="0.49"/>
<ellipse cx="104.9" cy="75.7" rx="2.6" ry="1.7" transform="rotate(174 104.9 75.7)" fill="#bacac6" opacity="0.66"/>
<ellipse cx="42.4" cy="21.8" rx="3.5" ry="2.9" transform="rotate(112 42.4 21.8)" fill="#c8cbcb" opacity="0.49"/>
<ellipse cx="52.2" cy="69.2" rx="1.7" ry="1.4" transform="rotate(59 52.2 69.2)" fill="#cdc7cb" opacity="0.69"/>
<ellipse cx="0.8" cy="10.5" rx="3.4" ry="3.0" transform="rotate(137 0.8 10.5)" fill="#d7d8d9" opacity="0.65"/>
<ellipse cx="21.9" cy="95.0" rx="2.5" ry="1.2" transform="rotate(91 21.9 95.0)" fill="#bacac6" opacity="0.54"/>
<ellipse cx="-2.4" cy="17.9" rx="3.1" ry="1.8" transform="rotate(111 -2.4 17.9)" fill="#d0d1d2" opacity="0.68"/>
<ellipse cx="103.6" cy="44.6" rx="2.1" ry="1.7" transform="rotate(172 103.6 44.6)" fill="#cdc7cb" opacity="0.77"/>
<ellipse cx="33.6" cy="70.2" rx="4.0" ry="2.8" transform="rotate(20 33.6 70.2)" fill="#cdc7cb" opacity="0.52"/>
<ellipse cx="84.5" cy="14.8" rx="3.8" ry="3.0" transform="rotate(146 84.5 14.8)" fill="#c8cbcb" opacity="0.65"/>
<ellipse cx="98.0" cy="83.4" rx="3.2" ry="2.9" transform="rotate(11 98.0 83.4)" fill="#cdc7cb" opacity="0.69"/>
<ellipse cx="4.4" cy="30.7" rx="4.2" ry="3.0" transform="rotate(107 4.4 30.7)" fill="#d0d1d2" opacity="0.71"/>
<ellipse cx="52.9" cy="20.6" rx="3.2" ry="3.1" transform="rotate(45 52.9 20.6)" fill="#cdc7cb" opacity="0.78"/>
<ellipse cx="111.3" cy="63.5" rx="3.9" ry="3.4" transform="rotate(156 111.3 63.5)" fill="#d0d1d2" opacity="0.52"/>
<ellipse cx="106.0" cy="57.8" rx="1.6" ry="1.0" transform="rotate(112 106.0 57.8)" fill="#c5c9cb" opacity="0.45"/>
<ellipse cx="86.0" cy="38.8" rx="1.5" ry="1.1" transform="rotate(133 86.0 38.8)" fill="#bacac6" opacity="0.56"/>
<ellipse cx="87.5" cy="83.1" rx="3.0" ry="1.4" transform="rotate(15 87.5 83.1)" fill="#c8cbcb" opacity="0.51"/>
<ellipse cx="51.1" cy="71.1" rx="4.3" ry="4.0" transform="rotate(54 51.1 71.1)" fill="#d0d1d2" opacity="0.83"/>
<ellipse cx="95.3" cy="15.9" rx="2.1" ry="1.0" transform="rotate(148 95.3 15.9)" fill="#cdc7cb" opacity="0.69"/>
<ellipse cx="21.5" cy="95.1" rx="4.4" ry="4.2" transform="rotate(63 21.5 95.1)" fill="#c8cbcb" opacity="0.55"/>
<ellipse cx="27.2" cy="61.5" rx="3.8" ry="1.7" transform="rotate(107 27.2 61.5)" fill="#cdc7cb" opacity="0.47"/>
<ellipse cx="60.3" cy="52.8" rx="1.9" ry="0.9" transform="rotate(175 60.3 52.8)" fill="#c5c9cb" opacity="0.47"/>
<ellipse cx="57.8" cy="35.7" rx="2.0" ry="0.9" transform="rotate(11 57.8 35.7)" fill="#d0d1d2" opacity="0.58"/>
<ellipse cx="70.6" cy="52.5" rx="3.6" ry="2.3" transform="rotate(136 70.6 52.5)" fill="#c5c9cb" opacity="0.77"/>
<ellipse cx="30.9" cy="36.9" rx="4.3" ry="1.8" transform="rotate(96 30.9 36.9)" fill="#d7d8d9" opacity="0.85"/>
<ellipse cx="31.0" cy="36.9" rx="3.5" ry="1.7" transform="rotate(9 31.0 36.9)" fill="#d7d8d9" opacity="0.46"/>
<ellipse cx="116.3" cy="37.4" rx="3.7" ry="2.1" transform="rotate(6 116.3 37.4)" fill="#bec4c5" opacity="0.50"/>
<ellipse cx="-2.4" cy="19.8" rx="3.9" ry="2.6" transform="rotate(102 -2.4 19.8)" fill="#d0d1d2" opacity="0.69"/>
<ellipse cx="12.8" cy="82.9" rx="2.1" ry="1.9" transform="rotate(88 12.8 82.9)" fill="#bec4c5" opacity="0.46"/>
<ellipse cx="43.1" cy="0.5" rx="3.5" ry="2.2" transform="rotate(56 43.1 0.5)" fill="#d0d1d2" opacity="0.65"/>
<ellipse cx="31.5" cy="32.5" rx="3.5" ry="1.8" transform="rotate(159 31.5 32.5)" fill="#d0d1d2" opacity="0.69"/>
<ellipse cx="21.1" cy="18.3" rx="2.9" ry="1.9" transform="rotate(117 21.1 18.3)" fill="#d7d8d9" opacity="0.76"/>
<ellipse cx="52.2" cy="18.8" rx="4.5" ry="4.0" transform="rotate(145 52.2 18.8)" fill="#bacac6" opacity="0.57"/>
<ellipse cx="85.1" cy="14.9" rx="3.5" ry="1.6" transform="rotate(130 85.1 14.9)" fill="#cdc7cb" opacity="0.79"/>
<ellipse cx="65.7" cy="67.5" rx="2.5" ry="1.6" transform="rotate(150 65.7 67.5)" fill="#bec4c5" opacity="0.82"/>
<ellipse cx="27.7" cy="41.1" rx="2.4" ry="1.7" transform="rotate(144 27.7 41.1)" fill="#c8cbcb" opacity="0.48"/>
<ellipse cx="24.1" cy="11.9" rx="4.4" ry="2.4" transform="rotate(180 24.1 11.9)" fill="#d7d8d9" opacity="0.84"/>
<ellipse cx="17.9" cy="44.0" rx="2.0" ry="2.0" transform="rotate(137 17.9 44.0)" fill="#c8cbcb" opacity="0.59"/>
<ellipse cx="115.6" cy="92.6" rx="3.2" ry="1.7" transform="rotate(137 115.6 92.6)" fill="#bec4c5" opacity="0.71"/>
<ellipse cx="64.7" cy="17.4" rx="3.9" ry="2.8" transform="rotate(167 64.7 17.4)" fill="#bec4c5" opacity="0.71"/>
<ellipse cx="53.5" cy="45.0" rx="3.9" ry="2.7" transform="rotate(144 53.5 45.0)" fill="#bacac6" opacity="0.58"/>
<ellipse cx="104.3" cy="24.3" rx="2.0" ry="1.0" transform="rotate(5 104.3 24.3)" fill="#d7d8d9" opacity="0.74"/>
<ellipse cx="102.5" cy="53.4" rx="1.6" ry="0.9" transform="rotate(94 102.5 53.4)" fill="#bec4c5" opacity="0.81"/>
<ellipse cx="107.1" cy="56.1" rx="4.2" ry="2.3" transform="rotate(132 107.1 56.1)" fill="#bec4c5" opacity="0.57"/>
<ellipse cx="40.5" cy="73.1" rx="1.6" ry="1.4" transform="rotate(171 40.5 73.1)" fill="#c5c9cb" opacity="0.80"/>
<ellipse cx="73.5" cy="30.3" rx="2.9" ry="1.5" transform="rotate(117 73.5 30.3)" fill="#c8cbcb" opacity="0.80"/>
<ellipse cx="59.0" cy="54.9" rx="4.0" ry="2.7" transform="rotate(102 59.0 54.9)" fill="#bec4c5" opacity="0.51"/>
<ellipse cx="16.5" cy="92.3" rx="2.2" ry="1.0" transform="rotate(52 16.5 92.3)" fill="#c5c9cb" opacity="0.79"/>
<ellipse cx="43.4" cy="27.7" rx="4.0" ry="2.3" transform="rotate(164 43.4 27.7)" fill="#bec4c5" opacity="0.71"/>
<ellipse cx="110.4" cy="42.8" rx="1.6" ry="1.2" transform="rotate(85 110.4 42.8)" fill="#d0d1d2" opacity="0.77"/>
<ellipse cx="111.2" cy="47.0" rx="1.6" ry="1.1" transform="rotate(116 111.2 47.0)" fill="#d0d1d2" opacity="0.64"/>
<ellipse cx="101.2" cy="80.0" rx="3.1" ry="2.6" transform="rotate(96 101.2 80.0)" fill="#d7d8d9" opacity="0.69"/>
<ellipse cx="33.6" cy="12.0" rx="3.2" ry="2.3" transform="rotate(73 33.6 12.0)" fill="#bec4c5" opacity="0.48"/>
<ellipse cx="49.0" cy="91.7" rx="2.6" ry="1.2" transform="rotate(86 49.0 91.7)" fill="#bacac6" opacity="0.69"/>
<ellipse cx="34.2" cy="14.4" rx="1.6" ry="1.3" transform="rotate(160 34.2 14.4)" fill="#d0d1d2" opacity="0.82"/>
<ellipse cx="79.7" cy="9.9" rx="3.2" ry="2.9" transform="rotate(1 79.7 9.9)" fill="#c8cbcb" opacity="0.81"/>
<ellipse cx="93.8" cy="26.5" rx="3.2" ry="2.7" transform="rotate(3 93.8 26.5)" fill="#c8cbcb" opacity="0.75"/>
<ellipse cx="122.3" cy="44.4" rx="2.4" ry="2.3" transform="rotate(148 122.3 44.4)" fill="#cdc7cb" opacity="0.70"/>
<ellipse cx="43.9" cy="49.4" rx="3.8" ry="3.7" transform="rotate(10 43.9 49.4)" fill="#bec4c5" opacity="0.54"/>
<ellipse cx="26.6" cy="55.2" rx="2.0" ry="1.1" transform="rotate(101 26.6 55.2)" fill="#d7d8d9" opacity="0.65"/>
<ellipse cx="42.5" cy="22.8" rx="3.0" ry="2.1" transform="rotate(78 42.5 22.8)" fill="#d7d8d9" opacity="0.65"/>
<ellipse cx="22.0" cy="7.5" rx="4.3" ry="2.1" transform="rotate(19 22.0 7.5)" fill="#bec4c5" opacity="0.47"/>
<ellipse cx="98.6" cy="15.6" rx="1.7" ry="0.7" transform="rotate(112 98.6 15.6)" fill="#bacac6" opacity="0.53"/>
<ellipse cx="23.4" cy="84.1" rx="3.8" ry="3.0" transform="rotate(119 23.4 84.1)" fill="#d0d1d2" opacity="0.67"/>
<ellipse cx="90.7" cy="26.5" rx="2.0" ry="0.9" transform="rotate(82 90.7 26.5)" fill="#d7d8d9" opacity="0.46"/>
<ellipse cx="63.6" cy="16.5" rx="2.4" ry="2.0" transform="rotate(122 63.6 16.5)" fill="#c8cbcb" opacity="0.62"/>
<ellipse cx="26.5" cy="82.0" rx="3.5" ry="1.9" transform="rotate(166 26.5 82.0)" fill="#c8cbcb" opacity="0.53"/>
<ellipse cx="90.2" cy="40.2" rx="4.0" ry="3.5" transform="rotate(93 90.2 40.2)" fill="#c5c9cb" opacity="0.53"/>
<ellipse cx="7.8" cy="47.2" rx="2.9" ry="2.6" transform="rotate(25 7.8 47.2)" fill="#d0d1d2" opacity="0.80"/>
<ellipse cx="91.5" cy="76.2" rx="4.4" ry="4.3" transform="rotate(116 91.5 76.2)" fill="#c5c9cb" opacity="0.47"/>
<ellipse cx="7.1" cy="54.0" rx="2.4" ry="2.2" transform="rotate(52 7.1 54.0)" fill="#d7d8d9" opacity="0.61"/>
<ellipse cx="57.6" cy="82.0" rx="1.8" ry="0.9" transform="rotate(61 57.6 82.0)" fill="#c5c9cb" opacity="0.74"/>
<ellipse cx="1.5" cy="82.2" rx="2.9" ry="2.8" transform="rotate(49 1.5 82.2)" fill="#c8cbcb" opacity="0.54"/>
<ellipse cx="74.8" cy="71.4" rx="3.9" ry="2.4" transform="rotate(93 74.8 71.4)" fill="#bacac6" opacity="0.85"/>
<ellipse cx="12.8" cy="40.9" rx="3.5" ry="3.3" transform="rotate(49 12.8 40.9)" fill="#d0d1d2" opacity="0.71"/>
<ellipse cx="81.6" cy="72.0" rx="2.7" ry="1.9" transform="rotate(158 81.6 72.0)" fill="#d0d1d2" opacity="0.64"/>
<ellipse cx="86.8" cy="18.9" rx="2.2" ry="1.1" transform="rotate(61 86.8 18.9)" fill="#c5c9cb" opacity="0.72"/>
<ellipse cx="74.0" cy="59.9" rx="2.0" ry="1.2" transform="rotate(29 74.0 59.9)" fill="#c8cbcb" opacity="0.78"/>
<ellipse cx="30.7" cy="63.6" rx="3.7" ry="2.2" transform="rotate(57 30.7 63.6)" fill="#d7d8d9" opacity="0.70"/>
<ellipse cx="50.5" cy="1.0" rx="1.8" ry="0.7" transform="rotate(44 50.5 1.0)" fill="#c8cbcb" opacity="0.65"/>
<ellipse cx="113.1" cy="83.1" rx="3.9" ry="1.6" transform="rotate(175 113.1 83.1)" fill="#d0d1d2" opacity="0.65"/>
<ellipse cx="119.6" cy="79.0" rx="3.3" ry="2.4" transform="rotate(62 119.6 79.0)" fill="#bacac6" opacity="0.59"/>
<ellipse cx="7.1" cy="70.6" rx="3.7" ry="1.9" transform="rotate(29 7.1 70.6)" fill="#bec4c5" opacity="0.48"/>
<ellipse cx="104.3" cy="37.1" rx="4.4" ry="3.2" transform="rotate(43 104.3 37.1)" fill="#cdc7cb" opacity="0.45"/>
<ellipse cx="24.6" cy="27.9" rx="2.4" ry="1.9" transform="rotate(119 24.6 27.9)" fill="#bec4c5" opacity="0.52"/>
<circle cx="52.1" cy="86.1" r="1.3" fill="#7a8480" opacity="0.45"/>
<circle cx="18.9" cy="21.7" r="1.3" fill="#7a8480" opacity="0.45"/>
<circle cx="73.0" cy="5.1" r="1.1" fill="#7a8480" opacity="0.45"/>
<circle cx="106.4" cy="36.6" r="1.1" fill="#7a8480" opacity="0.45"/>
<circle cx="99.2" cy="86.4" r="1.3" fill="#7a8480" opacity="0.45"/>
<circle cx="59.2" cy="10.8" r="0.9" fill="#7a8480" opacity="0.45"/>
<circle cx="94.5" cy="0.4" r="1.3" fill="#7a8480" opacity="0.45"/>
<circle cx="52.3" cy="48.7" r="1.1" fill="#7a8480" opacity="0.45"/>
<circle cx="67.4" cy="68.1" r="0.9" fill="#7a8480" opacity="0.45"/>
<circle cx="41.4" cy="53.9" r="1.2" fill="#7a8480" opacity="0.45"/>
<circle cx="6.2" cy="15.8" r="1.4" fill="#7a8480" opacity="0.45"/>
<circle cx="7.4" cy="45.8" r="1.4" fill="#7a8480" opacity="0.45"/>
<circle cx="99.8" cy="31.3" r="1.0" fill="#7a8480" opacity="0.45"/>
<circle cx="32.1" cy="17.8" r="1.4" fill="#7a8480" opacity="0.45"/>
<circle cx="105.4" cy="38.0" r="0.9" fill="#7a8480" opacity="0.45"/>
<circle cx="105.7" cy="50.0" r="1.4" fill="#7a8480" opacity="0.45"/>
<circle cx="9.8" cy="31.8" r="0.9" fill="#7a8480" opacity="0.45"/>
<circle cx="107.8" cy="24.0" r="0.9" fill="#7a8480" opacity="0.45"/>
<circle cx="93.6" cy="82.1" r="0.9" fill="#7a8480" opacity="0.45"/>
<circle cx="32.2" cy="21.6" r="1.1" fill="#7a8480" opacity="0.45"/>
<circle cx="84.5" cy="40.1" r="1.1" fill="#7a8480" opacity="0.45"/>
<circle cx="26.6" cy="50.4" r="0.8" fill="#7a8480" opacity="0.45"/>
<circle cx="65.8" cy="40.4" r="1.1" fill="#7a8480" opacity="0.45"/>
<circle cx="98.5" cy="31.1" r="1.1" fill="#7a8480" opacity="0.45"/>
<circle cx="76.2" cy="4.5" r="1.2" fill="#7a8480" opacity="0.45"/>
<circle cx="48.8" cy="88.1" r="0.8" fill="#7a8480" opacity="0.45"/>
<circle cx="62.0" cy="72.7" r="0.8" fill="#7a8480" opacity="0.45"/>
<circle cx="40.2" cy="21.2" r="1.2" fill="#7a8480" opacity="0.45"/>
<circle cx="93.2" cy="89.7" r="1.2" fill="#7a8480" opacity="0.45"/>
<circle cx="34.1" cy="10.7" r="1.1" fill="#7a8480" opacity="0.45"/>
<circle cx="1.0" cy="48.7" r="1.3" fill="#7a8480" opacity="0.45"/>
<circle cx="85.0" cy="4.2" r="0.9" fill="#7a8480" opacity="0.45"/>
<circle cx="106.8" cy="21.2" r="1.4" fill="#7a8480" opacity="0.45"/>
<circle cx="60.7" cy="65.8" r="1.1" fill="#7a8480" opacity="0.45"/>
<circle cx="26.7" cy="58.7" r="1.2" fill="#7a8480" opacity="0.45"/>
<circle cx="29.9" cy="74.9" r="1.0" fill="#7a8480" opacity="0.45"/>
<circle cx="94.8" cy="79.0" r="0.9" fill="#7a8480" opacity="0.45"/>
<circle cx="110.1" cy="55.6" r="1.2" fill="#7a8480" opacity="0.45"/>
<circle cx="54.2" cy="13.1" r="0.9" fill="#7a8480" opacity="0.45"/>
<circle cx="82.4" cy="42.7" r="1.0" fill="#7a8480" opacity="0.45"/>
</g>
<g filter="url(#bs23)">
<path d="M96.3,42.8 Q97.5,43.7 97.6,49.0" stroke="#7c4446" stroke-width="1.5" fill="none" stroke-linecap="round" opacity="0.72"/>
<path d="M111.8,90.2 Q109.1,90.4 110.2,90.7" stroke="#946a68" stroke-width="1.1" fill="none" stroke-linecap="round" opacity="0.50"/>
<path d="M115.2,8.5 Q115.4,11.3 112.2,13.7" stroke="#7c4446" stroke-width="1.0" fill="none" stroke-linecap="round" opacity="0.64"/>
<path d="M69.1,61.9 Q71.6,63.3 69.4,64.7" stroke="#a87c7a" stroke-width="1.5" fill="none" stroke-linecap="round" opacity="0.40"/>
<path d="M70.8,11.7 Q72.1,14.7 74.7,13.6" stroke="#8c5050" stroke-width="1.2" fill="none" stroke-linecap="round" opacity="0.66"/>
<path d="M101.4,72.4 Q103.8,74.3 107.7,72.7" stroke="#7c4446" stroke-width="1.3" fill="none" stroke-linecap="round" opacity="0.53"/>
<path d="M20.7,10.9 Q17.6,13.0 18.6,15.9" stroke="#7c4446" stroke-width="0.9" fill="none" stroke-linecap="round" opacity="0.66"/>
<path d="M30.1,63.1 Q32.2,61.9 33.8,64.1" stroke="#b06a68" stroke-width="1.0" fill="none" stroke-linecap="round" opacity="0.62"/>
<path d="M110.6,48.3 Q110.7,48.9 107.1,50.5" stroke="#946a68" stroke-width="1.5" fill="none" stroke-linecap="round" opacity="0.41"/>
<path d="M62.7,37.9 Q62.2,40.2 64.1,39.4" stroke="#8c5050" stroke-width="1.1" fill="none" stroke-linecap="round" opacity="0.51"/>
<path d="M75.2,85.7 Q73.3,89.6 72.7,90.2" stroke="#b06a68" stroke-width="1.0" fill="none" stroke-linecap="round" opacity="0.60"/>
<path d="M45.9,-0.9 Q46.5,0.4 48.0,1.2" stroke="#7c4446" stroke-width="1.1" fill="none" stroke-linecap="round" opacity="0.43"/>
<path d="M98.0,31.7 Q100.2,33.8 100.3,35.5" stroke="#a87c7a" stroke-width="1.2" fill="none" stroke-linecap="round" opacity="0.75"/>
<path d="M116.9,26.9 Q117.0,29.7 117.3,29.7" stroke="#b06a68" stroke-width="1.0" fill="none" stroke-linecap="round" opacity="0.75"/>
<path d="M94.4,14.8 Q95.0,15.9 92.9,19.8" stroke="#b06a68" stroke-width="1.1" fill="none" stroke-linecap="round" opacity="0.49"/>
<path d="M101.9,13.9 Q100.4,17.0 101.9,16.3" stroke="#946a68" stroke-width="1.3" fill="none" stroke-linecap="round" opacity="0.53"/>
<path d="M23.0,7.3 Q22.2,6.9 25.8,8.5" stroke="#8c5050" stroke-width="1.6" fill="none" stroke-linecap="round" opacity="0.45"/>
<path d="M64.0,9.8 Q63.5,14.2 65.6,14.1" stroke="#b06a68" stroke-width="1.5" fill="none" stroke-linecap="round" opacity="0.70"/>
<path d="M9.1,68.2 Q6.8,69.5 3.1,71.2" stroke="#7c4446" stroke-width="1.5" fill="none" stroke-linecap="round" opacity="0.57"/>
<path d="M108.0,1.0 Q108.8,6.3 107.0,7.5" stroke="#7c4446" stroke-width="1.4" fill="none" stroke-linecap="round" opacity="0.57"/>
<path d="M43.0,91.2 Q46.4,93.5 45.0,93.1" stroke="#b06a68" stroke-width="1.0" fill="none" stroke-linecap="round" opacity="0.66"/>
<path d="M63.1,84.5 Q62.6,83.6 63.5,86.5" stroke="#a87c7a" stroke-width="1.2" fill="none" stroke-linecap="round" opacity="0.65"/>
<path d="M35.8,2.8 Q38.7,4.5 42.4,4.2" stroke="#7c4446" stroke-width="1.3" fill="none" stroke-linecap="round" opacity="0.48"/>
<path d="M28.2,67.9 Q31.5,66.3 34.3,68.6" stroke="#946a68" stroke-width="1.0" fill="none" stroke-linecap="round" opacity="0.51"/>
<path d="M5.2,78.7 Q4.4,82.4 8.3,83.5" stroke="#a05a58" stroke-width="1.3" fill="none" stroke-linecap="round" opacity="0.43"/>
<path d="M90.5,52.3 Q90.3,53.9 92.7,54.0" stroke="#946a68" stroke-width="1.2" fill="none" stroke-linecap="round" opacity="0.52"/>
<path d="M8.7,46.5 Q8.0,47.9 7.2,47.6" stroke="#7c4446" stroke-width="1.1" fill="none" stroke-linecap="round" opacity="0.60"/>
<path d="M60.2,21.9 Q57.2,22.8 58.5,26.7" stroke="#8c5050" stroke-width="1.1" fill="none" stroke-linecap="round" opacity="0.49"/>
<path d="M27.7,37.4 Q24.4,38.2 23.8,39.3" stroke="#8c5050" stroke-width="1.4" fill="none" stroke-linecap="round" opacity="0.44"/>
<path d="M32.2,71.8 Q32.2,71.5 35.2,75.1" stroke="#8c5050" stroke-width="1.5" fill="none" stroke-linecap="round" opacity="0.71"/>
<path d="M9.7,16.6 Q10.4,17.1 13.5,21.1" stroke="#946a68" stroke-width="1.0" fill="none" stroke-linecap="round" opacity="0.68"/>
<path d="M112.4,37.1 Q112.3,39.3 113.3,38.9" stroke="#8c5050" stroke-width="1.6" fill="none" stroke-linecap="round" opacity="0.54"/>
<path d="M77.1,80.3 Q76.7,79.7 72.6,83.7" stroke="#8c5050" stroke-width="1.1" fill="none" stroke-linecap="round" opacity="0.74"/>
<path d="M75.6,59.6 Q71.0,59.0 70.7,61.0" stroke="#a05a58" stroke-width="0.9" fill="none" stroke-linecap="round" opacity="0.41"/>
<path d="M14.7,60.5 Q16.3,62.5 20.1,62.2" stroke="#a05a58" stroke-width="1.5" fill="none" stroke-linecap="round" opacity="0.70"/>
<path d="M81.3,62.9 Q80.2,62.9 79.5,63.9" stroke="#a87c7a" stroke-width="1.6" fill="none" stroke-linecap="round" opacity="0.72"/>
<path d="M88.6,18.4 Q88.0,17.5 92.1,21.3" stroke="#7c4446" stroke-width="1.1" fill="none" stroke-linecap="round" opacity="0.58"/>
<path d="M114.8,15.3 Q114.4,18.4 111.9,18.8" stroke="#b87070" stroke-width="1.2" fill="none" stroke-linecap="round" opacity="0.45"/>
<path d="M107.3,76.3 Q104.2,76.5 104.7,81.3" stroke="#8c5050" stroke-width="1.0" fill="none" stroke-linecap="round" opacity="0.46"/>
<path d="M104.2,79.5 Q103.8,79.7 100.8,80.1" stroke="#a87c7a" stroke-width="1.5" fill="none" stroke-linecap="round" opacity="0.59"/>
<path d="M54.9,44.3 Q52.6,45.5 50.0,46.8" stroke="#a05a58" stroke-width="1.5" fill="none" stroke-linecap="round" opacity="0.62"/>
<path d="M107.0,40.1 Q105.6,41.5 107.3,46.8" stroke="#b87070" stroke-width="1.5" fill="none" stroke-linecap="round" opacity="0.63"/>
<path d="M61.3,13.7 Q57.2,15.6 57.3,18.1" stroke="#b06a68" stroke-width="1.4" fill="none" stroke-linecap="round" opacity="0.43"/>
<path d="M25.2,35.4 Q23.2,36.9 22.8,38.0" stroke="#8c5050" stroke-width="1.4" fill="none" stroke-linecap="round" opacity="0.59"/>
<path d="M62.8,85.0 Q64.9,87.0 66.6,85.4" stroke="#8c5050" stroke-width="1.4" fill="none" stroke-linecap="round" opacity="0.61"/>
<path d="M91.8,4.8 Q94.0,5.3 94.4,5.1" stroke="#a87c7a" stroke-width="1.3" fill="none" stroke-linecap="round" opacity="0.52"/>
<path d="M30.0,38.0 Q31.7,38.5 34.6,41.4" stroke="#a87c7a" stroke-width="1.5" fill="none" stroke-linecap="round" opacity="0.63"/>
<path d="M72.0,37.8 Q73.5,37.9 77.5,40.0" stroke="#8c5050" stroke-width="1.3" fill="none" stroke-linecap="round" opacity="0.47"/>
<path d="M74.6,71.6 Q73.4,70.6 73.0,72.3" stroke="#a05a58" stroke-width="1.3" fill="none" stroke-linecap="round" opacity="0.73"/>
<path d="M77.5,33.5 Q79.0,32.9 76.0,37.1" stroke="#a05a58" stroke-width="1.1" fill="none" stroke-linecap="round" opacity="0.70"/>
<path d="M28.4,59.6 Q29.9,59.5 31.9,61.0" stroke="#7c4446" stroke-width="1.1" fill="none" stroke-linecap="round" opacity="0.46"/>
<path d="M88.3,32.6 Q86.0,36.8 85.8,38.3" stroke="#946a68" stroke-width="1.3" fill="none" stroke-linecap="round" opacity="0.41"/>
<path d="M19.9,9.9 Q18.1,10.3 16.9,12.0" stroke="#a05a58" stroke-width="1.5" fill="none" stroke-linecap="round" opacity="0.69"/>
<path d="M109.9,21.1 Q109.1,24.3 112.9,27.3" stroke="#946a68" stroke-width="1.1" fill="none" stroke-linecap="round" opacity="0.69"/>
<path d="M11.1,62.2 Q9.0,63.1 11.3,68.7" stroke="#a87c7a" stroke-width="1.3" fill="none" stroke-linecap="round" opacity="0.40"/>
<path d="M75.4,74.2 Q76.3,75.0 74.2,78.7" stroke="#7c4446" stroke-width="1.3" fill="none" stroke-linecap="round" opacity="0.51"/>
<path d="M74.4,27.6 Q75.5,27.0 72.6,27.8" stroke="#b87070" stroke-width="1.0" fill="none" stroke-linecap="round" opacity="0.46"/>
<path d="M53.0,21.2 Q52.4,20.4 52.4,23.6" stroke="#a87c7a" stroke-width="1.4" fill="none" stroke-linecap="round" opacity="0.73"/>
<path d="M4.6,6.8 Q2.8,4.9 -0.9,7.5" stroke="#b87070" stroke-width="1.6" fill="none" stroke-linecap="round" opacity="0.66"/>
<path d="M69.3,30.6 Q68.1,31.0 64.3,33.2" stroke="#b87070" stroke-width="1.1" fill="none" stroke-linecap="round" opacity="0.71"/>
<path d="M79.8,60.3 Q75.0,62.5 73.3,60.6" stroke="#a05a58" stroke-width="1.6" fill="none" stroke-linecap="round" opacity="0.46"/>
<path d="M52.7,4.4 Q52.0,7.5 51.5,9.8" stroke="#7c4446" stroke-width="1.4" fill="none" stroke-linecap="round" opacity="0.65"/>
<path d="M58.2,21.7 Q56.9,25.4 56.0,25.6" stroke="#7c4446" stroke-width="1.1" fill="none" stroke-linecap="round" opacity="0.65"/>
<path d="M13.0,81.3 Q13.2,82.1 17.0,81.4" stroke="#946a68" stroke-width="1.0" fill="none" stroke-linecap="round" opacity="0.40"/>
<path d="M87.9,60.0 Q85.9,59.9 87.3,64.1" stroke="#a87c7a" stroke-width="1.3" fill="none" stroke-linecap="round" opacity="0.66"/>
<path d="M104.0,41.9 Q104.2,45.6 104.3,45.8" stroke="#b06a68" stroke-width="1.4" fill="none" stroke-linecap="round" opacity="0.62"/>
<path d="M23.6,12.9 Q21.3,13.5 23.8,15.0" stroke="#a05a58" stroke-width="1.0" fill="none" stroke-linecap="round" opacity="0.58"/>
<path d="M118.1,9.6 Q116.1,11.5 118.2,12.3" stroke="#a87c7a" stroke-width="1.4" fill="none" stroke-linecap="round" opacity="0.62"/>
<path d="M18.4,28.3 Q15.3,30.9 13.4,29.5" stroke="#8c5050" stroke-width="1.0" fill="none" stroke-linecap="round" opacity="0.58"/>
<path d="M104.1,61.9 Q105.9,64.9 110.1,64.1" stroke="#7c4446" stroke-width="1.5" fill="none" stroke-linecap="round" opacity="0.68"/>
<path d="M91.7,21.6 Q90.0,23.8 87.0,23.2" stroke="#a05a58" stroke-width="1.2" fill="none" stroke-linecap="round" opacity="0.49"/>
<path d="M63.7,22.6 Q62.8,24.5 61.7,23.6" stroke="#a87c7a" stroke-width="1.4" fill="none" stroke-linecap="round" opacity="0.73"/>
<path d="M17.8,15.8 Q16.3,19.5 17.0,20.9" stroke="#7c4446" stroke-width="1.5" fill="none" stroke-linecap="round" opacity="0.69"/>
<path d="M58.9,43.0 Q60.9,42.7 64.3,46.8" stroke="#b06a68" stroke-width="1.1" fill="none" stroke-linecap="round" opacity="0.47"/>
<path d="M22.3,77.5 Q20.0,79.8 19.6,77.7" stroke="#7c4446" stroke-width="1.4" fill="none" stroke-linecap="round" opacity="0.46"/>
<path d="M0.7,7.0 Q5.2,11.5 5.0,11.6" stroke="#a87c7a" stroke-width="1.3" fill="none" stroke-linecap="round" opacity="0.56"/>
<path d="M60.9,90.5 Q60.8,93.8 64.0,94.3" stroke="#b06a68" stroke-width="1.4" fill="none" stroke-linecap="round" opacity="0.42"/>
<path d="M61.3,7.6 Q60.2,7.1 58.9,11.0" stroke="#a05a58" stroke-width="1.2" fill="none" stroke-linecap="round" opacity="0.44"/>
<path d="M39.6,58.0 Q36.9,58.9 38.1,63.5" stroke="#b06a68" stroke-width="1.2" fill="none" stroke-linecap="round" opacity="0.67"/>
<path d="M83.3,73.7 Q81.9,75.2 85.3,79.3" stroke="#946a68" stroke-width="1.2" fill="none" stroke-linecap="round" opacity="0.64"/>
<path d="M91.2,13.6 Q89.4,16.7 88.0,16.0" stroke="#a05a58" stroke-width="1.5" fill="none" stroke-linecap="round" opacity="0.52"/>
<path d="M86.3,90.2 Q82.4,90.3 80.8,92.2" stroke="#b87070" stroke-width="1.3" fill="none" stroke-linecap="round" opacity="0.69"/>
<path d="M108.6,89.7 Q111.8,91.5 112.1,90.5" stroke="#a87c7a" stroke-width="1.4" fill="none" stroke-linecap="round" opacity="0.45"/>
<path d="M60.6,16.3 Q66.2,18.5 67.2,17.6" stroke="#7c4446" stroke-width="1.0" fill="none" stroke-linecap="round" opacity="0.71"/>
<path d="M2.4,43.3 Q2.8,42.4 7.1,44.4" stroke="#a87c7a" stroke-width="1.3" fill="none" stroke-linecap="round" opacity="0.48"/>
<path d="M11.7,41.4 Q13.5,44.1 11.8,43.0" stroke="#b06a68" stroke-width="1.1" fill="none" stroke-linecap="round" opacity="0.44"/>
<path d="M47.3,38.5 Q46.5,40.9 46.9,44.1" stroke="#b87070" stroke-width="1.1" fill="none" stroke-linecap="round" opacity="0.67"/>
<path d="M19.6,4.0 Q16.0,7.7 16.7,8.6" stroke="#a05a58" stroke-width="1.1" fill="none" stroke-linecap="round" opacity="0.55"/>
<path d="M79.8,5.1 Q80.7,7.4 81.4,8.0" stroke="#a87c7a" stroke-width="1.5" fill="none" stroke-linecap="round" opacity="0.59"/>
<path d="M11.6,36.6 Q9.8,37.4 11.9,38.5" stroke="#946a68" stroke-width="1.0" fill="none" stroke-linecap="round" opacity="0.58"/>
<path d="M106.8,61.3 Q105.0,59.7 104.5,61.6" stroke="#7c4446" stroke-width="1.0" fill="none" stroke-linecap="round" opacity="0.55"/>
<path d="M87.1,36.1 Q83.5,36.8 81.9,38.1" stroke="#b87070" stroke-width="1.3" fill="none" stroke-linecap="round" opacity="0.45"/>
<path d="M46.8,15.3 Q47.3,19.3 50.1,18.6" stroke="#a87c7a" stroke-width="1.4" fill="none" stroke-linecap="round" opacity="0.52"/>
<path d="M25.2,82.2 Q23.3,81.8 26.4,83.2" stroke="#946a68" stroke-width="1.3" fill="none" stroke-linecap="round" opacity="0.70"/>
<path d="M110.8,83.1 Q111.6,84.3 109.8,84.5" stroke="#b87070" stroke-width="1.6" fill="none" stroke-linecap="round" opacity="0.59"/>
<path d="M41.2,22.8 Q41.4,24.6 43.1,26.3" stroke="#a87c7a" stroke-width="1.0" fill="none" stroke-linecap="round" opacity="0.70"/>
<path d="M95.3,10.3 Q97.3,12.9 96.5,14.1" stroke="#8c5050" stroke-width="1.2" fill="none" stroke-linecap="round" opacity="0.61"/>
<path d="M38.8,35.5 Q40.0,33.9 41.1,35.8" stroke="#a05a58" stroke-width="1.0" fill="none" stroke-linecap="round" opacity="0.75"/>
<path d="M96.2,40.6 Q95.7,41.4 96.8,44.7" stroke="#b06a68" stroke-width="1.1" fill="none" stroke-linecap="round" opacity="0.66"/>
<path d="M41.6,83.8 Q40.5,86.1 43.7,88.7" stroke="#8c5050" stroke-width="1.0" fill="none" stroke-linecap="round" opacity="0.69"/>
<path d="M10.0,25.5 Q6.5,29.1 3.8,28.3" stroke="#946a68" stroke-width="1.3" fill="none" stroke-linecap="round" opacity="0.62"/>
<path d="M83.9,50.3 Q83.5,51.7 82.2,52.4" stroke="#8c5050" stroke-width="1.0" fill="none" stroke-linecap="round" opacity="0.41"/>
<path d="M59.6,68.2 Q57.8,70.4 54.9,69.6" stroke="#b87070" stroke-width="1.0" fill="none" stroke-linecap="round" opacity="0.66"/>
<path d="M53.5,51.3 Q55.7,54.1 58.8,53.0" stroke="#a05a58" stroke-width="1.0" fill="none" stroke-linecap="round" opacity="0.55"/>
<path d="M19.9,63.2 Q23.1,67.1 25.4,67.4" stroke="#b06a68" stroke-width="1.2" fill="none" stroke-linecap="round" opacity="0.54"/>
<path d="M10.7,68.9 Q8.1,71.5 8.3,71.3" stroke="#946a68" stroke-width="1.0" fill="none" stroke-linecap="round" opacity="0.48"/>
<path d="M108.7,78.5 Q111.7,79.1 114.4,80.9" stroke="#b06a68" stroke-width="1.0" fill="none" stroke-linecap="round" opacity="0.47"/>
<path d="M15.5,67.1 Q13.5,66.8 12.8,67.2" stroke="#b06a68" stroke-width="1.0" fill="none" stroke-linecap="round" opacity="0.67"/>
<path d="M88.6,62.6 Q92.0,64.8 94.6,63.8" stroke="#b87070" stroke-width="1.2" fill="none" stroke-linecap="round" opacity="0.46"/>
<path d="M87.4,7.7 Q85.6,9.3 82.4,9.9" stroke="#b87070" stroke-width="1.6" fill="none" stroke-linecap="round" opacity="0.63"/>
<path d="M17.0,14.1 Q15.1,13.5 15.4,15.7" stroke="#b87070" stroke-width="1.3" fill="none" stroke-linecap="round" opacity="0.73"/>
<path d="M26.2,74.1 Q26.1,75.8 24.9,74.9" stroke="#8c5050" stroke-width="1.0" fill="none" stroke-linecap="round" opacity="0.63"/>
<path d="M61.1,87.1 Q63.1,88.5 61.3,93.3" stroke="#8c5050" stroke-width="1.4" fill="none" stroke-linecap="round" opacity="0.68"/>
<path d="M38.1,82.9 Q38.1,83.8 40.9,87.9" stroke="#946a68" stroke-width="1.4" fill="none" stroke-linecap="round" opacity="0.74"/>
<path d="M42.7,53.4 Q45.0,57.0 46.4,57.3" stroke="#8c5050" stroke-width="1.1" fill="none" stroke-linecap="round" opacity="0.52"/>
<path d="M54.0,59.0 Q53.8,59.1 52.0,60.2" stroke="#8c5050" stroke-width="1.1" fill="none" stroke-linecap="round" opacity="0.44"/>
<path d="M67.8,-1.6 Q63.7,1.9 63.7,2.3" stroke="#a05a58" stroke-width="1.0" fill="none" stroke-linecap="round" opacity="0.74"/>
<path d="M29.7,52.4 Q30.9,55.8 30.2,56.4" stroke="#8c5050" stroke-width="1.5" fill="none" stroke-linecap="round" opacity="0.49"/>
<path d="M107.2,11.2 Q110.2,15.5 111.4,16.1" stroke="#946a68" stroke-width="1.1" fill="none" stroke-linecap="round" opacity="0.73"/>
<path d="M-0.0,14.5 Q0.6,17.8 5.7,17.2" stroke="#b06a68" stroke-width="1.2" fill="none" stroke-linecap="round" opacity="0.54"/>
<path d="M56.2,47.6 Q57.1,50.2 57.6,49.4" stroke="#a05a58" stroke-width="0.9" fill="none" stroke-linecap="round" opacity="0.49"/>
<path d="M109.9,15.3 Q109.6,15.6 109.1,20.0" stroke="#946a68" stroke-width="1.1" fill="none" stroke-linecap="round" opacity="0.51"/>
<path d="M99.2,20.3 Q96.2,20.5 96.7,22.9" stroke="#8c5050" stroke-width="1.2" fill="none" stroke-linecap="round" opacity="0.61"/>
<path d="M91.8,75.7 Q93.0,77.7 91.3,78.1" stroke="#946a68" stroke-width="1.6" fill="none" stroke-linecap="round" opacity="0.40"/>
<path d="M71.7,14.4 Q71.6,13.9 69.3,14.7" stroke="#946a68" stroke-width="1.1" fill="none" stroke-linecap="round" opacity="0.46"/>
<path d="M93.5,45.8 Q97.0,46.6 100.1,48.0" stroke="#b06a68" stroke-width="1.2" fill="none" stroke-linecap="round" opacity="0.52"/>
<path d="M101.7,47.6 Q100.3,48.1 97.7,48.1" stroke="#b06a68" stroke-width="1.6" fill="none" stroke-linecap="round" opacity="0.50"/>
<path d="M32.1,19.5 Q34.9,20.2 34.4,25.5" stroke="#8c5050" stroke-width="1.4" fill="none" stroke-linecap="round" opacity="0.41"/>
<path d="M38.5,83.8 Q41.8,84.5 43.2,88.5" stroke="#8c5050" stroke-width="1.0" fill="none" stroke-linecap="round" opacity="0.71"/>
<path d="M51.7,81.9 Q53.7,80.5 56.7,82.4" stroke="#8c5050" stroke-width="1.0" fill="none" stroke-linecap="round" opacity="0.43"/>
<path d="M61.7,81.3 Q64.9,81.9 68.1,83.3" stroke="#a05a58" stroke-width="1.5" fill="none" stroke-linecap="round" opacity="0.68"/>
<path d="M64.2,85.4 Q63.1,85.2 63.6,87.2" stroke="#946a68" stroke-width="1.5" fill="none" stroke-linecap="round" opacity="0.67"/>
<path d="M4.2,35.5 Q7.3,38.1 7.1,37.6" stroke="#7c4446" stroke-width="1.4" fill="none" stroke-linecap="round" opacity="0.72"/>
<path d="M5.4,38.7 Q7.6,41.8 5.6,43.6" stroke="#7c4446" stroke-width="1.2" fill="none" stroke-linecap="round" opacity="0.48"/>
<path d="M75.1,42.4 Q72.4,43.9 73.5,44.6" stroke="#8c5050" stroke-width="1.1" fill="none" stroke-linecap="round" opacity="0.52"/>
<path d="M93.0,50.6 Q95.2,54.1 95.3,56.2" stroke="#946a68" stroke-width="1.5" fill="none" stroke-linecap="round" opacity="0.60"/>
<path d="M20.8,24.8 Q19.8,24.9 17.4,29.0" stroke="#b87070" stroke-width="1.1" fill="none" stroke-linecap="round" opacity="0.57"/>
<path d="M59.9,1.1 Q59.8,2.3 55.1,3.6" stroke="#a87c7a" stroke-width="1.3" fill="none" stroke-linecap="round" opacity="0.64"/>
<path d="M46.3,2.2 Q48.1,2.4 51.6,3.6" stroke="#b87070" stroke-width="1.3" fill="none" stroke-linecap="round" opacity="0.58"/>
<path d="M38.2,33.8 Q38.0,36.2 36.4,37.2" stroke="#b06a68" stroke-width="1.0" fill="none" stroke-linecap="round" opacity="0.52"/>
<path d="M36.4,73.2 Q35.7,77.7 35.8,79.8" stroke="#946a68" stroke-width="1.1" fill="none" stroke-linecap="round" opacity="0.53"/>
<path d="M107.7,60.1 Q105.6,63.4 104.9,62.1" stroke="#a87c7a" stroke-width="1.5" fill="none" stroke-linecap="round" opacity="0.64"/>
<path d="M53.7,86.5 Q54.1,87.2 55.6,89.6" stroke="#b06a68" stroke-width="1.3" fill="none" stroke-linecap="round" opacity="0.45"/>
<path d="M39.3,17.6 Q39.6,21.0 37.5,24.0" stroke="#b06a68" stroke-width="1.1" fill="none" stroke-linecap="round" opacity="0.62"/>
<path d="M41.8,60.4 Q41.4,61.6 39.5,62.6" stroke="#b87070" stroke-width="1.1" fill="none" stroke-linecap="round" opacity="0.51"/>
<path d="M99.7,91.3 Q100.1,92.7 104.4,93.3" stroke="#a05a58" stroke-width="1.3" fill="none" stroke-linecap="round" opacity="0.44"/>
<path d="M102.1,66.1 Q106.7,69.1 107.7,69.0" stroke="#a87c7a" stroke-width="1.3" fill="none" stroke-linecap="round" opacity="0.69"/>
<path d="M83.4,22.9 Q86.6,25.8 87.8,25.4" stroke="#a87c7a" stroke-width="1.2" fill="none" stroke-linecap="round" opacity="0.55"/>
<path d="M30.4,64.3 Q25.8,66.5 25.7,66.6" stroke="#b06a68" stroke-width="1.5" fill="none" stroke-linecap="round" opacity="0.50"/>
<path d="M39.8,7.7 Q42.4,9.8 42.6,8.0" stroke="#946a68" stroke-width="1.2" fill="none" stroke-linecap="round" opacity="0.74"/>
<path d="M105.0,78.5 Q105.4,78.6 108.6,80.5" stroke="#8c5050" stroke-width="0.9" fill="none" stroke-linecap="round" opacity="0.66"/>
<path d="M115.9,85.7 Q115.3,87.3 118.1,87.5" stroke="#8c5050" stroke-width="1.3" fill="none" stroke-linecap="round" opacity="0.53"/>
<path d="M102.0,76.3 Q103.5,76.3 102.1,78.1" stroke="#a05a58" stroke-width="1.2" fill="none" stroke-linecap="round" opacity="0.74"/>
<path d="M85.2,46.8 Q86.8,48.6 89.8,47.3" stroke="#b87070" stroke-width="1.5" fill="none" stroke-linecap="round" opacity="0.69"/>
<path d="M0.3,82.1 Q-1.8,86.0 -0.3,86.7" stroke="#b06a68" stroke-width="1.4" fill="none" stroke-linecap="round" opacity="0.69"/>
<path d="M89.1,23.2 Q93.5,23.0 93.9,24.5" stroke="#a87c7a" stroke-width="1.1" fill="none" stroke-linecap="round" opacity="0.44"/>
<path d="M3.6,49.9 Q1.9,51.7 4.6,54.9" stroke="#a87c7a" stroke-width="1.4" fill="none" stroke-linecap="round" opacity="0.47"/>
<path d="M88.1,35.0 Q91.5,38.2 89.9,38.5" stroke="#a87c7a" stroke-width="1.4" fill="none" stroke-linecap="round" opacity="0.54"/>
<path d="M17.8,8.5 Q18.7,9.9 15.5,11.0" stroke="#946a68" stroke-width="1.3" fill="none" stroke-linecap="round" opacity="0.46"/>
<path d="M26.8,56.7 Q27.6,56.3 28.0,60.6" stroke="#a05a58" stroke-width="1.0" fill="none" stroke-linecap="round" opacity="0.70"/>
<path d="M26.2,14.4 Q27.6,14.7 24.6,16.4" stroke="#7c4446" stroke-width="1.5" fill="none" stroke-linecap="round" opacity="0.48"/>
<path d="M28.5,82.4 Q29.3,84.2 33.2,85.0" stroke="#b87070" stroke-width="1.4" fill="none" stroke-linecap="round" opacity="0.74"/>
<path d="M80.9,61.3 Q80.3,64.7 82.3,63.2" stroke="#7c4446" stroke-width="1.1" fill="none" stroke-linecap="round" opacity="0.75"/>
<path d="M50.9,26.5 Q50.1,28.9 52.9,31.0" stroke="#b87070" stroke-width="1.2" fill="none" stroke-linecap="round" opacity="0.70"/>
<path d="M75.2,57.2 Q73.6,60.6 75.2,61.6" stroke="#946a68" stroke-width="1.1" fill="none" stroke-linecap="round" opacity="0.57"/>
<path d="M26.7,89.5 Q30.6,88.3 30.2,90.3" stroke="#946a68" stroke-width="1.3" fill="none" stroke-linecap="round" opacity="0.62"/>
<path d="M29.8,30.8 Q28.1,32.9 29.4,36.5" stroke="#a05a58" stroke-width="1.4" fill="none" stroke-linecap="round" opacity="0.73"/>
<path d="M74.6,84.6 Q76.5,83.9 75.6,86.5" stroke="#b87070" stroke-width="1.4" fill="none" stroke-linecap="round" opacity="0.74"/>
<path d="M85.7,35.6 Q85.8,36.6 89.0,41.8" stroke="#946a68" stroke-width="1.0" fill="none" stroke-linecap="round" opacity="0.62"/>
<path d="M40.0,44.1 Q45.6,47.3 46.6,46.5" stroke="#a05a58" stroke-width="1.1" fill="none" stroke-linecap="round" opacity="0.49"/>
<path d="M65.3,57.8 Q66.3,62.2 64.9,62.2" stroke="#946a68" stroke-width="1.5" fill="none" stroke-linecap="round" opacity="0.70"/>
<path d="M111.4,59.0 Q111.1,60.8 114.8,63.5" stroke="#946a68" stroke-width="1.2" fill="none" stroke-linecap="round" opacity="0.45"/>
<path d="M52.1,75.9 Q52.0,78.8 55.4,78.2" stroke="#a87c7a" stroke-width="1.0" fill="none" stroke-linecap="round" opacity="0.46"/>
<path d="M44.4,41.2 Q48.5,44.3 49.1,45.7" stroke="#b06a68" stroke-width="1.0" fill="none" stroke-linecap="round" opacity="0.62"/>
<path d="M77.3,22.9 Q76.5,22.8 75.6,25.4" stroke="#8c5050" stroke-width="1.0" fill="none" stroke-linecap="round" opacity="0.66"/>
<path d="M6.7,91.8 Q2.8,92.5 1.8,93.7" stroke="#a87c7a" stroke-width="1.2" fill="none" stroke-linecap="round" opacity="0.52"/>
<path d="M9.1,66.7 Q9.4,65.6 4.7,68.9" stroke="#946a68" stroke-width="1.1" fill="none" stroke-linecap="round" opacity="0.60"/>
<path d="M77.8,66.2 Q77.1,67.0 78.5,70.8" stroke="#8c5050" stroke-width="1.1" fill="none" stroke-linecap="round" opacity="0.51"/>
<path d="M85.3,89.7 Q86.3,87.8 88.2,91.0" stroke="#946a68" stroke-width="0.9" fill="none" stroke-linecap="round" opacity="0.47"/>
<path d="M80.0,2.5 Q79.5,6.8 74.9,6.6" stroke="#8c5050" stroke-width="1.0" fill="none" stroke-linecap="round" opacity="0.47"/>
<path d="M35.7,89.5 Q35.5,91.7 36.2,94.3" stroke="#b87070" stroke-width="1.5" fill="none" stroke-linecap="round" opacity="0.53"/>
<path d="M93.3,0.0 Q91.6,-1.7 94.5,1.2" stroke="#b06a68" stroke-width="1.3" fill="none" stroke-linecap="round" opacity="0.41"/>
<path d="M56.1,31.0 Q57.7,33.6 59.0,35.0" stroke="#a05a58" stroke-width="1.3" fill="none" stroke-linecap="round" opacity="0.44"/>
<path d="M5.5,2.0 Q5.2,2.4 7.0,4.2" stroke="#7c4446" stroke-width="1.6" fill="none" stroke-linecap="round" opacity="0.44"/>
<path d="M107.9,51.9 Q107.0,52.1 105.2,53.9" stroke="#946a68" stroke-width="1.1" fill="none" stroke-linecap="round" opacity="0.50"/>
<path d="M35.6,6.5 Q36.2,5.1 37.7,7.6" stroke="#946a68" stroke-width="1.0" fill="none" stroke-linecap="round" opacity="0.64"/>
<path d="M102.1,80.0 Q106.2,81.0 105.9,82.1" stroke="#7c4446" stroke-width="1.4" fill="none" stroke-linecap="round" opacity="0.47"/>
<path d="M4.3,22.4 Q7.3,23.9 7.9,22.8" stroke="#a05a58" stroke-width="0.9" fill="none" stroke-linecap="round" opacity="0.47"/>
<path d="M59.5,71.3 Q57.1,75.5 59.7,75.9" stroke="#b06a68" stroke-width="1.2" fill="none" stroke-linecap="round" opacity="0.42"/>
<path d="M103.1,83.4 Q103.0,84.9 102.0,89.5" stroke="#a05a58" stroke-width="1.5" fill="none" stroke-linecap="round" opacity="0.73"/>
<path d="M65.3,43.9 Q69.9,46.6 71.7,44.6" stroke="#7c4446" stroke-width="1.4" fill="none" stroke-linecap="round" opacity="0.41"/>
<path d="M89.4,8.6 Q87.8,11.2 86.0,12.9" stroke="#b06a68" stroke-width="1.0" fill="none" stroke-linecap="round" opacity="0.71"/>
<path d="M3.9,86.4 Q1.9,87.3 1.1,87.4" stroke="#b87070" stroke-width="1.6" fill="none" stroke-linecap="round" opacity="0.63"/>
<path d="M79.1,88.7 Q79.0,88.2 82.6,92.1" stroke="#b06a68" stroke-width="1.3" fill="none" stroke-linecap="round" opacity="0.53"/>
<path d="M48.2,8.6 Q51.4,9.2 50.0,8.9" stroke="#946a68" stroke-width="1.2" fill="none" stroke-linecap="round" opacity="0.51"/>
<path d="M15.9,13.9 Q20.5,17.0 20.5,18.7" stroke="#946a68" stroke-width="1.5" fill="none" stroke-linecap="round" opacity="0.47"/>
<path d="M58.9,8.6 Q60.1,12.4 59.2,11.8" stroke="#a87c7a" stroke-width="0.9" fill="none" stroke-linecap="round" opacity="0.74"/>
<path d="M65.8,32.1 Q64.3,32.3 62.8,34.8" stroke="#946a68" stroke-width="0.9" fill="none" stroke-linecap="round" opacity="0.70"/>
<path d="M57.3,79.9 Q54.3,80.3 54.2,82.7" stroke="#7c4446" stroke-width="0.9" fill="none" stroke-linecap="round" opacity="0.64"/>
<path d="M-2.0,23.5 Q1.9,22.2 4.3,25.6" stroke="#a05a58" stroke-width="1.3" fill="none" stroke-linecap="round" opacity="0.62"/>
<path d="M69.8,6.6 Q72.7,9.6 75.8,7.8" stroke="#946a68" stroke-width="1.1" fill="none" stroke-linecap="round" opacity="0.69"/>
<path d="M77.6,5.8 Q80.2,4.1 82.0,6.3" stroke="#a87c7a" stroke-width="1.1" fill="none" stroke-linecap="round" opacity="0.54"/>
<path d="M40.2,10.1 Q41.5,12.2 45.9,11.3" stroke="#7c4446" stroke-width="1.1" fill="none" stroke-linecap="round" opacity="0.64"/>
<path d="M15.7,36.1 Q18.6,41.2 18.2,42.6" stroke="#8c5050" stroke-width="1.0" fill="none" stroke-linecap="round" opacity="0.59"/>
<path d="M34.8,4.9 Q34.3,8.1 32.2,10.2" stroke="#946a68" stroke-width="1.3" fill="none" stroke-linecap="round" opacity="0.65"/>
<path d="M110.3,29.0 Q111.3,28.8 110.2,32.7" stroke="#946a68" stroke-width="1.1" fill="none" stroke-linecap="round" opacity="0.63"/>
<path d="M108.1,33.0 Q106.2,31.8 108.9,34.6" stroke="#b87070" stroke-width="1.1" fill="none" stroke-linecap="round" opacity="0.41"/>
<path d="M79.7,56.9 Q79.6,61.4 82.8,61.4" stroke="#946a68" stroke-width="1.2" fill="none" stroke-linecap="round" opacity="0.50"/>
<path d="M73.6,62.2 Q77.5,63.3 76.3,64.3" stroke="#7c4446" stroke-width="1.2" fill="none" stroke-linecap="round" opacity="0.67"/>
<path d="M53.8,35.4 Q56.8,35.8 59.4,37.5" stroke="#8c5050" stroke-width="1.2" fill="none" stroke-linecap="round" opacity="0.42"/>
<path d="M39.9,78.7 Q38.4,76.6 36.9,79.3" stroke="#b06a68" stroke-width="1.3" fill="none" stroke-linecap="round" opacity="0.42"/>
<path d="M20.7,72.9 Q20.0,74.6 19.8,77.3" stroke="#a05a58" stroke-width="1.5" fill="none" stroke-linecap="round" opacity="0.60"/>
<path d="M41.4,90.0 Q41.7,90.5 45.8,90.1" stroke="#b06a68" stroke-width="1.4" fill="none" stroke-linecap="round" opacity="0.44"/>
<path d="M7.2,57.2 Q7.2,59.8 9.9,59.4" stroke="#a87c7a" stroke-width="1.5" fill="none" stroke-linecap="round" opacity="0.73"/>
<path d="M111.9,53.0 Q111.3,53.3 112.6,55.3" stroke="#b87070" stroke-width="1.3" fill="none" stroke-linecap="round" opacity="0.69"/>
<path d="M23.8,70.3 Q21.0,73.1 19.9,74.3" stroke="#b06a68" stroke-width="1.1" fill="none" stroke-linecap="round" opacity="0.72"/>
<path d="M70.6,33.0 Q74.6,33.6 73.7,37.8" stroke="#b06a68" stroke-width="1.1" fill="none" stroke-linecap="round" opacity="0.43"/>
<path d="M18.4,49.4 Q18.7,51.1 14.0,50.6" stroke="#8c5050" stroke-width="0.9" fill="none" stroke-linecap="round" opacity="0.66"/>
<path d="M26.3,56.2 Q29.0,58.2 30.6,57.5" stroke="#b06a68" stroke-width="1.3" fill="none" stroke-linecap="round" opacity="0.70"/>
<path d="M5.7,60.1 Q7.3,60.9 9.1,63.3" stroke="#b06a68" stroke-width="1.6" fill="none" stroke-linecap="round" opacity="0.52"/>
<path d="M5.4,46.4 Q6.0,48.6 7.7,51.9" stroke="#b06a68" stroke-width="1.4" fill="none" stroke-linecap="round" opacity="0.61"/>
<path d="M102.1,86.6 Q99.5,88.1 100.6,87.8" stroke="#8c5050" stroke-width="1.1" fill="none" stroke-linecap="round" opacity="0.58"/>
<path d="M44.9,27.4 Q42.1,28.3 40.8,33.0" stroke="#8c5050" stroke-width="1.2" fill="none" stroke-linecap="round" opacity="0.74"/>
<path d="M109.6,17.8 Q109.3,20.3 111.4,19.3" stroke="#7c4446" stroke-width="1.4" fill="none" stroke-linecap="round" opacity="0.62"/>
<path d="M108.7,47.7 Q112.3,49.8 112.7,50.4" stroke="#b87070" stroke-width="1.1" fill="none" stroke-linecap="round" opacity="0.60"/>
<path d="M74.2,30.8 Q75.8,32.8 78.5,32.9" stroke="#7c4446" stroke-width="1.3" fill="none" stroke-linecap="round" opacity="0.69"/>
<path d="M65.9,48.5 Q66.2,51.5 61.7,52.3" stroke="#a87c7a" stroke-width="1.3" fill="none" stroke-linecap="round" opacity="0.40"/>
<path d="M110.3,67.1 Q111.9,66.4 112.0,70.3" stroke="#a87c7a" stroke-width="1.0" fill="none" stroke-linecap="round" opacity="0.49"/>
<path d="M80.3,68.1 Q82.3,70.4 81.2,73.7" stroke="#7c4446" stroke-width="1.5" fill="none" stroke-linecap="round" opacity="0.53"/>
<path d="M20.4,40.3 Q18.2,43.0 18.8,41.4" stroke="#7c4446" stroke-width="1.0" fill="none" stroke-linecap="round" opacity="0.50"/>
<path d="M75.5,60.2 Q73.1,60.4 72.4,61.2" stroke="#b87070" stroke-width="1.6" fill="none" stroke-linecap="round" opacity="0.68"/>
<path d="M73.3,9.2 Q70.2,11.7 67.2,9.8" stroke="#b87070" stroke-width="1.2" fill="none" stroke-linecap="round" opacity="0.50"/>
<path d="M3.5,17.0 Q4.7,19.2 7.9,17.5" stroke="#b87070" stroke-width="1.2" fill="none" stroke-linecap="round" opacity="0.46"/>
<path d="M64.1,20.0 Q64.5,20.7 68.7,23.3" stroke="#946a68" stroke-width="1.3" fill="none" stroke-linecap="round" opacity="0.68"/>
<path d="M96.6,35.7 Q99.7,36.3 98.6,39.4" stroke="#b06a68" stroke-width="1.1" fill="none" stroke-linecap="round" opacity="0.44"/>
<path d="M117.4,16.1 Q116.4,17.1 116.7,22.9" stroke="#b06a68" stroke-width="1.2" fill="none" stroke-linecap="round" opacity="0.45"/>
<path d="M96.3,24.3 Q97.9,24.5 96.9,27.1" stroke="#b87070" stroke-width="1.2" fill="none" stroke-linecap="round" opacity="0.69"/>
<path d="M23.7,31.1 Q27.1,31.7 27.6,32.4" stroke="#a87c7a" stroke-width="0.9" fill="none" stroke-linecap="round" opacity="0.60"/>
<path d="M121.0,45.8 Q116.8,48.1 116.5,48.8" stroke="#946a68" stroke-width="1.5" fill="none" stroke-linecap="round" opacity="0.68"/>
<path d="M60.6,25.3 Q61.6,27.4 59.9,28.9" stroke="#b06a68" stroke-width="1.0" fill="none" stroke-linecap="round" opacity="0.67"/>
<circle cx="79.2" cy="17.7" r="0.6" fill="#3c4a44" opacity="0.75"/>
<circle cx="18.0" cy="29.7" r="0.6" fill="#3c4a44" opacity="0.75"/>
<circle cx="68.5" cy="92.0" r="0.8" fill="#3c4a44" opacity="0.75"/>
<circle cx="80.9" cy="37.8" r="0.7" fill="#3c4a44" opacity="0.75"/>
<circle cx="75.3" cy="82.4" r="0.9" fill="#3c4a44" opacity="0.75"/>
<circle cx="75.1" cy="6.0" r="1.0" fill="#3c4a44" opacity="0.75"/>
<circle cx="24.5" cy="54.7" r="0.9" fill="#3c4a44" opacity="0.75"/>
<circle cx="1.0" cy="62.2" r="0.9" fill="#3c4a44" opacity="0.75"/>
<circle cx="39.1" cy="20.5" r="0.8" fill="#3c4a44" opacity="0.75"/>
<circle cx="55.4" cy="79.8" r="0.7" fill="#3c4a44" opacity="0.75"/>
<circle cx="91.9" cy="91.6" r="0.9" fill="#3c4a44" opacity="0.75"/>
<circle cx="14.6" cy="79.3" r="1.0" fill="#3c4a44" opacity="0.75"/>
<circle cx="10.4" cy="24.7" r="0.7" fill="#3c4a44" opacity="0.75"/>
<circle cx="46.8" cy="46.9" r="0.8" fill="#3c4a44" opacity="0.75"/>
<path d="M39.0,54.1 L48.0,54.6 L60.0,54.9 L72.0,55.3 L84.0,54.1 L96.0,52.6 L108.0,50.9 L120.0,49.5" stroke="#1d4a3b" stroke-width="1.4" fill="none" stroke-linejoin="round" opacity="0.85"/>
<circle cx="48.0" cy="54.6" r="1.2" fill="#1c3a30" opacity="0.8"/>
<circle cx="72.0" cy="55.3" r="1.2" fill="#1c3a30" opacity="0.8"/>
<circle cx="96.0" cy="52.6" r="1.2" fill="#1c3a30" opacity="0.8"/>
</g>
</svg>
<text x="364.9" y="18.5" font-size="17.7" text-anchor="start" font-weight="bold" font-style="normal" fill="#000" >C</text>
<line x1="408.6" y1="29.1" x2="408.6" y2="198.3" stroke="#000" stroke-width="1.3"/>
<line x1="404.6" y1="194.4" x2="408.6" y2="194.4" stroke="#000" stroke-width="1.3"/>
<text transform="translate(400.7,198.70000000000002) scale(0.94,1)" x="0" y="0" font-size="10.0" text-anchor="end" font-weight="normal" font-style="normal" fill="#000"  stroke="none" style="stroke:none">0</text>
<line x1="404.6" y1="139.53" x2="408.6" y2="139.53" stroke="#000" stroke-width="1.3"/>
<text transform="translate(400.7,143.83) scale(0.94,1)" x="0" y="0" font-size="10.0" text-anchor="end" font-weight="normal" font-style="normal" fill="#000"  stroke="none" style="stroke:none">50</text>
<line x1="404.6" y1="84.66000000000001" x2="408.6" y2="84.66000000000001" stroke="#000" stroke-width="1.3"/>
<text transform="translate(400.7,88.96000000000001) scale(0.94,1)" x="0" y="0" font-size="10.0" text-anchor="end" font-weight="normal" font-style="normal" fill="#000"  stroke="none" style="stroke:none">100</text>
<line x1="404.6" y1="29.79000000000002" x2="408.6" y2="29.79000000000002" stroke="#000" stroke-width="1.3"/>
<text transform="translate(400.7,34.09000000000002) scale(0.94,1)" x="0" y="0" font-size="10.0" text-anchor="end" font-weight="normal" font-style="normal" fill="#000"  stroke="none" style="stroke:none">150</text>
<line x1="407.95000000000005" y1="194.4" x2="507.6" y2="194.4" stroke="#000" stroke-width="1.3"/>
<line x1="507.0" y1="194.4" x2="507.0" y2="198.5" stroke="#000" stroke-width="1.3"/>
<rect x="421.3" y="88.1" width="28.4" height="106.30000000000001" fill="#7f7f7f" stroke="#000" stroke-width="1.3"/>
<rect x="466.8" y="74.8" width="28.2" height="119.60000000000001" fill="#fff" stroke="#000" stroke-width="1.3"/>
<line x1="435.6" y1="81.2" x2="435.6" y2="94.9" stroke="#000" stroke-width="1.3"/>
<line x1="432.70000000000005" y1="81.2" x2="438.5" y2="81.2" stroke="#000" stroke-width="1.3"/>
<line x1="432.70000000000005" y1="94.9" x2="438.5" y2="94.9" stroke="#000" stroke-width="1.3"/>
<line x1="480.9" y1="48.6" x2="480.9" y2="100.3" stroke="#000" stroke-width="1.3"/>
<line x1="478.0" y1="48.6" x2="483.79999999999995" y2="48.6" stroke="#000" stroke-width="1.3"/>
<line x1="478.0" y1="100.3" x2="483.79999999999995" y2="100.3" stroke="#000" stroke-width="1.3"/>
<text x="427.6" y="212.1" font-size="13.4" text-anchor="start" font-weight="normal" font-style="normal" fill="#000" >Wt</text>
<text x="460.3" y="212.1" font-size="13.4" text-anchor="start" font-weight="normal" font-style="italic" fill="#000" >Crebbp+/-</text>
<text transform="translate(381.2,106.5) rotate(-90)" x="0" y="0" font-size="13.5" text-anchor="middle" font-style="normal">Number of vessels</text>
<text x="12.0" y="245.9" font-size="17.2" text-anchor="start" font-weight="bold" font-style="normal" fill="#000" >D</text>
<rect x="44.5" y="249.6" width="196.5" height="144.4" fill="none" stroke="#000" stroke-width="1.3"/>
<line x1="40.0" y1="256.3" x2="44.5" y2="256.3" stroke="#000" stroke-width="1.1"/>
<line x1="42.0" y1="263.1875" x2="44.5" y2="263.1875" stroke="#000" stroke-width="1.0"/>
<line x1="42.0" y1="270.075" x2="44.5" y2="270.075" stroke="#000" stroke-width="1.0"/>
<line x1="42.0" y1="276.96250000000003" x2="44.5" y2="276.96250000000003" stroke="#000" stroke-width="1.0"/>
<line x1="40.0" y1="283.85" x2="44.5" y2="283.85" stroke="#000" stroke-width="1.1"/>
<line x1="42.0" y1="290.7375" x2="44.5" y2="290.7375" stroke="#000" stroke-width="1.0"/>
<line x1="42.0" y1="297.625" x2="44.5" y2="297.625" stroke="#000" stroke-width="1.0"/>
<line x1="42.0" y1="304.51250000000005" x2="44.5" y2="304.51250000000005" stroke="#000" stroke-width="1.0"/>
<line x1="40.0" y1="311.40000000000003" x2="44.5" y2="311.40000000000003" stroke="#000" stroke-width="1.1"/>
<line x1="42.0" y1="318.2875" x2="44.5" y2="318.2875" stroke="#000" stroke-width="1.0"/>
<line x1="42.0" y1="325.175" x2="44.5" y2="325.175" stroke="#000" stroke-width="1.0"/>
<line x1="42.0" y1="332.06250000000006" x2="44.5" y2="332.06250000000006" stroke="#000" stroke-width="1.0"/>
<line x1="40.0" y1="338.95000000000005" x2="44.5" y2="338.95000000000005" stroke="#000" stroke-width="1.1"/>
<line x1="42.0" y1="345.83750000000003" x2="44.5" y2="345.83750000000003" stroke="#000" stroke-width="1.0"/>
<line x1="42.0" y1="352.725" x2="44.5" y2="352.725" stroke="#000" stroke-width="1.0"/>
<line x1="42.0" y1="359.61250000000007" x2="44.5" y2="359.61250000000007" stroke="#000" stroke-width="1.0"/>
<line x1="40.0" y1="366.5" x2="44.5" y2="366.5" stroke="#000" stroke-width="1.1"/>
<line x1="42.0" y1="373.3875" x2="44.5" y2="373.3875" stroke="#000" stroke-width="1.0"/>
<line x1="42.0" y1="380.275" x2="44.5" y2="380.275" stroke="#000" stroke-width="1.0"/>
<line x1="42.0" y1="387.1625" x2="44.5" y2="387.1625" stroke="#000" stroke-width="1.0"/>
<line x1="40.0" y1="394.05" x2="44.5" y2="394.05" stroke="#000" stroke-width="1.1"/>
<text transform="translate(32.4,318.9) rotate(-90)" x="0" y="0" font-size="13.35" text-anchor="middle" font-style="normal">% of max</text>
<line x1="44.881584996802815" y1="394.0" x2="44.881584996802815" y2="396.0" stroke="#000" stroke-width="0.9"/>
<line x1="49.76044266135693" y1="394.0" x2="49.76044266135693" y2="396.0" stroke="#000" stroke-width="0.9"/>
<line x1="53.54477866932153" y1="394.0" x2="53.54477866932153" y2="396.0" stroke="#000" stroke-width="0.9"/>
<line x1="56.63680632748128" y1="394.0" x2="56.63680632748128" y2="396.0" stroke="#000" stroke-width="0.9"/>
<line x1="59.25107846255673" y1="394.0" x2="59.25107846255673" y2="396.0" stroke="#000" stroke-width="0.9"/>
<line x1="61.51566399203539" y1="394.0" x2="61.51566399203539" y2="396.0" stroke="#000" stroke-width="0.9"/>
<line x1="63.513169993605636" y1="394.0" x2="63.513169993605636" y2="396.0" stroke="#000" stroke-width="0.9"/>
<line x1="65.3" y1="394.0" x2="65.3" y2="397.5" stroke="#000" stroke-width="0.9"/>
<line x1="77.05522133067846" y1="394.0" x2="77.05522133067846" y2="396.0" stroke="#000" stroke-width="0.9"/>
<line x1="83.93158499680281" y1="394.0" x2="83.93158499680281" y2="396.0" stroke="#000" stroke-width="0.9"/>
<line x1="88.81044266135693" y1="394.0" x2="88.81044266135693" y2="396.0" stroke="#000" stroke-width="0.9"/>
<line x1="92.59477866932153" y1="394.0" x2="92.59477866932153" y2="396.0" stroke="#000" stroke-width="0.9"/>
<line x1="95.68680632748128" y1="394.0" x2="95.68680632748128" y2="396.0" stroke="#000" stroke-width="0.9"/>
<line x1="98.30107846255672" y1="394.0" x2="98.30107846255672" y2="396.0" stroke="#000" stroke-width="0.9"/>
<line x1="100.56566399203538" y1="394.0" x2="100.56566399203538" y2="396.0" stroke="#000" stroke-width="0.9"/>
<line x1="102.56316999360564" y1="394.0" x2="102.56316999360564" y2="396.0" stroke="#000" stroke-width="0.9"/>
<line x1="104.35" y1="394.0" x2="104.35" y2="397.5" stroke="#000" stroke-width="0.9"/>
<line x1="116.10522133067846" y1="394.0" x2="116.10522133067846" y2="396.0" stroke="#000" stroke-width="0.9"/>
<line x1="122.98158499680281" y1="394.0" x2="122.98158499680281" y2="396.0" stroke="#000" stroke-width="0.9"/>
<line x1="127.86044266135693" y1="394.0" x2="127.86044266135693" y2="396.0" stroke="#000" stroke-width="0.9"/>
<line x1="131.64477866932154" y1="394.0" x2="131.64477866932154" y2="396.0" stroke="#000" stroke-width="0.9"/>
<line x1="134.73680632748128" y1="394.0" x2="134.73680632748128" y2="396.0" stroke="#000" stroke-width="0.9"/>
<line x1="137.35107846255673" y1="394.0" x2="137.35107846255673" y2="396.0" stroke="#000" stroke-width="0.9"/>
<line x1="139.6156639920354" y1="394.0" x2="139.6156639920354" y2="396.0" stroke="#000" stroke-width="0.9"/>
<line x1="141.61316999360562" y1="394.0" x2="141.61316999360562" y2="396.0" stroke="#000" stroke-width="0.9"/>
<line x1="143.39999999999998" y1="394.0" x2="143.39999999999998" y2="397.5" stroke="#000" stroke-width="0.9"/>
<line x1="155.15522133067844" y1="394.0" x2="155.15522133067844" y2="396.0" stroke="#000" stroke-width="0.9"/>
<line x1="162.0315849968028" y1="394.0" x2="162.0315849968028" y2="396.0" stroke="#000" stroke-width="0.9"/>
<line x1="166.9104426613569" y1="394.0" x2="166.9104426613569" y2="396.0" stroke="#000" stroke-width="0.9"/>
<line x1="170.69477866932152" y1="394.0" x2="170.69477866932152" y2="396.0" stroke="#000" stroke-width="0.9"/>
<line x1="173.78680632748126" y1="394.0" x2="173.78680632748126" y2="396.0" stroke="#000" stroke-width="0.9"/>
<line x1="176.4010784625567" y1="394.0" x2="176.4010784625567" y2="396.0" stroke="#000" stroke-width="0.9"/>
<line x1="178.66566399203538" y1="394.0" x2="178.66566399203538" y2="396.0" stroke="#000" stroke-width="0.9"/>
<line x1="180.6631699936056" y1="394.0" x2="180.6631699936056" y2="396.0" stroke="#000" stroke-width="0.9"/>
<line x1="182.45" y1="394.0" x2="182.45" y2="397.5" stroke="#000" stroke-width="0.9"/>
<line x1="194.20522133067846" y1="394.0" x2="194.20522133067846" y2="396.0" stroke="#000" stroke-width="0.9"/>
<line x1="201.0815849968028" y1="394.0" x2="201.0815849968028" y2="396.0" stroke="#000" stroke-width="0.9"/>
<line x1="205.96044266135692" y1="394.0" x2="205.96044266135692" y2="396.0" stroke="#000" stroke-width="0.9"/>
<line x1="209.74477866932153" y1="394.0" x2="209.74477866932153" y2="396.0" stroke="#000" stroke-width="0.9"/>
<line x1="212.83680632748127" y1="394.0" x2="212.83680632748127" y2="396.0" stroke="#000" stroke-width="0.9"/>
<line x1="215.45107846255672" y1="394.0" x2="215.45107846255672" y2="396.0" stroke="#000" stroke-width="0.9"/>
<line x1="217.7156639920354" y1="394.0" x2="217.7156639920354" y2="396.0" stroke="#000" stroke-width="0.9"/>
<line x1="219.71316999360562" y1="394.0" x2="219.71316999360562" y2="396.0" stroke="#000" stroke-width="0.9"/>
<line x1="221.5" y1="394.0" x2="221.5" y2="397.5" stroke="#000" stroke-width="0.9"/>
<line x1="233.25522133067847" y1="394.0" x2="233.25522133067847" y2="396.0" stroke="#000" stroke-width="0.9"/>
<line x1="240.13158499680281" y1="394.0" x2="240.13158499680281" y2="396.0" stroke="#000" stroke-width="0.9"/>
<rect x="143.5" y="249.6" width="97.5" height="34.00000000000003" fill="#fff" stroke="#000" stroke-width="1.3"/>
<line x1="148.0" y1="259.2" x2="174.2" y2="259.2" stroke="#000" stroke-width="2.4"/>
<line x1="148.0" y1="274.0" x2="174.2" y2="274.0" stroke="#d0181f" stroke-width="2.4"/>
<text x="178.4" y="264.0" font-size="13.6" text-anchor="start" font-weight="normal" font-style="normal" fill="#000" >Wt</text>
<text x="178.4" y="279.0" font-size="13.4" text-anchor="start" font-weight="normal" font-style="italic" fill="#000" >Crebbp+/-</text>
<text x="139.6" y="415.3" font-size="13.2" text-anchor="middle" font-weight="normal" font-style="normal" fill="#000" >ESAM1</text>
<path d="M45.30,250.20 C45.47,263.50 45.92,307.37 46.30,330.00 C46.68,352.63 47.12,375.80 47.60,386.00 C48.08,396.20 48.22,390.23 49.20,391.20 C50.18,392.17 50.87,391.87 53.50,391.80 C56.13,391.73 61.53,391.35 65.00,390.80 C68.47,390.25 71.98,389.28 74.30,388.50 C76.62,387.72 77.55,387.27 78.90,386.10 C80.25,384.93 81.53,382.77 82.40,381.50 C83.27,380.23 82.85,380.03 84.10,378.50 C85.35,376.97 88.25,374.72 89.90,372.30 C91.55,369.88 92.77,366.48 94.00,364.00 C95.23,361.52 96.33,358.63 97.30,357.40 C98.27,356.17 98.92,356.97 99.80,356.60 C100.68,356.23 101.80,355.92 102.60,355.20 C103.40,354.48 103.97,353.85 104.60,352.30 C105.23,350.75 105.70,349.98 106.40,345.90 C107.10,341.82 107.98,333.70 108.80,327.80 C109.62,321.90 110.47,314.63 111.30,310.50 C112.13,306.37 113.02,305.50 113.80,303.00 C114.58,300.50 115.27,297.73 116.00,295.50 C116.73,293.27 117.33,289.72 118.20,289.60 C119.07,289.48 120.37,291.45 121.20,294.80 C122.03,298.15 122.60,303.93 123.20,309.70 C123.80,315.47 124.03,324.47 124.80,329.40 C125.57,334.33 126.75,336.00 127.80,339.30 C128.85,342.60 130.00,345.63 131.10,349.20 C132.20,352.77 133.45,357.40 134.40,360.70 C135.35,364.00 135.98,366.80 136.80,369.00 C137.62,371.20 138.52,373.02 139.30,373.90 C140.08,374.78 140.72,374.45 141.50,374.30 C142.28,374.15 142.68,375.05 144.00,373.00 C145.32,370.95 147.90,365.07 149.40,362.00 C150.90,358.93 151.63,354.40 153.00,354.60 C154.37,354.80 156.40,362.47 157.60,363.20 C158.80,363.93 159.13,361.33 160.20,359.00 C161.27,356.67 162.93,350.28 164.00,349.20 C165.07,348.12 165.63,349.08 166.60,352.50 C167.57,355.92 168.57,365.58 169.80,369.70 C171.03,373.82 171.83,374.68 174.00,377.20 C176.17,379.72 180.63,383.17 182.80,384.80 C184.97,386.43 185.38,385.63 187.00,387.00 C188.62,388.37 191.00,391.87 192.50,393.00 C194.00,394.13 188.08,393.67 196.00,393.80 C203.92,393.93 232.67,393.80 240.00,393.80" fill="none" stroke="#000" stroke-width="1.7" stroke-linejoin="round" stroke-linecap="round"/>
<path d="M45.80,250.20 C45.95,263.50 46.33,307.37 46.70,330.00 C47.07,352.63 47.53,375.80 48.00,386.00 C48.47,396.20 48.58,390.23 49.50,391.20 C50.42,392.17 50.92,391.87 53.50,391.80 C56.08,391.73 61.53,391.35 65.00,390.80 C68.47,390.25 71.98,389.28 74.30,388.50 C76.62,387.72 77.65,386.97 78.90,386.10 C80.15,385.23 80.27,383.77 81.80,383.30 C83.33,382.83 86.67,383.40 88.10,383.30 C89.53,383.20 89.28,383.53 90.40,382.70 C91.52,381.87 93.52,380.58 94.80,378.30 C96.08,376.02 97.13,372.20 98.10,369.00 C99.07,365.80 99.77,361.43 100.60,359.10 C101.43,356.77 102.13,356.10 103.10,355.00 C104.07,353.90 105.45,354.02 106.40,352.50 C107.35,350.98 107.85,348.92 108.80,345.90 C109.75,342.88 111.13,336.88 112.10,334.40 C113.07,331.92 113.77,332.38 114.60,331.00 C115.43,329.62 116.13,328.83 117.10,326.10 C118.07,323.37 119.50,315.70 120.40,314.60 C121.30,313.50 121.95,317.03 122.50,319.50 C123.05,321.97 123.23,325.55 123.70,329.40 C124.17,333.25 124.75,338.48 125.30,342.60 C125.85,346.72 126.32,351.90 127.00,354.10 C127.68,356.30 128.45,355.10 129.40,355.80 C130.35,356.50 131.73,356.10 132.70,358.30 C133.67,360.50 134.37,366.12 135.20,369.00 C136.03,371.88 136.82,374.23 137.70,375.60 C138.58,376.97 139.45,376.97 140.50,377.20 C141.55,377.43 142.52,379.37 144.00,377.00 C145.48,374.63 147.90,368.88 149.40,363.00 C150.90,357.12 151.93,347.23 153.00,341.70 C154.07,336.17 154.68,333.22 155.80,329.80 C156.92,326.38 158.62,321.55 159.70,321.20 C160.78,320.85 161.33,324.28 162.30,327.70 C163.27,331.12 164.25,339.55 165.50,341.70 C166.75,343.85 168.55,341.68 169.80,340.60 C171.05,339.52 171.92,335.55 173.00,335.20 C174.08,334.85 175.22,337.23 176.30,338.50 C177.38,339.77 178.60,341.92 179.50,342.80 C180.40,343.68 180.78,341.47 181.70,343.80 C182.62,346.13 183.75,352.85 185.00,356.80 C186.25,360.75 187.60,363.55 189.20,367.50 C190.80,371.45 192.98,376.58 194.60,380.50 C196.22,384.42 197.63,388.83 198.90,391.00 C200.17,393.17 201.02,393.03 202.20,393.50 C203.38,393.97 199.70,393.75 206.00,393.80 C212.30,393.85 234.33,393.80 240.00,393.80" fill="none" stroke="#d0181f" stroke-width="1.7" stroke-linejoin="round" stroke-linecap="round"/>
<text x="279.3" y="245.9" font-size="17.2" text-anchor="start" font-weight="bold" font-style="normal" fill="#000" >E</text>
<rect x="310.0" y="249.6" width="196.5" height="144.4" fill="none" stroke="#000" stroke-width="1.3"/>
<line x1="305.5" y1="256.3" x2="310.0" y2="256.3" stroke="#000" stroke-width="1.1"/>
<line x1="307.5" y1="263.1875" x2="310.0" y2="263.1875" stroke="#000" stroke-width="1.0"/>
<line x1="307.5" y1="270.075" x2="310.0" y2="270.075" stroke="#000" stroke-width="1.0"/>
<line x1="307.5" y1="276.96250000000003" x2="310.0" y2="276.96250000000003" stroke="#000" stroke-width="1.0"/>
<line x1="305.5" y1="283.85" x2="310.0" y2="283.85" stroke="#000" stroke-width="1.1"/>
<line x1="307.5" y1="290.7375" x2="310.0" y2="290.7375" stroke="#000" stroke-width="1.0"/>
<line x1="307.5" y1="297.625" x2="310.0" y2="297.625" stroke="#000" stroke-width="1.0"/>
<line x1="307.5" y1="304.51250000000005" x2="310.0" y2="304.51250000000005" stroke="#000" stroke-width="1.0"/>
<line x1="305.5" y1="311.40000000000003" x2="310.0" y2="311.40000000000003" stroke="#000" stroke-width="1.1"/>
<line x1="307.5" y1="318.2875" x2="310.0" y2="318.2875" stroke="#000" stroke-width="1.0"/>
<line x1="307.5" y1="325.175" x2="310.0" y2="325.175" stroke="#000" stroke-width="1.0"/>
<line x1="307.5" y1="332.06250000000006" x2="310.0" y2="332.06250000000006" stroke="#000" stroke-width="1.0"/>
<line x1="305.5" y1="338.95000000000005" x2="310.0" y2="338.95000000000005" stroke="#000" stroke-width="1.1"/>
<line x1="307.5" y1="345.83750000000003" x2="310.0" y2="345.83750000000003" stroke="#000" stroke-width="1.0"/>
<line x1="307.5" y1="352.725" x2="310.0" y2="352.725" stroke="#000" stroke-width="1.0"/>
<line x1="307.5" y1="359.61250000000007" x2="310.0" y2="359.61250000000007" stroke="#000" stroke-width="1.0"/>
<line x1="305.5" y1="366.5" x2="310.0" y2="366.5" stroke="#000" stroke-width="1.1"/>
<line x1="307.5" y1="373.3875" x2="310.0" y2="373.3875" stroke="#000" stroke-width="1.0"/>
<line x1="307.5" y1="380.275" x2="310.0" y2="380.275" stroke="#000" stroke-width="1.0"/>
<line x1="307.5" y1="387.1625" x2="310.0" y2="387.1625" stroke="#000" stroke-width="1.0"/>
<line x1="305.5" y1="394.05" x2="310.0" y2="394.05" stroke="#000" stroke-width="1.1"/>
<text transform="translate(298.4,319.4) rotate(-90)" x="0" y="0" font-size="13.35" text-anchor="middle" font-style="normal">% of max</text>
<line x1="310.3815849968028" y1="394.0" x2="310.3815849968028" y2="396.0" stroke="#000" stroke-width="0.9"/>
<line x1="315.26044266135693" y1="394.0" x2="315.26044266135693" y2="396.0" stroke="#000" stroke-width="0.9"/>
<line x1="319.04477866932154" y1="394.0" x2="319.04477866932154" y2="396.0" stroke="#000" stroke-width="0.9"/>
<line x1="322.1368063274813" y1="394.0" x2="322.1368063274813" y2="396.0" stroke="#000" stroke-width="0.9"/>
<line x1="324.75107846255673" y1="394.0" x2="324.75107846255673" y2="396.0" stroke="#000" stroke-width="0.9"/>
<line x1="327.0156639920354" y1="394.0" x2="327.0156639920354" y2="396.0" stroke="#000" stroke-width="0.9"/>
<line x1="329.01316999360563" y1="394.0" x2="329.01316999360563" y2="396.0" stroke="#000" stroke-width="0.9"/>
<line x1="330.8" y1="394.0" x2="330.8" y2="397.5" stroke="#000" stroke-width="0.9"/>
<line x1="342.5552213306785" y1="394.0" x2="342.5552213306785" y2="396.0" stroke="#000" stroke-width="0.9"/>
<line x1="349.4315849968028" y1="394.0" x2="349.4315849968028" y2="396.0" stroke="#000" stroke-width="0.9"/>
<line x1="354.31044266135694" y1="394.0" x2="354.31044266135694" y2="396.0" stroke="#000" stroke-width="0.9"/>
<line x1="358.09477866932156" y1="394.0" x2="358.09477866932156" y2="396.0" stroke="#000" stroke-width="0.9"/>
<line x1="361.1868063274813" y1="394.0" x2="361.1868063274813" y2="396.0" stroke="#000" stroke-width="0.9"/>
<line x1="363.80107846255675" y1="394.0" x2="363.80107846255675" y2="396.0" stroke="#000" stroke-width="0.9"/>
<line x1="366.0656639920354" y1="394.0" x2="366.0656639920354" y2="396.0" stroke="#000" stroke-width="0.9"/>
<line x1="368.06316999360564" y1="394.0" x2="368.06316999360564" y2="396.0" stroke="#000" stroke-width="0.9"/>
<line x1="369.85" y1="394.0" x2="369.85" y2="397.5" stroke="#000" stroke-width="0.9"/>
<line x1="381.6052213306785" y1="394.0" x2="381.6052213306785" y2="396.0" stroke="#000" stroke-width="0.9"/>
<line x1="388.48158499680284" y1="394.0" x2="388.48158499680284" y2="396.0" stroke="#000" stroke-width="0.9"/>
<line x1="393.36044266135696" y1="394.0" x2="393.36044266135696" y2="396.0" stroke="#000" stroke-width="0.9"/>
<line x1="397.14477866932157" y1="394.0" x2="397.14477866932157" y2="396.0" stroke="#000" stroke-width="0.9"/>
<line x1="400.2368063274813" y1="394.0" x2="400.2368063274813" y2="396.0" stroke="#000" stroke-width="0.9"/>
<line x1="402.85107846255676" y1="394.0" x2="402.85107846255676" y2="396.0" stroke="#000" stroke-width="0.9"/>
<line x1="405.1156639920354" y1="394.0" x2="405.1156639920354" y2="396.0" stroke="#000" stroke-width="0.9"/>
<line x1="407.11316999360565" y1="394.0" x2="407.11316999360565" y2="396.0" stroke="#000" stroke-width="0.9"/>
<line x1="408.9" y1="394.0" x2="408.9" y2="397.5" stroke="#000" stroke-width="0.9"/>
<line x1="420.65522133067844" y1="394.0" x2="420.65522133067844" y2="396.0" stroke="#000" stroke-width="0.9"/>
<line x1="427.5315849968028" y1="394.0" x2="427.5315849968028" y2="396.0" stroke="#000" stroke-width="0.9"/>
<line x1="432.4104426613569" y1="394.0" x2="432.4104426613569" y2="396.0" stroke="#000" stroke-width="0.9"/>
<line x1="436.1947786693215" y1="394.0" x2="436.1947786693215" y2="396.0" stroke="#000" stroke-width="0.9"/>
<line x1="439.28680632748126" y1="394.0" x2="439.28680632748126" y2="396.0" stroke="#000" stroke-width="0.9"/>
<line x1="441.9010784625567" y1="394.0" x2="441.9010784625567" y2="396.0" stroke="#000" stroke-width="0.9"/>
<line x1="444.1656639920354" y1="394.0" x2="444.1656639920354" y2="396.0" stroke="#000" stroke-width="0.9"/>
<line x1="446.1631699936056" y1="394.0" x2="446.1631699936056" y2="396.0" stroke="#000" stroke-width="0.9"/>
<line x1="447.95" y1="394.0" x2="447.95" y2="397.5" stroke="#000" stroke-width="0.9"/>
<line x1="459.70522133067846" y1="394.0" x2="459.70522133067846" y2="396.0" stroke="#000" stroke-width="0.9"/>
<line x1="466.5815849968028" y1="394.0" x2="466.5815849968028" y2="396.0" stroke="#000" stroke-width="0.9"/>
<line x1="471.4604426613569" y1="394.0" x2="471.4604426613569" y2="396.0" stroke="#000" stroke-width="0.9"/>
<line x1="475.24477866932153" y1="394.0" x2="475.24477866932153" y2="396.0" stroke="#000" stroke-width="0.9"/>
<line x1="478.33680632748127" y1="394.0" x2="478.33680632748127" y2="396.0" stroke="#000" stroke-width="0.9"/>
<line x1="480.9510784625567" y1="394.0" x2="480.9510784625567" y2="396.0" stroke="#000" stroke-width="0.9"/>
<line x1="483.2156639920354" y1="394.0" x2="483.2156639920354" y2="396.0" stroke="#000" stroke-width="0.9"/>
<line x1="485.2131699936056" y1="394.0" x2="485.2131699936056" y2="396.0" stroke="#000" stroke-width="0.9"/>
<line x1="487.0" y1="394.0" x2="487.0" y2="397.5" stroke="#000" stroke-width="0.9"/>
<line x1="498.75522133067847" y1="394.0" x2="498.75522133067847" y2="396.0" stroke="#000" stroke-width="0.9"/>
<line x1="505.6315849968028" y1="394.0" x2="505.6315849968028" y2="396.0" stroke="#000" stroke-width="0.9"/>
<rect x="409.0" y="249.6" width="97.5" height="34.00000000000003" fill="#fff" stroke="#000" stroke-width="1.3"/>
<line x1="413.5" y1="259.2" x2="439.7" y2="259.2" stroke="#000" stroke-width="2.4"/>
<line x1="413.5" y1="274.0" x2="439.7" y2="274.0" stroke="#d0181f" stroke-width="2.4"/>
<text x="443.9" y="264.0" font-size="13.6" text-anchor="start" font-weight="normal" font-style="normal" fill="#000" >Wt</text>
<text x="443.9" y="279.0" font-size="13.4" text-anchor="start" font-weight="normal" font-style="italic" fill="#000" >Crebbp+/-</text>
<text x="407.9" y="415.3" font-size="13.2" text-anchor="middle" font-weight="normal" font-style="normal" fill="#000" >CDH5</text>
<path d="M310.70,322.00 C310.90,330.00 311.27,358.75 311.90,370.00 C312.53,381.25 313.48,386.08 314.50,389.50 C315.52,392.92 315.55,390.32 318.00,390.50 C320.45,390.68 325.10,391.07 329.20,390.60 C333.30,390.13 339.25,388.67 342.60,387.70 C345.95,386.73 347.07,387.05 349.30,384.80 C351.53,382.55 353.92,378.53 356.00,374.20 C358.08,369.87 360.02,365.53 361.80,358.80 C363.58,352.07 365.42,340.52 366.70,333.80 C367.98,327.08 368.38,323.13 369.50,318.50 C370.62,313.87 372.27,310.02 373.40,306.00 C374.53,301.98 375.33,295.68 376.30,294.40 C377.27,293.12 378.42,297.98 379.20,298.30 C379.98,298.62 380.20,293.58 381.00,296.30 C381.80,299.02 383.18,308.98 384.00,314.60 C384.82,320.22 384.78,325.35 385.90,330.00 C387.02,334.65 389.42,339.93 390.70,342.50 C391.98,345.07 392.35,342.72 393.60,345.40 C394.85,348.08 397.05,356.00 398.20,358.60 C399.35,361.20 399.45,361.38 400.50,361.00 C401.55,360.62 403.03,357.75 404.50,356.30 C405.97,354.85 408.12,352.18 409.30,352.30 C410.48,352.42 410.55,354.38 411.60,357.00 C412.65,359.62 414.40,365.75 415.60,368.00 C416.80,370.25 417.62,369.82 418.80,370.50 C419.98,371.18 421.38,370.52 422.70,372.10 C424.02,373.68 425.25,377.35 426.70,380.00 C428.15,382.65 429.68,386.02 431.40,388.00 C433.12,389.98 435.40,390.98 437.00,391.90 C438.60,392.82 429.67,393.18 441.00,393.50 C452.33,393.82 494.33,393.75 505.00,393.80" fill="none" stroke="#000" stroke-width="1.7" stroke-linejoin="round" stroke-linecap="round"/>
<path d="M311.00,319.00 C311.20,326.67 311.58,353.23 312.20,365.00 C312.82,376.77 313.73,385.43 314.70,389.60 C315.67,393.77 316.28,390.10 318.00,390.00 C319.72,389.90 322.67,389.62 325.00,389.00 C327.33,388.38 329.55,386.68 332.00,386.30 C334.45,385.92 337.28,387.75 339.70,386.70 C342.12,385.65 344.08,383.68 346.50,380.00 C348.92,376.32 352.12,368.60 354.20,364.60 C356.28,360.60 357.57,361.13 359.00,356.00 C360.43,350.87 361.68,340.70 362.80,333.80 C363.92,326.90 364.58,318.77 365.70,314.60 C366.82,310.43 368.07,310.40 369.50,308.80 C370.93,307.20 372.85,306.92 374.30,305.00 C375.75,303.08 377.13,299.87 378.20,297.30 C379.27,294.73 379.98,289.65 380.70,289.60 C381.42,289.55 381.63,290.60 382.50,297.00 C383.37,303.40 384.85,319.30 385.90,328.00 C386.95,336.70 387.83,345.18 388.80,349.20 C389.77,353.22 390.58,353.63 391.70,352.10 C392.82,350.57 394.03,344.72 395.50,340.00 C396.97,335.28 399.13,326.63 400.50,323.80 C401.87,320.97 402.63,322.73 403.70,323.00 C404.77,323.27 405.78,326.47 406.90,325.40 C408.02,324.33 409.55,317.17 410.40,316.60 C411.25,316.03 411.13,317.63 412.00,322.00 C412.87,326.37 414.60,339.73 415.60,342.80 C416.60,345.87 417.08,342.03 418.00,340.40 C418.92,338.77 420.18,333.78 421.10,333.00 C422.02,332.22 422.43,333.28 423.50,335.70 C424.57,338.12 426.05,343.28 427.50,347.50 C428.95,351.72 430.88,356.77 432.20,361.00 C433.52,365.23 434.20,369.07 435.40,372.90 C436.60,376.73 438.08,380.97 439.40,384.00 C440.72,387.03 442.12,389.57 443.30,391.10 C444.48,392.63 445.38,392.75 446.50,393.20 C447.62,393.65 440.25,393.70 450.00,393.80 C459.75,393.90 495.83,393.80 505.00,393.80" fill="none" stroke="#d0181f" stroke-width="1.7" stroke-linejoin="round" stroke-linecap="round"/>
<line x1="83.8" y1="441.6" x2="83.8" y2="579.6" stroke="#000" stroke-width="1.3"/>
<line x1="80.5" y1="576.2" x2="83.8" y2="576.2" stroke="#000" stroke-width="1.3"/>
<text transform="translate(76.6,579.7) scale(0.96,1)" x="0" y="0" font-size="9.7" text-anchor="end" font-weight="normal" font-style="normal" fill="#000"  stroke="none" style="stroke:none">0</text>
<line x1="80.5" y1="542.7" x2="83.8" y2="542.7" stroke="#000" stroke-width="1.3"/>
<text transform="translate(76.6,546.2) scale(0.96,1)" x="0" y="0" font-size="9.7" text-anchor="end" font-weight="normal" font-style="normal" fill="#000"  stroke="none" style="stroke:none">2000</text>
<line x1="80.5" y1="509.20000000000005" x2="83.8" y2="509.20000000000005" stroke="#000" stroke-width="1.3"/>
<text transform="translate(76.6,512.7) scale(0.96,1)" x="0" y="0" font-size="9.7" text-anchor="end" font-weight="normal" font-style="normal" fill="#000"  stroke="none" style="stroke:none">4000</text>
<line x1="80.5" y1="475.70000000000005" x2="83.8" y2="475.70000000000005" stroke="#000" stroke-width="1.3"/>
<text transform="translate(76.6,479.20000000000005) scale(0.96,1)" x="0" y="0" font-size="9.7" text-anchor="end" font-weight="normal" font-style="normal" fill="#000"  stroke="none" style="stroke:none">6000</text>
<line x1="80.5" y1="442.20000000000005" x2="83.8" y2="442.20000000000005" stroke="#000" stroke-width="1.3"/>
<text transform="translate(76.6,445.70000000000005) scale(0.96,1)" x="0" y="0" font-size="9.7" text-anchor="end" font-weight="normal" font-style="normal" fill="#000"  stroke="none" style="stroke:none">8000</text>
<line x1="83.14999999999999" y1="576.2" x2="215.0" y2="576.2" stroke="#000" stroke-width="1.3"/>
<line x1="149.2" y1="576.2" x2="149.2" y2="580.0" stroke="#000" stroke-width="1.3"/>
<line x1="214.5" y1="576.2" x2="214.5" y2="580.0" stroke="#000" stroke-width="1.3"/>
<circle cx="120.2" cy="535.6" r="4.15" fill="#979797" stroke="#000" stroke-width="1.45"/>
<circle cx="120.2" cy="531.5" r="4.15" fill="#979797" stroke="#000" stroke-width="1.45"/>
<circle cx="120.2" cy="527.0" r="4.15" fill="#979797" stroke="#000" stroke-width="1.45"/>
<circle cx="120.2" cy="522.6" r="4.15" fill="#979797" stroke="#000" stroke-width="1.45"/>
<circle cx="120.2" cy="518.4" r="4.15" fill="#979797" stroke="#000" stroke-width="1.45"/>
<circle cx="120.2" cy="513.6" r="4.15" fill="#979797" stroke="#000" stroke-width="1.45"/>
<rect x="111" y="524" width="18.6" height="4" fill="#000"/>
<circle cx="177.75" cy="507.3" r="4.15" fill="#fff" stroke="#000" stroke-width="1.35"/>
<circle cx="177.75" cy="497.3" r="4.15" fill="#fff" stroke="#000" stroke-width="1.35"/>
<circle cx="177.75" cy="491.5" r="4.15" fill="#fff" stroke="#000" stroke-width="1.35"/>
<circle cx="177.75" cy="485.2" r="4.15" fill="#fff" stroke="#000" stroke-width="1.35"/>
<circle cx="177.75" cy="472.1" r="4.15" fill="#fff" stroke="#000" stroke-width="1.35"/>
<rect x="169" y="489.1" width="18.3" height="3.8" fill="#000"/>
<path d="M178.00,457.40 L178.00,454.30 M178.00,457.40 L180.95,456.44 M178.00,457.40 L179.82,459.91 M178.00,457.40 L176.18,459.91 M178.00,457.40 L175.05,456.44 " stroke="#000" stroke-width="1.5" stroke-linecap="butt" fill="none"/>
<text x="108.7" y="597.4" font-size="13.7" text-anchor="start" font-weight="normal" font-style="normal" fill="#000" >Wt</text>
<text x="152.4" y="597.4" font-size="13.5" text-anchor="start" font-weight="normal" font-style="italic" fill="#000" >Crebbp+/-</text>
<text transform="translate(43.0,506.2) rotate(-90)" x="0" y="0" font-size="13.65" text-anchor="middle" font-style="normal">Mean Fluorescence Intensity</text>
<line x1="353.3" y1="443.5" x2="353.3" y2="581.2" stroke="#000" stroke-width="1.3"/>
<line x1="350.3" y1="578.0" x2="353.3" y2="578.0" stroke="#000" stroke-width="1.3"/>
<text transform="translate(346.4,581.4) scale(0.96,1)" x="0" y="0" font-size="9.5" text-anchor="end" font-weight="normal" font-style="normal" fill="#000"  stroke="none" style="stroke:none">0</text>
<line x1="350.3" y1="544.5" x2="353.3" y2="544.5" stroke="#000" stroke-width="1.3"/>
<text transform="translate(346.4,547.9) scale(0.96,1)" x="0" y="0" font-size="9.5" text-anchor="end" font-weight="normal" font-style="normal" fill="#000"  stroke="none" style="stroke:none">500</text>
<line x1="350.3" y1="511.0" x2="353.3" y2="511.0" stroke="#000" stroke-width="1.3"/>
<text transform="translate(346.4,514.4) scale(0.96,1)" x="0" y="0" font-size="9.5" text-anchor="end" font-weight="normal" font-style="normal" fill="#000"  stroke="none" style="stroke:none">1000</text>
<line x1="350.3" y1="477.5" x2="353.3" y2="477.5" stroke="#000" stroke-width="1.3"/>
<text transform="translate(346.4,480.9) scale(0.96,1)" x="0" y="0" font-size="9.5" text-anchor="end" font-weight="normal" font-style="normal" fill="#000"  stroke="none" style="stroke:none">1500</text>
<line x1="350.3" y1="444.0" x2="353.3" y2="444.0" stroke="#000" stroke-width="1.3"/>
<text transform="translate(346.4,447.4) scale(0.96,1)" x="0" y="0" font-size="9.5" text-anchor="end" font-weight="normal" font-style="normal" fill="#000"  stroke="none" style="stroke:none">2000</text>
<line x1="352.65000000000003" y1="578.0" x2="486.3" y2="578.0" stroke="#000" stroke-width="1.3"/>
<line x1="420.3" y1="578.0" x2="420.3" y2="581.2" stroke="#000" stroke-width="1.3"/>
<line x1="485.7" y1="578.0" x2="485.7" y2="581.2" stroke="#000" stroke-width="1.3"/>
<circle cx="390.8" cy="492.2" r="3.9" fill="#979797" stroke="#000" stroke-width="1.5"/>
<circle cx="390.8" cy="488.4" r="3.9" fill="#979797" stroke="#000" stroke-width="1.5"/>
<circle cx="390.8" cy="484.7" r="3.9" fill="#979797" stroke="#000" stroke-width="1.5"/>
<rect x="381.9" y="487.7" width="18.2" height="3.7" fill="#000"/>
<circle cx="448.5" cy="489.7" r="4.45" fill="#fff" stroke="#000" stroke-width="1.4"/>
<circle cx="448.5" cy="476.5" r="4.45" fill="#fff" stroke="#000" stroke-width="1.4"/>
<circle cx="448.5" cy="471.0" r="4.45" fill="#fff" stroke="#000" stroke-width="1.4"/>
<circle cx="448.5" cy="466.5" r="4.45" fill="#fff" stroke="#000" stroke-width="1.4"/>
<rect x="439.2" y="473.7" width="18.8" height="3.8" fill="#000"/>
<path d="M448.30,447.70 L448.30,445.00 M448.30,447.70 L450.87,446.87 M448.30,447.70 L449.89,449.88 M448.30,447.70 L446.71,449.88 M448.30,447.70 L445.73,446.87 " stroke="#000" stroke-width="1.4" stroke-linecap="butt" fill="none"/>
<text x="383.8" y="598.4" font-size="13.7" text-anchor="start" font-weight="normal" font-style="normal" fill="#000" >Wt</text>
<text x="424.0" y="598.4" font-size="13.5" text-anchor="start" font-weight="normal" font-style="italic" fill="#000" >Crebbp+/-</text>
<text transform="translate(314.2,510.8) rotate(-90)" x="0" y="0" font-size="13.65" text-anchor="middle" font-style="normal">Mean Fluorescence Intensity</text>
</svg>
</body></html>
